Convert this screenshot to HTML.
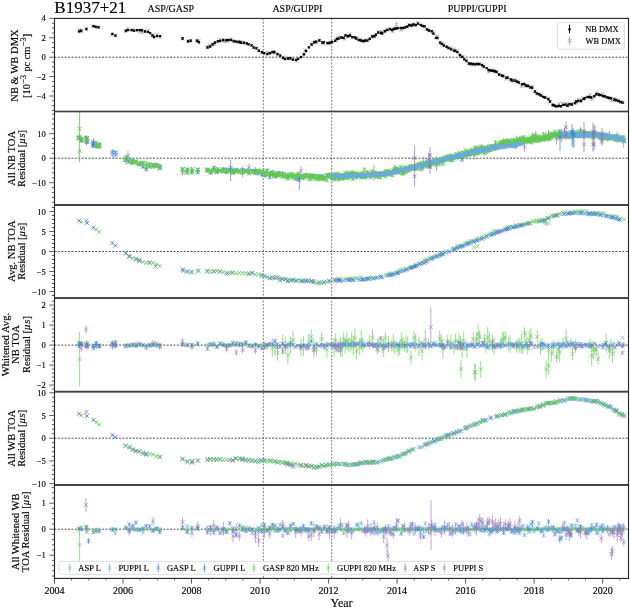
<!DOCTYPE html>
<html><head><meta charset="utf-8"><style>
html,body{margin:0;padding:0;background:#fff;width:630px;height:608px;overflow:hidden}
svg{display:block;font-family:"Liberation Serif",serif;fill:#222;will-change:transform}
text{fill:#000;stroke:#000;stroke-width:0.15px}
</style></head><body>
<svg width="630" height="608" viewBox="0 0 630 608">
<rect width="630" height="608" fill="#fff"/>
<defs>
<clipPath id="c0"><rect x="54.5" y="18.4" width="574" height="93.1"/></clipPath>
<clipPath id="c1"><rect x="54.5" y="111.5" width="574" height="93.5"/></clipPath>
<clipPath id="c2"><rect x="54.5" y="205" width="574" height="93.2"/></clipPath>
<clipPath id="c3"><rect x="54.5" y="298.2" width="574" height="93.4"/></clipPath>
<clipPath id="c4"><rect x="54.5" y="391.6" width="574" height="93.3"/></clipPath>
<clipPath id="c5"><rect x="54.5" y="484.9" width="574" height="93.5"/></clipPath>
</defs>
<line x1="54.5" y1="57.2" x2="628.5" y2="57.2" stroke="#333" stroke-width="0.9" stroke-dasharray="1.9 1.5"/>
<line x1="54.5" y1="158.2" x2="628.5" y2="158.2" stroke="#333" stroke-width="0.9" stroke-dasharray="1.9 1.5"/>
<line x1="54.5" y1="251.5" x2="628.5" y2="251.5" stroke="#333" stroke-width="0.9" stroke-dasharray="1.9 1.5"/>
<line x1="54.5" y1="345.1" x2="628.5" y2="345.1" stroke="#333" stroke-width="0.9" stroke-dasharray="1.9 1.5"/>
<line x1="54.5" y1="438.2" x2="628.5" y2="438.2" stroke="#333" stroke-width="0.9" stroke-dasharray="1.9 1.5"/>
<line x1="54.5" y1="529.2" x2="628.5" y2="529.2" stroke="#333" stroke-width="0.9" stroke-dasharray="1.9 1.5"/>
<line x1="263.3" y1="18.4" x2="263.3" y2="578.4" stroke="#555" stroke-width="0.8" stroke-dasharray="1.9 1.5"/>
<line x1="331.7" y1="18.4" x2="331.7" y2="578.4" stroke="#555" stroke-width="0.8" stroke-dasharray="1.9 1.5"/>
<g clip-path="url(#c0)">
<path d="M79.2 28.3v3.2M81.7 29.9v3.2M86.1 27.2v3.2M93 24.7v3.2M97.9 25.8v3.2M112.2 33.2v3.2M115.2 33.7v3.2M125.7 29.8v3.2M127.8 26.9v3.2M132.1 28.2v3.2M136.1 28.9v3.2M139.5 29.7v3.2M141.9 31v3.2M144.3 29.9v3.2M148.4 29.2v3.2M152.2 33.8v3.2M153.5 34.5v3.2M157.1 33.1v3.2M159.8 35.3v3.2M182.5 37.1v3.2M188.3 39.5v3.2M190.7 39v3.2M196.3 39.1v3.2M198.8 39.1v3.2M207.1 44.9v3.2M209.8 44.1v3.2M212.1 43.1v3.2M214.8 42.7v3.2M217.8 39.9v3.2M219.6 37.9v3.2M222.6 39.1v3.2M224.8 39.9v3.2M227.6 39.4v3.2M231.4 37.5v3.2M232.7 38.9v3.2M236.2 39.9v3.2M239.4 40.3v3.2M240.9 40.3v3.2M243.4 41.1v3.2M246.7 42v3.2M251.5 43.9v3.2M253.3 44.8v3.2M256.5 46.7v3.2M258.4 48.8v3.2M261.4 50.8v3.2M264.2 52v3.2M267.6 50.9v3.2M269.6 51.9v3.2M272.5 50.8v3.2M274.7 51.4v3.2M277.4 53.3v3.2M283.6 55.7v3.2M287.8 56.8v3.2M290.6 57.1v3.2M293 57.4v3.2M296.5 59.2v3.2M303.2 52.9v3.2M305 48.5v3.2M311.9 42.8v3.2M314.5 41.1v3.2M316.4 40.4v3.2M319.8 38.8v3.2M322.5 40.9v3.2M323.5 42.1v3.2M327.9 42.2v3.2M329.4 41.4v3.2M332.3 40.9v3.2M335.7 38.9v3.2M336.6 37.5v3.2M338.5 36.1v3.2M341.6 36v3.2M344.6 37.3v3.2M346.2 34v3.2M348.2 34.8v3.2M350.2 32.6v3.2M352.6 35.7v3.2M356.8 36v3.2M358.7 38.2v3.2M360.5 37.9v3.2M363.5 39.4v3.2M365.5 38.7v3.2M368.3 38.6v3.2M372.5 34.2v3.2M374.3 35.3v3.2M378.1 30.4v3.2M381.5 31.4v3.2M381.8 30.1v3.2M383.9 29.8v3.2M387.2 28.5v3.2M389.6 27.1v3.2M392.9 30v3.2M394.5 26.8v3.2M396 26.6v3.2M401 28.3v3.2M402 27.1v3.2M404.9 26.1v3.2M407 25.2v3.2M409 23.1v3.2M413.2 23.6v3.2M414.9 22.7v3.2M418.1 21.5v3.2M422.3 23.8v3.2M426.1 27.7v3.2M429 29.2v3.2M431.9 30.6v3.2M433.4 30.7v3.2M436.7 35v3.2M437.3 35v3.2M439.9 41.2v3.2M442.2 42.2v3.2M443.4 43.5v3.2M448.1 45.7v3.2M451 46.4v3.2M453.9 47.7v3.2M454.8 49v3.2M457.1 49.5v3.2M459.7 54.5v3.2M463.5 55.1v3.2M466.2 60.1v3.2M469 61.9v3.2M470.5 62.8v3.2M472.9 63.1v3.2M475.2 61.9v3.2M479.4 62.3v3.2M482.4 63.5v3.2M483.3 65.4v3.2M488.5 70.2v3.2M491.5 69v3.2M493.4 69.1v3.2M495.4 69.9v3.2M495.5 69.9v3.2M499.1 73.1v3.2M503.1 74.7v3.2M506.1 77.2v3.2M507 76v3.2M510.6 78.9v3.2M512.6 78.3v3.2M515.2 78.6v3.2M517.7 79.7v3.2M521.5 84.7v3.2M525.1 84.1v3.2M528 84.8v3.2M530.8 85.7v3.2M532.6 85.2v3.2M534.6 90.2v3.2M539.6 92.5v3.2M541 93.9v3.2M545.3 95.8v3.2M548.6 97.1v3.2M549.8 100.2v3.2M554.3 103.5v3.2M556.3 104.8v3.2M559 102.3v3.2M562.4 102v3.2M566.2 102.2v3.2M567.7 102.9v3.2M570.3 103v3.2M572.1 102v3.2M575.7 101.5v3.2M576.1 100.6v3.2M578.4 98.1v3.2M580.6 98.5v3.2M583.2 96.6v3.2M589.9 93.5v3.2M591.9 97.6v3.2M594 95.6v3.2M597 91.2v3.2M600.6 93.6v3.2M603.1 92.6v3.2M604.5 95v3.2M606.9 96v3.2M611.7 98.9v3.2M614.3 97.4v3.2M615.7 98.3v3.2M618.3 98.5v3.2M620.7 100.7v3.2M622.9 100.7v3.2M77.3 28l3.8 3.8m0 -3.8l-3.8 3.8M79.8 29.6l3.8 3.8m0 -3.8l-3.8 3.8M84.2 26.9l3.8 3.8m0 -3.8l-3.8 3.8M91.1 24.4l3.8 3.8m0 -3.8l-3.8 3.8M96 25.5l3.8 3.8m0 -3.8l-3.8 3.8M110.3 32.9l3.8 3.8m0 -3.8l-3.8 3.8M113.3 33.4l3.8 3.8m0 -3.8l-3.8 3.8M123.8 29.5l3.8 3.8m0 -3.8l-3.8 3.8M125.9 26.6l3.8 3.8m0 -3.8l-3.8 3.8M130.2 27.9l3.8 3.8m0 -3.8l-3.8 3.8M134.2 28.6l3.8 3.8m0 -3.8l-3.8 3.8M137.6 29.4l3.8 3.8m0 -3.8l-3.8 3.8M140 30.7l3.8 3.8m0 -3.8l-3.8 3.8M142.4 29.6l3.8 3.8m0 -3.8l-3.8 3.8M146.5 28.9l3.8 3.8m0 -3.8l-3.8 3.8M150.3 33.5l3.8 3.8m0 -3.8l-3.8 3.8M151.6 34.2l3.8 3.8m0 -3.8l-3.8 3.8M155.2 32.8l3.8 3.8m0 -3.8l-3.8 3.8M157.9 35l3.8 3.8m0 -3.8l-3.8 3.8M180.6 36.8l3.8 3.8m0 -3.8l-3.8 3.8M186.4 39.2l3.8 3.8m0 -3.8l-3.8 3.8M188.8 38.7l3.8 3.8m0 -3.8l-3.8 3.8M194.4 38.8l3.8 3.8m0 -3.8l-3.8 3.8M196.9 38.8l3.8 3.8m0 -3.8l-3.8 3.8M205.2 44.6l3.8 3.8m0 -3.8l-3.8 3.8M207.9 43.8l3.8 3.8m0 -3.8l-3.8 3.8M210.2 42.8l3.8 3.8m0 -3.8l-3.8 3.8M212.9 42.4l3.8 3.8m0 -3.8l-3.8 3.8M215.9 39.6l3.8 3.8m0 -3.8l-3.8 3.8M217.7 37.6l3.8 3.8m0 -3.8l-3.8 3.8M220.7 38.8l3.8 3.8m0 -3.8l-3.8 3.8M222.9 39.6l3.8 3.8m0 -3.8l-3.8 3.8M225.7 39.1l3.8 3.8m0 -3.8l-3.8 3.8M229.5 37.2l3.8 3.8m0 -3.8l-3.8 3.8M230.8 38.6l3.8 3.8m0 -3.8l-3.8 3.8M234.3 39.6l3.8 3.8m0 -3.8l-3.8 3.8M237.5 40l3.8 3.8m0 -3.8l-3.8 3.8M239 40l3.8 3.8m0 -3.8l-3.8 3.8M241.5 40.8l3.8 3.8m0 -3.8l-3.8 3.8M244.8 41.7l3.8 3.8m0 -3.8l-3.8 3.8M249.6 43.6l3.8 3.8m0 -3.8l-3.8 3.8M251.4 44.5l3.8 3.8m0 -3.8l-3.8 3.8M254.6 46.4l3.8 3.8m0 -3.8l-3.8 3.8M256.5 48.5l3.8 3.8m0 -3.8l-3.8 3.8M259.5 50.5l3.8 3.8m0 -3.8l-3.8 3.8M262.3 51.7l3.8 3.8m0 -3.8l-3.8 3.8M265.7 50.6l3.8 3.8m0 -3.8l-3.8 3.8M267.7 51.6l3.8 3.8m0 -3.8l-3.8 3.8M270.6 50.5l3.8 3.8m0 -3.8l-3.8 3.8M272.8 51.1l3.8 3.8m0 -3.8l-3.8 3.8M275.5 53l3.8 3.8m0 -3.8l-3.8 3.8M281.7 55.4l3.8 3.8m0 -3.8l-3.8 3.8M285.9 56.5l3.8 3.8m0 -3.8l-3.8 3.8M288.7 56.8l3.8 3.8m0 -3.8l-3.8 3.8M291.1 57.1l3.8 3.8m0 -3.8l-3.8 3.8M294.6 58.9l3.8 3.8m0 -3.8l-3.8 3.8M301.3 52.6l3.8 3.8m0 -3.8l-3.8 3.8M303.1 48.2l3.8 3.8m0 -3.8l-3.8 3.8M310 42.5l3.8 3.8m0 -3.8l-3.8 3.8M312.6 40.8l3.8 3.8m0 -3.8l-3.8 3.8M314.5 40.1l3.8 3.8m0 -3.8l-3.8 3.8M317.9 38.5l3.8 3.8m0 -3.8l-3.8 3.8M320.6 40.6l3.8 3.8m0 -3.8l-3.8 3.8M321.6 41.8l3.8 3.8m0 -3.8l-3.8 3.8M326 41.9l3.8 3.8m0 -3.8l-3.8 3.8M327.5 41.1l3.8 3.8m0 -3.8l-3.8 3.8M330.4 40.6l3.8 3.8m0 -3.8l-3.8 3.8M333.8 38.6l3.8 3.8m0 -3.8l-3.8 3.8M334.7 37.2l3.8 3.8m0 -3.8l-3.8 3.8M336.6 35.8l3.8 3.8m0 -3.8l-3.8 3.8M339.7 35.7l3.8 3.8m0 -3.8l-3.8 3.8M342.7 37l3.8 3.8m0 -3.8l-3.8 3.8M344.3 33.7l3.8 3.8m0 -3.8l-3.8 3.8M346.3 34.5l3.8 3.8m0 -3.8l-3.8 3.8M348.3 32.3l3.8 3.8m0 -3.8l-3.8 3.8M350.7 35.4l3.8 3.8m0 -3.8l-3.8 3.8M354.9 35.7l3.8 3.8m0 -3.8l-3.8 3.8M356.8 37.9l3.8 3.8m0 -3.8l-3.8 3.8M358.6 37.6l3.8 3.8m0 -3.8l-3.8 3.8M361.6 39.1l3.8 3.8m0 -3.8l-3.8 3.8M363.6 38.4l3.8 3.8m0 -3.8l-3.8 3.8M366.4 38.3l3.8 3.8m0 -3.8l-3.8 3.8M370.6 33.9l3.8 3.8m0 -3.8l-3.8 3.8M372.4 35l3.8 3.8m0 -3.8l-3.8 3.8M376.2 30.1l3.8 3.8m0 -3.8l-3.8 3.8M379.6 31.1l3.8 3.8m0 -3.8l-3.8 3.8M379.9 29.8l3.8 3.8m0 -3.8l-3.8 3.8M382 29.5l3.8 3.8m0 -3.8l-3.8 3.8M385.3 28.2l3.8 3.8m0 -3.8l-3.8 3.8M387.7 26.8l3.8 3.8m0 -3.8l-3.8 3.8M391 29.7l3.8 3.8m0 -3.8l-3.8 3.8M392.6 26.5l3.8 3.8m0 -3.8l-3.8 3.8M394.1 26.3l3.8 3.8m0 -3.8l-3.8 3.8M399.1 28l3.8 3.8m0 -3.8l-3.8 3.8M400.1 26.8l3.8 3.8m0 -3.8l-3.8 3.8M403 25.8l3.8 3.8m0 -3.8l-3.8 3.8M405.1 24.9l3.8 3.8m0 -3.8l-3.8 3.8M407.1 22.8l3.8 3.8m0 -3.8l-3.8 3.8M411.3 23.3l3.8 3.8m0 -3.8l-3.8 3.8M413 22.4l3.8 3.8m0 -3.8l-3.8 3.8M416.2 21.2l3.8 3.8m0 -3.8l-3.8 3.8M420.4 23.5l3.8 3.8m0 -3.8l-3.8 3.8M424.2 27.4l3.8 3.8m0 -3.8l-3.8 3.8M427.1 28.9l3.8 3.8m0 -3.8l-3.8 3.8M430 30.3l3.8 3.8m0 -3.8l-3.8 3.8M431.5 30.4l3.8 3.8m0 -3.8l-3.8 3.8M434.8 34.7l3.8 3.8m0 -3.8l-3.8 3.8M435.4 34.7l3.8 3.8m0 -3.8l-3.8 3.8M438 40.9l3.8 3.8m0 -3.8l-3.8 3.8M440.3 41.9l3.8 3.8m0 -3.8l-3.8 3.8M441.5 43.2l3.8 3.8m0 -3.8l-3.8 3.8M446.2 45.4l3.8 3.8m0 -3.8l-3.8 3.8M449.1 46.1l3.8 3.8m0 -3.8l-3.8 3.8M452 47.4l3.8 3.8m0 -3.8l-3.8 3.8M452.9 48.7l3.8 3.8m0 -3.8l-3.8 3.8M455.2 49.2l3.8 3.8m0 -3.8l-3.8 3.8M457.8 54.2l3.8 3.8m0 -3.8l-3.8 3.8M461.6 54.8l3.8 3.8m0 -3.8l-3.8 3.8M464.3 59.8l3.8 3.8m0 -3.8l-3.8 3.8M467.1 61.6l3.8 3.8m0 -3.8l-3.8 3.8M468.6 62.5l3.8 3.8m0 -3.8l-3.8 3.8M471 62.8l3.8 3.8m0 -3.8l-3.8 3.8M473.3 61.6l3.8 3.8m0 -3.8l-3.8 3.8M477.5 62l3.8 3.8m0 -3.8l-3.8 3.8M480.5 63.2l3.8 3.8m0 -3.8l-3.8 3.8M481.4 65.1l3.8 3.8m0 -3.8l-3.8 3.8M486.6 69.9l3.8 3.8m0 -3.8l-3.8 3.8M489.6 68.7l3.8 3.8m0 -3.8l-3.8 3.8M491.5 68.8l3.8 3.8m0 -3.8l-3.8 3.8M493.5 69.6l3.8 3.8m0 -3.8l-3.8 3.8M493.6 69.6l3.8 3.8m0 -3.8l-3.8 3.8M497.2 72.8l3.8 3.8m0 -3.8l-3.8 3.8M501.2 74.4l3.8 3.8m0 -3.8l-3.8 3.8M504.2 76.9l3.8 3.8m0 -3.8l-3.8 3.8M505.1 75.7l3.8 3.8m0 -3.8l-3.8 3.8M508.7 78.6l3.8 3.8m0 -3.8l-3.8 3.8M510.7 78l3.8 3.8m0 -3.8l-3.8 3.8M513.3 78.3l3.8 3.8m0 -3.8l-3.8 3.8M515.8 79.4l3.8 3.8m0 -3.8l-3.8 3.8M519.6 84.4l3.8 3.8m0 -3.8l-3.8 3.8M523.2 83.8l3.8 3.8m0 -3.8l-3.8 3.8M526.1 84.5l3.8 3.8m0 -3.8l-3.8 3.8M528.9 85.4l3.8 3.8m0 -3.8l-3.8 3.8M530.7 84.9l3.8 3.8m0 -3.8l-3.8 3.8M532.7 89.9l3.8 3.8m0 -3.8l-3.8 3.8M537.7 92.2l3.8 3.8m0 -3.8l-3.8 3.8M539.1 93.6l3.8 3.8m0 -3.8l-3.8 3.8M543.4 95.5l3.8 3.8m0 -3.8l-3.8 3.8M546.7 96.8l3.8 3.8m0 -3.8l-3.8 3.8M547.9 99.9l3.8 3.8m0 -3.8l-3.8 3.8M552.4 103.2l3.8 3.8m0 -3.8l-3.8 3.8M554.4 104.5l3.8 3.8m0 -3.8l-3.8 3.8M557.1 102l3.8 3.8m0 -3.8l-3.8 3.8M560.5 101.7l3.8 3.8m0 -3.8l-3.8 3.8M564.3 101.9l3.8 3.8m0 -3.8l-3.8 3.8M565.8 102.6l3.8 3.8m0 -3.8l-3.8 3.8M568.4 102.7l3.8 3.8m0 -3.8l-3.8 3.8M570.2 101.7l3.8 3.8m0 -3.8l-3.8 3.8M573.8 101.2l3.8 3.8m0 -3.8l-3.8 3.8M574.2 100.3l3.8 3.8m0 -3.8l-3.8 3.8M576.5 97.8l3.8 3.8m0 -3.8l-3.8 3.8M578.7 98.2l3.8 3.8m0 -3.8l-3.8 3.8M581.3 96.3l3.8 3.8m0 -3.8l-3.8 3.8M588 93.2l3.8 3.8m0 -3.8l-3.8 3.8M590 97.3l3.8 3.8m0 -3.8l-3.8 3.8M592.1 95.3l3.8 3.8m0 -3.8l-3.8 3.8M595.1 90.9l3.8 3.8m0 -3.8l-3.8 3.8M598.7 93.3l3.8 3.8m0 -3.8l-3.8 3.8M601.2 92.3l3.8 3.8m0 -3.8l-3.8 3.8M602.6 94.7l3.8 3.8m0 -3.8l-3.8 3.8M605 95.7l3.8 3.8m0 -3.8l-3.8 3.8M609.8 98.6l3.8 3.8m0 -3.8l-3.8 3.8M612.4 97.1l3.8 3.8m0 -3.8l-3.8 3.8M613.8 98l3.8 3.8m0 -3.8l-3.8 3.8M616.4 98.2l3.8 3.8m0 -3.8l-3.8 3.8M618.8 100.4l3.8 3.8m0 -3.8l-3.8 3.8M621 100.4l3.8 3.8m0 -3.8l-3.8 3.8M395 23l3 3m0 -3l-3 3M396.5 22v5" stroke="#999" stroke-width="0.6" fill="none"/>
<path d="M79 30.3v2.2M81.3 29.2v3M86.4 28.2v1.9M93.4 25v2.2M95.7 25.5v2.5M98.5 26.3v1.9M112.4 32.6v2.5M115.4 34.5v2.1M125.8 29.4v2.6M128.2 29.1v1.9M131.6 29.1v1.9M134 29.7v1.9M137 28.9v2.4M139.7 28.8v2.6M142 29.3v2M145.1 30v2.8M147.9 30.9v2M150.2 32.1v2M152.5 34.3v2.1M154.1 35.9v2.3M157.1 35.2v1.8M160.1 35v2.2M182.6 37.1v2.7M188 40.1v2.3M190.7 39.8v1.8M197.2 39.5v2.4M198.8 41.2v2.2M207.5 46.2v2.5M210.2 45.2v2.5M212.6 43.2v2.1M215 41.3v2.5M217.7 40.4v1.9M220.2 39.4v2.9M223.1 38.7v2.6M226.2 38.9v2.6M228.1 39v2.1M230.7 39v2M233.7 40.1v2.3M236.2 40.6v2M238.7 40.7v2.5M241 41.1v2.9M243.9 41.7v2.2M246.7 42.3v2.2M248.6 43.2v2.2M251.5 44.4v1.9M253.6 46.3v2.6M256.4 47.3v2M258.9 49.8v1.9M262 51.3v2M264.3 52.2v1.9M267.4 53v2.1M270 52.2v1.9M272.4 51v2M274.2 50.6v2.7M277.5 53.1v1.9M280.3 54v3.3M282.9 56.5v2.7M285 58v2M287.9 57v2.8M290.4 57.1v2.6M293 58.8v1.9M296.3 58.7v2.2M298.2 57.8v2M301.1 55.9v2.4M304 53.1v2.1M306.1 49.9v2M308.9 46.4v2M311.5 43.4v2M314.1 40.5v3.5M316.3 40.3v2.8M319.3 39.3v2.3M322.4 41.1v3M324 41v2.6M327.4 42.2v1.9M329.7 41.4v2.7M332.1 40.7v2.7M335.2 39.7v2.1M337 37.7v2.3M338.5 37.4v2.2M341.1 36.4v2M343.5 36.7v2.2M345.4 33.9v3M347.9 35.3v1.9M349.9 34.3v2.3M352.3 36v2.3M354.8 36.4v2M356.3 37.3v2.3M358.8 39.2v1.8M360.7 39.4v2.2M363.1 39.5v3.3M364.9 39.2v3M367.3 39.6v2.1M369.6 37.4v2.8M372.2 35.3v2.2M374.5 35.3v1.9M375.8 33.3v2.8M378.2 31.4v2.2M380.9 31.2v3.2M382.2 31.8v3M384.9 30v2.5M387.3 28.8v2M389.9 28.2v2M391.9 28.5v2.8M393.8 27.7v2.6M396 27.5v1.8M398.2 27.1v2.1M401 26.6v2.5M402.6 27.1v1.9M404.8 26.5v1.9M407.2 25.3v2.7M409.3 23.9v2.7M411.4 24.5v2.2M413.3 23.2v2.6M415.9 24.1v2.2M417.9 22.7v2M420.7 24.1v2M422.7 25.1v1.9M424.7 25v2.5M427.1 28.3v2.2M429 29.3v2.2M431.7 30v2.2M433.5 32.6v2M435.9 36.9v2M437.4 37.2v1.9M440.2 41.7v1.9M441.7 42.8v2.1M443.8 43.8v3.3M446.6 45.6v2.3M448.6 47.1v2.1M451.2 48.3v2.1M454.1 49.9v1.9M455.2 49.5v2.3M457.5 51.1v2.2M460 53.7v2.7M462.3 55.7v2.4M464.2 58.2v2.3M466.4 59.7v1.9M468.9 62.1v2.8M471.1 62.4v2.6M472.7 62.9v2.3M475.3 63.4v1.9M477.5 63v2.1M479.3 63.2v2.1M482 64.2v1.9M483.8 65.2v2.4M486.6 67.2v1.9M488.6 68.8v2.5M490.7 69.4v2.2M492.7 69.5v2.6M495.1 70.3v1.9M496.6 71v1.8M499.1 73.4v2.3M501.8 74.3v2.4M503.2 74.9v2.2M506.4 76.4v2.5M507.7 76.5v2.5M510.8 78.4v2M512.4 79.5v2M515.2 79.8v1.8M517.1 80.8v1.8M518.8 81.6v1.9M521.9 83v2.5M524.2 82.9v2.3M525.9 84.1v3M528 84.6v2.2M530.2 86.3v2.1M532.2 86.1v3.2M535.1 90.5v1.9M536.7 92.4v2.3M539.1 93.3v1.8M541 94.5v1.9M543.3 95.8v2.1M545.3 96.5v2M548.3 97.9v2.3M550 100.3v2.3M552.6 103.4v3M554.5 104.2v2.9M556.5 105.3v2.1M558.8 104.4v2.9M560.9 105.2v2.2M563.3 103.9v1.9M565.4 103.4v2.4M567.6 104.5v2.4M569.4 103.1v2M571.8 103.6v1.9M574.9 102.1v1.9M576.3 99.9v3M578.3 99.8v2.3M581 99.4v3.3M583.6 97.9v2M584.8 97.1v2.3M587.4 95.9v2M589.5 95.8v2.7M591.3 96.4v2.2M594.4 94.9v2.5M596.3 93.1v2.4M598.5 92.8v3.2M600.4 94v2M603.1 95.2v1.9M604.9 95.3v2.2M607.2 96.2v2.2M609.1 96.4v3M611.3 96.9v2.7M614.4 98.6v1.9M615.9 99.2v2.1M618.4 99.7v2.5M620.5 100.6v2.4M622.5 101.7v1.8" stroke="#222" stroke-width="0.6" fill="none"/>
<path d="M78 30.3l2.1 2.1m0 -2.1l-2.1 2.1M80.2 29.6l2.1 2.1m0 -2.1l-2.1 2.1M85.4 28.1l2.1 2.1m0 -2.1l-2.1 2.1M92.4 25.1l2.1 2.1m0 -2.1l-2.1 2.1M94.7 25.8l2.1 2.1m0 -2.1l-2.1 2.1M97.5 26.2l2.1 2.1m0 -2.1l-2.1 2.1M111.4 32.8l2.1 2.1m0 -2.1l-2.1 2.1M114.4 34.6l2.1 2.1m0 -2.1l-2.1 2.1M124.8 29.6l2.1 2.1m0 -2.1l-2.1 2.1M127.1 29.1l2.1 2.1m0 -2.1l-2.1 2.1M130.5 29.1l2.1 2.1m0 -2.1l-2.1 2.1M132.9 29.6l2.1 2.1m0 -2.1l-2.1 2.1M135.9 29.1l2.1 2.1m0 -2.1l-2.1 2.1M138.6 29.1l2.1 2.1m0 -2.1l-2.1 2.1M140.9 29.2l2.1 2.1m0 -2.1l-2.1 2.1M144 30.3l2.1 2.1m0 -2.1l-2.1 2.1M146.8 30.8l2.1 2.1m0 -2.1l-2.1 2.1M149.1 32.1l2.1 2.1m0 -2.1l-2.1 2.1M151.4 34.4l2.1 2.1m0 -2.1l-2.1 2.1M153 36l2.1 2.1m0 -2.1l-2.1 2.1M156 35.1l2.1 2.1m0 -2.1l-2.1 2.1M159 35.1l2.1 2.1m0 -2.1l-2.1 2.1M181.5 37.4l2.1 2.1m0 -2.1l-2.1 2.1M186.9 40.2l2.1 2.1m0 -2.1l-2.1 2.1M189.6 39.7l2.1 2.1m0 -2.1l-2.1 2.1M196.1 39.7l2.1 2.1m0 -2.1l-2.1 2.1M197.8 41.2l2.1 2.1m0 -2.1l-2.1 2.1M206.5 46.4l2.1 2.1m0 -2.1l-2.1 2.1M209.2 45.4l2.1 2.1m0 -2.1l-2.1 2.1M211.6 43.2l2.1 2.1m0 -2.1l-2.1 2.1M213.9 41.5l2.1 2.1m0 -2.1l-2.1 2.1M216.7 40.3l2.1 2.1m0 -2.1l-2.1 2.1M219.1 39.8l2.1 2.1m0 -2.1l-2.1 2.1M222.1 38.9l2.1 2.1m0 -2.1l-2.1 2.1M225.1 39.2l2.1 2.1m0 -2.1l-2.1 2.1M227.1 39l2.1 2.1m0 -2.1l-2.1 2.1M229.6 38.9l2.1 2.1m0 -2.1l-2.1 2.1M232.6 40.2l2.1 2.1m0 -2.1l-2.1 2.1M235.2 40.6l2.1 2.1m0 -2.1l-2.1 2.1M237.7 40.9l2.1 2.1m0 -2.1l-2.1 2.1M239.9 41.5l2.1 2.1m0 -2.1l-2.1 2.1M242.8 41.7l2.1 2.1m0 -2.1l-2.1 2.1M245.7 42.3l2.1 2.1m0 -2.1l-2.1 2.1M247.6 43.3l2.1 2.1m0 -2.1l-2.1 2.1M250.5 44.3l2.1 2.1m0 -2.1l-2.1 2.1M252.6 46.6l2.1 2.1m0 -2.1l-2.1 2.1M255.4 47.2l2.1 2.1m0 -2.1l-2.1 2.1M257.8 49.7l2.1 2.1m0 -2.1l-2.1 2.1M261 51.2l2.1 2.1m0 -2.1l-2.1 2.1M263.2 52.1l2.1 2.1m0 -2.1l-2.1 2.1M266.3 53l2.1 2.1m0 -2.1l-2.1 2.1M268.9 52.1l2.1 2.1m0 -2.1l-2.1 2.1M271.4 51l2.1 2.1m0 -2.1l-2.1 2.1M273.2 50.9l2.1 2.1m0 -2.1l-2.1 2.1M276.5 53l2.1 2.1m0 -2.1l-2.1 2.1M279.2 54.6l2.1 2.1m0 -2.1l-2.1 2.1M281.9 56.8l2.1 2.1m0 -2.1l-2.1 2.1M283.9 57.9l2.1 2.1m0 -2.1l-2.1 2.1M286.9 57.4l2.1 2.1m0 -2.1l-2.1 2.1M289.3 57.3l2.1 2.1m0 -2.1l-2.1 2.1M292 58.6l2.1 2.1m0 -2.1l-2.1 2.1M295.2 58.8l2.1 2.1m0 -2.1l-2.1 2.1M297.2 57.8l2.1 2.1m0 -2.1l-2.1 2.1M300 56.1l2.1 2.1m0 -2.1l-2.1 2.1M303 53.2l2.1 2.1m0 -2.1l-2.1 2.1M305 49.9l2.1 2.1m0 -2.1l-2.1 2.1M307.8 46.3l2.1 2.1m0 -2.1l-2.1 2.1M310.5 43.4l2.1 2.1m0 -2.1l-2.1 2.1M313.1 41.2l2.1 2.1m0 -2.1l-2.1 2.1M315.2 40.7l2.1 2.1m0 -2.1l-2.1 2.1M318.3 39.4l2.1 2.1m0 -2.1l-2.1 2.1M321.3 41.5l2.1 2.1m0 -2.1l-2.1 2.1M322.9 41.3l2.1 2.1m0 -2.1l-2.1 2.1M326.4 42.1l2.1 2.1m0 -2.1l-2.1 2.1M328.7 41.7l2.1 2.1m0 -2.1l-2.1 2.1M331 41l2.1 2.1m0 -2.1l-2.1 2.1M334.2 39.7l2.1 2.1m0 -2.1l-2.1 2.1M335.9 37.9l2.1 2.1m0 -2.1l-2.1 2.1M337.4 37.5l2.1 2.1m0 -2.1l-2.1 2.1M340.1 36.4l2.1 2.1m0 -2.1l-2.1 2.1M342.5 36.8l2.1 2.1m0 -2.1l-2.1 2.1M344.4 34.3l2.1 2.1m0 -2.1l-2.1 2.1M346.9 35.2l2.1 2.1m0 -2.1l-2.1 2.1M348.8 34.4l2.1 2.1m0 -2.1l-2.1 2.1M351.3 36.1l2.1 2.1m0 -2.1l-2.1 2.1M353.8 36.3l2.1 2.1m0 -2.1l-2.1 2.1M355.2 37.4l2.1 2.1m0 -2.1l-2.1 2.1M357.7 39.1l2.1 2.1m0 -2.1l-2.1 2.1M359.7 39.4l2.1 2.1m0 -2.1l-2.1 2.1M362.1 40.1l2.1 2.1m0 -2.1l-2.1 2.1M363.8 39.6l2.1 2.1m0 -2.1l-2.1 2.1M366.2 39.6l2.1 2.1m0 -2.1l-2.1 2.1M368.6 37.7l2.1 2.1m0 -2.1l-2.1 2.1M371.2 35.4l2.1 2.1m0 -2.1l-2.1 2.1M373.5 35.2l2.1 2.1m0 -2.1l-2.1 2.1M374.8 33.7l2.1 2.1m0 -2.1l-2.1 2.1M377.2 31.5l2.1 2.1m0 -2.1l-2.1 2.1M379.9 31.8l2.1 2.1m0 -2.1l-2.1 2.1M381.2 32.3l2.1 2.1m0 -2.1l-2.1 2.1M383.9 30.2l2.1 2.1m0 -2.1l-2.1 2.1M386.2 28.8l2.1 2.1m0 -2.1l-2.1 2.1M388.9 28.1l2.1 2.1m0 -2.1l-2.1 2.1M390.9 28.9l2.1 2.1m0 -2.1l-2.1 2.1M392.7 27.9l2.1 2.1m0 -2.1l-2.1 2.1M394.9 27.4l2.1 2.1m0 -2.1l-2.1 2.1M397.2 27.1l2.1 2.1m0 -2.1l-2.1 2.1M400 26.8l2.1 2.1m0 -2.1l-2.1 2.1M401.5 27l2.1 2.1m0 -2.1l-2.1 2.1M403.7 26.4l2.1 2.1m0 -2.1l-2.1 2.1M406.2 25.6l2.1 2.1m0 -2.1l-2.1 2.1M408.2 24.2l2.1 2.1m0 -2.1l-2.1 2.1M410.4 24.5l2.1 2.1m0 -2.1l-2.1 2.1M412.3 23.5l2.1 2.1m0 -2.1l-2.1 2.1M414.8 24.1l2.1 2.1m0 -2.1l-2.1 2.1M416.9 22.6l2.1 2.1m0 -2.1l-2.1 2.1M419.7 24l2.1 2.1m0 -2.1l-2.1 2.1M421.7 25.1l2.1 2.1m0 -2.1l-2.1 2.1M423.6 25.3l2.1 2.1m0 -2.1l-2.1 2.1M426.1 28.3l2.1 2.1m0 -2.1l-2.1 2.1M427.9 29.4l2.1 2.1m0 -2.1l-2.1 2.1M430.6 30.1l2.1 2.1m0 -2.1l-2.1 2.1M432.4 32.6l2.1 2.1m0 -2.1l-2.1 2.1M434.9 36.8l2.1 2.1m0 -2.1l-2.1 2.1M436.4 37.1l2.1 2.1m0 -2.1l-2.1 2.1M439.2 41.6l2.1 2.1m0 -2.1l-2.1 2.1M440.7 42.8l2.1 2.1m0 -2.1l-2.1 2.1M442.7 44.4l2.1 2.1m0 -2.1l-2.1 2.1M445.5 45.7l2.1 2.1m0 -2.1l-2.1 2.1M447.5 47.1l2.1 2.1m0 -2.1l-2.1 2.1M450.1 48.3l2.1 2.1m0 -2.1l-2.1 2.1M453 49.8l2.1 2.1m0 -2.1l-2.1 2.1M454.2 49.6l2.1 2.1m0 -2.1l-2.1 2.1M456.4 51.1l2.1 2.1m0 -2.1l-2.1 2.1M458.9 54l2.1 2.1m0 -2.1l-2.1 2.1M461.2 55.8l2.1 2.1m0 -2.1l-2.1 2.1M463.2 58.3l2.1 2.1m0 -2.1l-2.1 2.1M465.4 59.6l2.1 2.1m0 -2.1l-2.1 2.1M467.9 62.5l2.1 2.1m0 -2.1l-2.1 2.1M470 62.6l2.1 2.1m0 -2.1l-2.1 2.1M471.7 63l2.1 2.1m0 -2.1l-2.1 2.1M474.2 63.3l2.1 2.1m0 -2.1l-2.1 2.1M476.5 63l2.1 2.1m0 -2.1l-2.1 2.1M478.3 63.1l2.1 2.1m0 -2.1l-2.1 2.1M480.9 64.1l2.1 2.1m0 -2.1l-2.1 2.1M482.7 65.3l2.1 2.1m0 -2.1l-2.1 2.1M485.6 67.1l2.1 2.1m0 -2.1l-2.1 2.1M487.5 69l2.1 2.1m0 -2.1l-2.1 2.1M489.7 69.4l2.1 2.1m0 -2.1l-2.1 2.1M491.6 69.7l2.1 2.1m0 -2.1l-2.1 2.1M494 70.2l2.1 2.1m0 -2.1l-2.1 2.1M495.6 70.9l2.1 2.1m0 -2.1l-2.1 2.1M498.1 73.5l2.1 2.1m0 -2.1l-2.1 2.1M500.8 74.4l2.1 2.1m0 -2.1l-2.1 2.1M502.1 75l2.1 2.1m0 -2.1l-2.1 2.1M505.3 76.6l2.1 2.1m0 -2.1l-2.1 2.1M506.6 76.6l2.1 2.1m0 -2.1l-2.1 2.1M509.7 78.4l2.1 2.1m0 -2.1l-2.1 2.1M511.4 79.5l2.1 2.1m0 -2.1l-2.1 2.1M514.1 79.6l2.1 2.1m0 -2.1l-2.1 2.1M516.1 80.7l2.1 2.1m0 -2.1l-2.1 2.1M517.7 81.5l2.1 2.1m0 -2.1l-2.1 2.1M520.9 83.2l2.1 2.1m0 -2.1l-2.1 2.1M523.2 83l2.1 2.1m0 -2.1l-2.1 2.1M524.8 84.5l2.1 2.1m0 -2.1l-2.1 2.1M527 84.7l2.1 2.1m0 -2.1l-2.1 2.1M529.2 86.3l2.1 2.1m0 -2.1l-2.1 2.1M531.1 86.7l2.1 2.1m0 -2.1l-2.1 2.1M534 90.5l2.1 2.1m0 -2.1l-2.1 2.1M535.7 92.5l2.1 2.1m0 -2.1l-2.1 2.1M538 93.2l2.1 2.1m0 -2.1l-2.1 2.1M540 94.4l2.1 2.1m0 -2.1l-2.1 2.1M542.2 95.8l2.1 2.1m0 -2.1l-2.1 2.1M544.2 96.5l2.1 2.1m0 -2.1l-2.1 2.1M547.3 98.1l2.1 2.1m0 -2.1l-2.1 2.1M549 100.4l2.1 2.1m0 -2.1l-2.1 2.1M551.6 103.9l2.1 2.1m0 -2.1l-2.1 2.1M553.5 104.6l2.1 2.1m0 -2.1l-2.1 2.1M555.4 105.3l2.1 2.1m0 -2.1l-2.1 2.1M557.7 104.8l2.1 2.1m0 -2.1l-2.1 2.1M559.9 105.2l2.1 2.1m0 -2.1l-2.1 2.1M562.3 103.8l2.1 2.1m0 -2.1l-2.1 2.1M564.3 103.6l2.1 2.1m0 -2.1l-2.1 2.1M566.5 104.7l2.1 2.1m0 -2.1l-2.1 2.1M568.4 103.1l2.1 2.1m0 -2.1l-2.1 2.1M570.8 103.5l2.1 2.1m0 -2.1l-2.1 2.1M573.8 102.1l2.1 2.1m0 -2.1l-2.1 2.1M575.2 100.4l2.1 2.1m0 -2.1l-2.1 2.1M577.3 99.9l2.1 2.1m0 -2.1l-2.1 2.1M580 100l2.1 2.1m0 -2.1l-2.1 2.1M582.5 97.9l2.1 2.1m0 -2.1l-2.1 2.1M583.7 97.2l2.1 2.1m0 -2.1l-2.1 2.1M586.4 95.9l2.1 2.1m0 -2.1l-2.1 2.1M588.4 96.1l2.1 2.1m0 -2.1l-2.1 2.1M590.2 96.4l2.1 2.1m0 -2.1l-2.1 2.1M593.3 95.1l2.1 2.1m0 -2.1l-2.1 2.1M595.2 93.2l2.1 2.1m0 -2.1l-2.1 2.1M597.5 93.4l2.1 2.1m0 -2.1l-2.1 2.1M599.4 94l2.1 2.1m0 -2.1l-2.1 2.1M602 95.1l2.1 2.1m0 -2.1l-2.1 2.1M603.9 95.3l2.1 2.1m0 -2.1l-2.1 2.1M606.2 96.3l2.1 2.1m0 -2.1l-2.1 2.1M608.1 96.9l2.1 2.1m0 -2.1l-2.1 2.1M610.2 97.2l2.1 2.1m0 -2.1l-2.1 2.1M613.3 98.5l2.1 2.1m0 -2.1l-2.1 2.1M614.9 99.2l2.1 2.1m0 -2.1l-2.1 2.1M617.4 99.9l2.1 2.1m0 -2.1l-2.1 2.1M619.4 100.8l2.1 2.1m0 -2.1l-2.1 2.1M621.5 101.6l2.1 2.1m0 -2.1l-2.1 2.1" stroke="#000" stroke-width="1.1" fill="none"/>
</g>
<g clip-path="url(#c1)">
<path d="M86.4 135.6v7.6M84.6 137.4l4 4m0 -4l-4 4M86.5 137.9v7.2M84.3 139.4l4 4m0 -4l-4 4M86.5 135.6v10M85 138.6l4 4m0 -4l-4 4M93.3 139v8.7M91.6 141.3l4 4m0 -4l-4 4M93.5 138.2v6.9M90.9 139.7l4 4m0 -4l-4 4M112.9 150.6v8.3M110.4 152.7l4 4m0 -4l-4 4M128 150.6V163.3M126 154l4 4m0 -4l-4 4M125.8 154.5v10.6M123.8 157.8l4 4m0 -4l-4 4M182.6 168.5v7.9M180.6 170.5l4 4m0 -4l-4 4M226.6 167.4v7.2M224.6 169.1l4 4m0 -4l-4 4M233 167.2v7.1M231 168.8l4 4m0 -4l-4 4M242.6 166.5v10.9M240.6 169.9l4 4m0 -4l-4 4M249 163.5v7.9M247 165.4l4 4m0 -4l-4 4M255.4 167v8.1M253.4 169l4 4m0 -4l-4 4M300.9 166v10.3M298.9 169.1l4 4m0 -4l-4 4M374.1 165v15.5M372.1 170.7l4 4m0 -4l-4 4M423.7 156.3v13.5M421.7 161l4 4m0 -4l-4 4M426.9 158.1v11.1M424.9 161.7l4 4m0 -4l-4 4M428.5 153.7v12.9M426.5 158.1l4 4m0 -4l-4 4M430.1 154.1v13.1M428.1 158.6l4 4m0 -4l-4 4M436.5 156v15M434.5 161.5l4 4m0 -4l-4 4M474.9 145v14.6M472.9 150.3l4 4m0 -4l-4 4M482.9 145v8.8M480.9 147.4l4 4m0 -4l-4 4M516.5 135.6v13.9M514.5 140.5l4 4m0 -4l-4 4M524.5 141.9v9.8M522.5 144.8l4 4m0 -4l-4 4M532.5 132.7v11.9M530.5 136.7l4 4m0 -4l-4 4M535.7 131v11.9M533.7 135l4 4m0 -4l-4 4M545.3 132.8v9M543.3 135.3l4 4m0 -4l-4 4M556.5 133.1v11.3M554.5 136.7l4 4m0 -4l-4 4M561.3 128.5v13.5M559.3 133.3l4 4m0 -4l-4 4M562.9 129.6v10.3M560.9 132.8l4 4m0 -4l-4 4M564.5 127.5v11.7M562.5 131.3l4 4m0 -4l-4 4M594.9 124.7v13.9M592.9 129.7l4 4m0 -4l-4 4M601.3 133.2v10.6M599.3 136.4l4 4m0 -4l-4 4M617.3 131.3v12.1M615.3 135.4l4 4m0 -4l-4 4M623.7 135.3v12.7M621.7 139.6l4 4m0 -4l-4 4" stroke="#9A78B8" stroke-width="0.85" fill="none" opacity="0.8"/>
<path d="M79 135.7v4.4M76.8 135.9l4 4m0 -4l-4 4M79.5 135.4v4.5M77.1 135.6l4 4m0 -4l-4 4M82 138.3v3.9M79.7 138.2l4 4m0 -4l-4 4M81 138.1v4.4M79.3 138.3l4 4m0 -4l-4 4M86.1 136v4.5M84.6 136.3l4 4m0 -4l-4 4M86.6 135.7v5.3M84.7 136.3l4 4m0 -4l-4 4M87.2 139.9v4.1M85.3 139.9l4 4m0 -4l-4 4M93.7 140.7v5.7M91.4 141.5l4 4m0 -4l-4 4M93 143.6v4.5M91.1 143.8l4 4m0 -4l-4 4M93.3 142.8v3.2M91.2 142.4l4 4m0 -4l-4 4M96.6 144.3v4M94.4 144.3l4 4m0 -4l-4 4M99.1 141.9v5.5M96.8 142.7l4 4m0 -4l-4 4M115.1 150.1v4.6M113.5 150.4l4 4m0 -4l-4 4M125.8 157.3v4.4M123.8 157.5l4 4m0 -4l-4 4M129.2 159.4v4.4M127.2 159.6l4 4m0 -4l-4 4M132.6 158.7v4.4M130.6 158.9l4 4m0 -4l-4 4M139.4 162.2v4.4M137.4 162.4l4 4m0 -4l-4 4M142.8 164.5v4.4M140.8 164.7l4 4m0 -4l-4 4M146.2 167v4.4M144.2 167.2l4 4m0 -4l-4 4M149.6 162.9v4.4M147.6 163.1l4 4m0 -4l-4 4M153 162.8v4.4M151 163l4 4m0 -4l-4 4M156.4 162.8v4.4M154.4 163l4 4m0 -4l-4 4M159.8 164v4.4M157.8 164.2l4 4m0 -4l-4 4M187.3 167.3v4.4M185.3 167.5l4 4m0 -4l-4 4M191.9 169.2v4.4M189.9 169.4l4 4m0 -4l-4 4M197.7 170v4.4M195.7 170.2l4 4m0 -4l-4 4M207.4 167.8v4.4M205.4 168l4 4m0 -4l-4 4M210.6 170.5v4.4M208.6 170.7l4 4m0 -4l-4 4M213.8 165.6v4.4M211.8 165.8l4 4m0 -4l-4 4M217 169.8v4.4M215 170l4 4m0 -4l-4 4M223.4 167v4.4M221.4 167.2l4 4m0 -4l-4 4M226.6 167.9v4.4M224.6 168.1l4 4m0 -4l-4 4M233 168.7v4.4M231 168.9l4 4m0 -4l-4 4M236.2 167.7v4.4M234.2 167.9l4 4m0 -4l-4 4M242.6 167.7v4.4M240.6 167.9l4 4m0 -4l-4 4M245.8 168.5v4.4M243.8 168.7l4 4m0 -4l-4 4M249 169.4v4.4M247 169.6l4 4m0 -4l-4 4M252.2 168.8v4.4M250.2 169l4 4m0 -4l-4 4M255.4 169.2v4.4M253.4 169.4l4 4m0 -4l-4 4M258.6 171v4.4M256.6 171.2l4 4m0 -4l-4 4M261.8 172.3v4.4M259.8 172.5l4 4m0 -4l-4 4M264.5 172.1v4.4M262.5 172.3l4 4m0 -4l-4 4M267.1 168.7v4.4M265.1 168.9l4 4m0 -4l-4 4M269.7 174.8v4.4M267.7 175l4 4m0 -4l-4 4M272.3 171v4.4M270.3 171.2l4 4m0 -4l-4 4M274.9 173.7v4.4M272.9 173.9l4 4m0 -4l-4 4M277.5 173v4.4M275.5 173.2l4 4m0 -4l-4 4M282.7 171.5v4.4M280.7 171.7l4 4m0 -4l-4 4M287.9 173.4v4.4M285.9 173.6l4 4m0 -4l-4 4M293.1 174.2v4.4M291.1 174.4l4 4m0 -4l-4 4M295.7 176.4v4.4M293.7 176.6l4 4m0 -4l-4 4M298.3 176.9v4.4M296.3 177.1l4 4m0 -4l-4 4M303.5 173.7v4.4M301.5 173.9l4 4m0 -4l-4 4M306.1 173.7v4.4M304.1 173.9l4 4m0 -4l-4 4M311.3 173.7v4.4M309.3 173.9l4 4m0 -4l-4 4M313.9 174v4.4M311.9 174.2l4 4m0 -4l-4 4M319.1 174.6v4.4M317.1 174.8l4 4m0 -4l-4 4M321.7 173.9v4.4M319.7 174.1l4 4m0 -4l-4 4M324.3 175.3v4.4M322.3 175.5l4 4m0 -4l-4 4M326.9 173.2v4.4M324.9 173.4l4 4m0 -4l-4 4M329.5 172.6v4.4M327.5 172.8l4 4m0 -4l-4 4M394.9 164.8v9.4M392.9 167.5l4 4m0 -4l-4 4M462.1 155.1v7.4M460.1 156.9l4 4m0 -4l-4 4M476.5 146v7.2M474.5 147.6l4 4m0 -4l-4 4M494.1 144.7v6.2M492.1 145.8l4 4m0 -4l-4 4M514.9 141.6v7.3M512.9 143.3l4 4m0 -4l-4 4M548.5 130.2v11.4M546.5 133.9l4 4m0 -4l-4 4M564.5 128.5v9.8M562.5 131.4l4 4m0 -4l-4 4M572.5 130v9.8M570.5 132.9l4 4m0 -4l-4 4M580.5 127.5v7M578.5 129l4 4m0 -4l-4 4M609.3 131.2v9.7M607.3 134l4 4m0 -4l-4 4" stroke="#407BD5" stroke-width="0.85" fill="none" opacity="0.95"/>
<path d="M79.3 133.9v5.7M77.2 134.7l4 4m0 -4l-4 4M81.5 138.7v3.3M79.1 138.4l4 4m0 -4l-4 4M81 136v5.6M79.3 136.8l4 4m0 -4l-4 4M81.6 137.1v5.7M79.2 138l4 4m0 -4l-4 4M85.9 135.7v5.8M84.1 136.6l4 4m0 -4l-4 4M86.4 136.4v3.8M84.4 136.3l4 4m0 -4l-4 4M87.2 138.1v5.9M84.8 139l4 4m0 -4l-4 4M86.4 138.1v3.9M84.6 138.1l4 4m0 -4l-4 4M96.4 142v4.6M94.6 142.3l4 4m0 -4l-4 4M96.3 141.2v3.1M94.1 140.7l4 4m0 -4l-4 4M96.5 143.5v4.2M94.5 143.6l4 4m0 -4l-4 4M99 144.5v4.1M97.1 144.6l4 4m0 -4l-4 4M99.6 143.1v3.4M97.1 142.9l4 4m0 -4l-4 4M99.3 142.6v5.9M97.4 143.5l4 4m0 -4l-4 4M79.6 111.5V162.3M77.6 126.5l4 4m0 -4l-4 4M77.6 149l4 4m0 -4l-4 4M125.8 158.1v3.6M123.9 157.8l4.2 4.2m0 -4.2l-4.2 4.2M126.1 155.9v3.6M123.5 155.6l4.2 4.2m0 -4.2l-4.2 4.2M125.9 157.9v3.6M122.9 157.6l4.2 4.2m0 -4.2l-4.2 4.2M129.6 157.7v3.6M127.6 157.4l4.2 4.2m0 -4.2l-4.2 4.2M129.1 159v3.6M126.6 158.7l4.2 4.2m0 -4.2l-4.2 4.2M130 159.8v3.6M127.3 159.5l4.2 4.2m0 -4.2l-4.2 4.2M132.2 161.4v3.6M130.4 161.1l4.2 4.2m0 -4.2l-4.2 4.2M132.9 160.4v3.6M130.6 160.1l4.2 4.2m0 -4.2l-4.2 4.2M132.4 160.5v3.6M130.1 160.2l4.2 4.2m0 -4.2l-4.2 4.2M135.9 159.9v3.6M133.3 159.6l4.2 4.2m0 -4.2l-4.2 4.2M135.5 159.8v3.6M134 159.5l4.2 4.2m0 -4.2l-4.2 4.2M136.6 161.4v3.6M133.5 161.1l4.2 4.2m0 -4.2l-4.2 4.2M139.3 161.6v3.6M137.8 161.3l4.2 4.2m0 -4.2l-4.2 4.2M139.1 161.5v3.6M136.9 161.2l4.2 4.2m0 -4.2l-4.2 4.2M139.5 162.1v3.6M136.9 161.8l4.2 4.2m0 -4.2l-4.2 4.2M143 161.8v3.6M140.9 161.5l4.2 4.2m0 -4.2l-4.2 4.2M142.7 160.7v3.6M140.8 160.4l4.2 4.2m0 -4.2l-4.2 4.2M142.2 161.8v3.6M140.6 161.5l4.2 4.2m0 -4.2l-4.2 4.2M145.9 165.2v3.6M144.4 164.9l4.2 4.2m0 -4.2l-4.2 4.2M146.5 163.9v3.6M144.1 163.6l4.2 4.2m0 -4.2l-4.2 4.2M146.4 161.8v3.6M143.9 161.5l4.2 4.2m0 -4.2l-4.2 4.2M149.3 164.8v3.6M147.9 164.5l4.2 4.2m0 -4.2l-4.2 4.2M150.1 164.6v3.6M147.5 164.3l4.2 4.2m0 -4.2l-4.2 4.2M149.5 162.1v3.6M146.8 161.8l4.2 4.2m0 -4.2l-4.2 4.2M153 163.5v3.6M151.5 163.2l4.2 4.2m0 -4.2l-4.2 4.2M153 164.8v3.6M151.3 164.5l4.2 4.2m0 -4.2l-4.2 4.2M152.9 162.9v3.6M151.2 162.6l4.2 4.2m0 -4.2l-4.2 4.2M156.9 164.4v3.6M154.1 164.1l4.2 4.2m0 -4.2l-4.2 4.2M156.1 164.5v3.6M154 164.2l4.2 4.2m0 -4.2l-4.2 4.2M156.8 163.2v3.6M155 162.9l4.2 4.2m0 -4.2l-4.2 4.2M160 166.5v3.6M157.6 166.2l4.2 4.2m0 -4.2l-4.2 4.2M159.9 165.8v3.6M157.8 165.5l4.2 4.2m0 -4.2l-4.2 4.2M159.6 165.6v3.6M157.6 165.3l4.2 4.2m0 -4.2l-4.2 4.2M182.3 167.6v3.6M180.5 167.3l4.2 4.2m0 -4.2l-4.2 4.2M182.2 168.1v3.6M180.3 167.8l4.2 4.2m0 -4.2l-4.2 4.2M182.8 166.9v3.6M181 166.6l4.2 4.2m0 -4.2l-4.2 4.2M187.1 170.1v3.6M184.4 169.8l4.2 4.2m0 -4.2l-4.2 4.2M187.8 171.2v3.6M184.9 170.9l4.2 4.2m0 -4.2l-4.2 4.2M187.2 168.9v3.6M185.2 168.6l4.2 4.2m0 -4.2l-4.2 4.2M192.3 169v3.6M189.8 168.7l4.2 4.2m0 -4.2l-4.2 4.2M191.7 170.9v3.6M189.9 170.6l4.2 4.2m0 -4.2l-4.2 4.2M191.5 167v3.6M190.2 166.7l4.2 4.2m0 -4.2l-4.2 4.2M197.6 167.8v3.6M195.4 167.5l4.2 4.2m0 -4.2l-4.2 4.2M197.9 168.3v3.6M195.8 168l4.2 4.2m0 -4.2l-4.2 4.2M197.4 168.3v3.6M195.7 168l4.2 4.2m0 -4.2l-4.2 4.2M207.4 169.2v3.6M205.2 168.9l4.2 4.2m0 -4.2l-4.2 4.2M207.1 167.7v3.6M205 167.4l4.2 4.2m0 -4.2l-4.2 4.2M207.3 168.1v3.6M205.5 167.8l4.2 4.2m0 -4.2l-4.2 4.2M210.8 169.7v3.6M209 169.4l4.2 4.2m0 -4.2l-4.2 4.2M211 168.9v3.6M208.4 168.6l4.2 4.2m0 -4.2l-4.2 4.2M211.4 168.8v3.6M208.1 168.5l4.2 4.2m0 -4.2l-4.2 4.2M214.2 169v3.6M211.5 168.7l4.2 4.2m0 -4.2l-4.2 4.2M213.5 168.7v3.6M211.5 168.4l4.2 4.2m0 -4.2l-4.2 4.2M213.8 167.8v3.6M211.7 167.5l4.2 4.2m0 -4.2l-4.2 4.2M217.2 169.7v3.6M214.8 169.4l4.2 4.2m0 -4.2l-4.2 4.2M217.2 168.5v3.6M215 168.2l4.2 4.2m0 -4.2l-4.2 4.2M217.2 167.1v3.6M215.8 166.8l4.2 4.2m0 -4.2l-4.2 4.2M220.6 168.8v3.6M217.7 168.5l4.2 4.2m0 -4.2l-4.2 4.2M220.7 169.1v3.6M218 168.8l4.2 4.2m0 -4.2l-4.2 4.2M220.2 168.5v3.6M218 168.2l4.2 4.2m0 -4.2l-4.2 4.2M223 169.9v3.6M221.5 169.6l4.2 4.2m0 -4.2l-4.2 4.2M222.6 169v3.6M221.3 168.7l4.2 4.2m0 -4.2l-4.2 4.2M223.3 168.1v3.6M221.8 167.8l4.2 4.2m0 -4.2l-4.2 4.2M227.1 169.4v3.6M224.6 169.1l4.2 4.2m0 -4.2l-4.2 4.2M226.6 168.4v3.6M224.9 168.1l4.2 4.2m0 -4.2l-4.2 4.2M226.6 170.1v3.6M224.5 169.8l4.2 4.2m0 -4.2l-4.2 4.2M230 168.9v3.6M227.9 168.6l4.2 4.2m0 -4.2l-4.2 4.2M229.6 169.2v3.6M227.7 168.9l4.2 4.2m0 -4.2l-4.2 4.2M229.4 167.8v3.6M227.9 167.5l4.2 4.2m0 -4.2l-4.2 4.2M233.2 170.5v3.6M230.9 170.2l4.2 4.2m0 -4.2l-4.2 4.2M233.2 171.3v3.6M230.8 171l4.2 4.2m0 -4.2l-4.2 4.2M233.1 170v3.6M230.6 169.7l4.2 4.2m0 -4.2l-4.2 4.2M235.7 168.9v3.6M234 168.6l4.2 4.2m0 -4.2l-4.2 4.2M236.2 169.2v3.6M233.7 168.9l4.2 4.2m0 -4.2l-4.2 4.2M235.8 169.9v3.6M234 169.6l4.2 4.2m0 -4.2l-4.2 4.2M239.3 170.3v3.6M237.2 170l4.2 4.2m0 -4.2l-4.2 4.2M239.7 169.5v3.6M236.6 169.2l4.2 4.2m0 -4.2l-4.2 4.2M239.1 168.5v3.6M237 168.2l4.2 4.2m0 -4.2l-4.2 4.2M242.3 169.8v3.6M240.5 169.5l4.2 4.2m0 -4.2l-4.2 4.2M242.4 169.9v3.6M240.5 169.6l4.2 4.2m0 -4.2l-4.2 4.2M242.7 171.1v3.6M240.3 170.8l4.2 4.2m0 -4.2l-4.2 4.2M245.7 169v3.6M244 168.7l4.2 4.2m0 -4.2l-4.2 4.2M245.9 169.3v3.6M243.4 169l4.2 4.2m0 -4.2l-4.2 4.2M245.6 169v3.6M244.4 168.7l4.2 4.2m0 -4.2l-4.2 4.2M249.2 169.8v3.6M247 169.5l4.2 4.2m0 -4.2l-4.2 4.2M249.1 171.8v3.6M247.3 171.5l4.2 4.2m0 -4.2l-4.2 4.2M249.2 170.2v3.6M246.5 169.9l4.2 4.2m0 -4.2l-4.2 4.2M252.1 169.8v3.6M250 169.5l4.2 4.2m0 -4.2l-4.2 4.2M252.3 169.9v3.6M249.7 169.6l4.2 4.2m0 -4.2l-4.2 4.2M252.3 169.3v3.6M250.1 169l4.2 4.2m0 -4.2l-4.2 4.2M255.8 170.2v3.6M253 169.9l4.2 4.2m0 -4.2l-4.2 4.2M255.7 171.6v3.6M253.2 171.3l4.2 4.2m0 -4.2l-4.2 4.2M255 171v3.6M252.8 170.7l4.2 4.2m0 -4.2l-4.2 4.2M258.7 168.6v3.6M256.1 168.3l4.2 4.2m0 -4.2l-4.2 4.2M258.5 169.9v3.6M256.2 169.6l4.2 4.2m0 -4.2l-4.2 4.2M258.3 169.3v3.6M256.5 169l4.2 4.2m0 -4.2l-4.2 4.2M261.5 170.3v3.6M259.8 170l4.2 4.2m0 -4.2l-4.2 4.2M262.2 169.2v3.6M259.6 168.9l4.2 4.2m0 -4.2l-4.2 4.2M261.9 170.3v3.6M260 170l4.2 4.2m0 -4.2l-4.2 4.2M264.9 172.5v4.8M262.4 172.8l4.2 4.2m0 -4.2l-4.2 4.2M264.5 172.7v4.8M262.4 173l4.2 4.2m0 -4.2l-4.2 4.2M264.4 169.7v4.8M262.6 170l4.2 4.2m0 -4.2l-4.2 4.2M266.4 171.8v4.8M265 172.1l4.2 4.2m0 -4.2l-4.2 4.2M266.9 172.3v4.8M265 172.6l4.2 4.2m0 -4.2l-4.2 4.2M267.3 168.3v4.8M264.8 168.6l4.2 4.2m0 -4.2l-4.2 4.2M269.9 171.5v4.8M267.3 171.8l4.2 4.2m0 -4.2l-4.2 4.2M270.4 171v4.8M267.4 171.3l4.2 4.2m0 -4.2l-4.2 4.2M269.6 170.9v4.8M267.3 171.2l4.2 4.2m0 -4.2l-4.2 4.2M272.7 169.6v4.8M270.5 169.9l4.2 4.2m0 -4.2l-4.2 4.2M272.6 172.9v4.8M269.9 173.2l4.2 4.2m0 -4.2l-4.2 4.2M271.9 171.6v4.8M269.8 171.9l4.2 4.2m0 -4.2l-4.2 4.2M274.7 171.9v4.8M273 172.2l4.2 4.2m0 -4.2l-4.2 4.2M275 174.2v4.8M272.4 174.5l4.2 4.2m0 -4.2l-4.2 4.2M275.3 172.3v4.8M272.7 172.6l4.2 4.2m0 -4.2l-4.2 4.2M277.4 170.6v4.8M275.2 170.9l4.2 4.2m0 -4.2l-4.2 4.2M277.5 172.4v4.8M275.7 172.7l4.2 4.2m0 -4.2l-4.2 4.2M277 173v4.8M275.5 173.3l4.2 4.2m0 -4.2l-4.2 4.2M279.8 171.6v4.8M278.3 171.9l4.2 4.2m0 -4.2l-4.2 4.2M279.5 171v4.8M278.3 171.3l4.2 4.2m0 -4.2l-4.2 4.2M280 171.4v4.8M277.6 171.7l4.2 4.2m0 -4.2l-4.2 4.2M282.8 172.2v4.8M279.9 172.5l4.2 4.2m0 -4.2l-4.2 4.2M282.3 173.7v4.8M280.3 174l4.2 4.2m0 -4.2l-4.2 4.2M282.7 173.6v4.8M280.1 173.9l4.2 4.2m0 -4.2l-4.2 4.2M285.7 173.3v4.8M283.1 173.6l4.2 4.2m0 -4.2l-4.2 4.2M285.1 174.3v4.8M283.5 174.6l4.2 4.2m0 -4.2l-4.2 4.2M285.2 172v4.8M283.8 172.3l4.2 4.2m0 -4.2l-4.2 4.2M288 176.1v4.8M285.6 176.4l4.2 4.2m0 -4.2l-4.2 4.2M287.5 174.1v4.8M286.1 174.4l4.2 4.2m0 -4.2l-4.2 4.2M287.7 174.7v4.8M285.6 175l4.2 4.2m0 -4.2l-4.2 4.2M289.9 174v4.8M288.3 174.3l4.2 4.2m0 -4.2l-4.2 4.2M290.4 172.8v4.8M288.5 173.1l4.2 4.2m0 -4.2l-4.2 4.2M290.7 171.7v4.8M288.3 172l4.2 4.2m0 -4.2l-4.2 4.2M293.2 171.9v4.8M290.7 172.2l4.2 4.2m0 -4.2l-4.2 4.2M293.4 173.6v4.8M291.3 173.9l4.2 4.2m0 -4.2l-4.2 4.2M293 175.5v4.8M290.7 175.8l4.2 4.2m0 -4.2l-4.2 4.2M296.1 173.5v4.8M293.9 173.8l4.2 4.2m0 -4.2l-4.2 4.2M295.9 174.4v4.8M293.7 174.7l4.2 4.2m0 -4.2l-4.2 4.2M295.8 173.8v4.8M293.9 174.1l4.2 4.2m0 -4.2l-4.2 4.2M298.3 171.3v4.8M296.5 171.6l4.2 4.2m0 -4.2l-4.2 4.2M298.2 173.2v4.8M296.8 173.5l4.2 4.2m0 -4.2l-4.2 4.2M297.9 172.9v4.8M296 173.2l4.2 4.2m0 -4.2l-4.2 4.2M300.6 174.6v4.8M298.9 174.9l4.2 4.2m0 -4.2l-4.2 4.2M301.4 174.3v4.8M298.6 174.6l4.2 4.2m0 -4.2l-4.2 4.2M301 174.2v4.8M298.5 174.5l4.2 4.2m0 -4.2l-4.2 4.2M303.4 174.3v4.8M301 174.6l4.2 4.2m0 -4.2l-4.2 4.2M303.6 175.5v4.8M301.7 175.8l4.2 4.2m0 -4.2l-4.2 4.2M303.3 175.4v4.8M301.6 175.7l4.2 4.2m0 -4.2l-4.2 4.2M306.4 173.7v4.8M304 174l4.2 4.2m0 -4.2l-4.2 4.2M306 173.5v4.8M304.1 173.8l4.2 4.2m0 -4.2l-4.2 4.2M305.9 172.5v4.8M304 172.8l4.2 4.2m0 -4.2l-4.2 4.2M309.1 176.5v4.8M306.7 176.8l4.2 4.2m0 -4.2l-4.2 4.2M309.4 173.8v4.8M306.7 174.1l4.2 4.2m0 -4.2l-4.2 4.2M308.8 173.7v4.8M306.7 174l4.2 4.2m0 -4.2l-4.2 4.2M311 176.8v4.8M309.4 177.1l4.2 4.2m0 -4.2l-4.2 4.2M311.8 172.8v4.8M309.1 173.1l4.2 4.2m0 -4.2l-4.2 4.2M311.6 174v4.8M309.6 174.3l4.2 4.2m0 -4.2l-4.2 4.2M313.9 174.7v4.8M311.7 175l4.2 4.2m0 -4.2l-4.2 4.2M313.8 173.6v4.8M311.6 173.9l4.2 4.2m0 -4.2l-4.2 4.2M314.4 175.2v4.8M311.2 175.5l4.2 4.2m0 -4.2l-4.2 4.2M316.5 173.8v4.8M314.1 174.1l4.2 4.2m0 -4.2l-4.2 4.2M316.5 176v4.8M314.4 176.3l4.2 4.2m0 -4.2l-4.2 4.2M316.4 175.5v4.8M313.9 175.8l4.2 4.2m0 -4.2l-4.2 4.2M319.4 175v4.8M317.4 175.3l4.2 4.2m0 -4.2l-4.2 4.2M318.9 173.8v4.8M317.5 174.1l4.2 4.2m0 -4.2l-4.2 4.2M318.9 177v4.8M316.6 177.3l4.2 4.2m0 -4.2l-4.2 4.2M321.3 175v4.8M319.2 175.3l4.2 4.2m0 -4.2l-4.2 4.2M321.5 176.2v4.8M319.6 176.5l4.2 4.2m0 -4.2l-4.2 4.2M321.9 175.8v4.8M319.5 176.1l4.2 4.2m0 -4.2l-4.2 4.2M324 175.6v4.8M322.2 175.9l4.2 4.2m0 -4.2l-4.2 4.2M324.4 175.6v4.8M322.7 175.9l4.2 4.2m0 -4.2l-4.2 4.2M324.1 176.5v4.8M322.2 176.8l4.2 4.2m0 -4.2l-4.2 4.2M326.9 177.9v4.8M324.2 178.2l4.2 4.2m0 -4.2l-4.2 4.2M326.9 173.5v4.8M324.4 173.8l4.2 4.2m0 -4.2l-4.2 4.2M326.8 173.3v4.8M324.9 173.6l4.2 4.2m0 -4.2l-4.2 4.2M329.4 173.5v4.8M327 173.8l4.2 4.2m0 -4.2l-4.2 4.2M329.7 173.1v4.8M326.9 173.4l4.2 4.2m0 -4.2l-4.2 4.2M329.7 174.1v4.8M327.3 174.4l4.2 4.2m0 -4.2l-4.2 4.2" stroke="#61C853" stroke-width="0.85" fill="none" opacity="1"/>
<path d="M79 136.5v4.3M76.8 136.7l4 4m0 -4l-4 4M95.9 143.6v4.6M94.6 143.9l4 4m0 -4l-4 4M99 144.4v4.1M97.4 144.4l4 4m0 -4l-4 4M332.6 175.6v4.8M329.9 175.9l4.2 4.2m0 -4.2l-4.2 4.2M332.8 172.2v4.8M330.9 172.5l4.2 4.2m0 -4.2l-4.2 4.2M332.9 174.3v4.8M330.2 174.6l4.2 4.2m0 -4.2l-4.2 4.2M333.9 174.2v4.8M331.3 174.5l4.2 4.2m0 -4.2l-4.2 4.2M334.1 174.9v4.8M331.9 175.2l4.2 4.2m0 -4.2l-4.2 4.2M334.1 177v4.8M331.8 177.3l4.2 4.2m0 -4.2l-4.2 4.2M335.9 174.8v4.8M333.7 175.1l4.2 4.2m0 -4.2l-4.2 4.2M335.7 175.9v4.8M334.2 176.2l4.2 4.2m0 -4.2l-4.2 4.2M335.6 172v4.8M333.2 172.3l4.2 4.2m0 -4.2l-4.2 4.2M336.8 173.7v4.8M335.2 174l4.2 4.2m0 -4.2l-4.2 4.2M337.1 173.6v4.8M334.9 173.9l4.2 4.2m0 -4.2l-4.2 4.2M337.9 171.3v4.8M334.8 171.6l4.2 4.2m0 -4.2l-4.2 4.2M339 175.2v4.8M337.4 175.5l4.2 4.2m0 -4.2l-4.2 4.2M339.1 172.7v4.8M336.4 173l4.2 4.2m0 -4.2l-4.2 4.2M338.7 176.9v4.8M336.1 177.2l4.2 4.2m0 -4.2l-4.2 4.2M340.7 175.2v4.8M338.3 175.5l4.2 4.2m0 -4.2l-4.2 4.2M340.5 173.7v4.8M338.1 174l4.2 4.2m0 -4.2l-4.2 4.2M340.1 175.5v4.8M338.8 175.8l4.2 4.2m0 -4.2l-4.2 4.2M342.2 172.7v4.8M339.5 173l4.2 4.2m0 -4.2l-4.2 4.2M342.1 174.8v4.8M339.9 175.1l4.2 4.2m0 -4.2l-4.2 4.2M342.3 175.4v4.8M339.2 175.7l4.2 4.2m0 -4.2l-4.2 4.2M344.1 174.5v4.8M341.3 174.8l4.2 4.2m0 -4.2l-4.2 4.2M343.4 176v4.8M341.7 176.3l4.2 4.2m0 -4.2l-4.2 4.2M343.9 175.4v4.8M341.3 175.7l4.2 4.2m0 -4.2l-4.2 4.2M345.8 174.2v4.8M343.3 174.5l4.2 4.2m0 -4.2l-4.2 4.2M345.5 174.8v4.8M343.7 175.1l4.2 4.2m0 -4.2l-4.2 4.2M345.7 170.4v4.8M343.1 170.7l4.2 4.2m0 -4.2l-4.2 4.2M346.8 173.9v4.8M344.6 174.2l4.2 4.2m0 -4.2l-4.2 4.2M346.6 172.2v4.8M344.6 172.5l4.2 4.2m0 -4.2l-4.2 4.2M346.8 173.4v4.8M344.4 173.7l4.2 4.2m0 -4.2l-4.2 4.2M348.7 170.7v4.8M346.2 171l4.2 4.2m0 -4.2l-4.2 4.2M348.3 173.5v4.8M346.4 173.8l4.2 4.2m0 -4.2l-4.2 4.2M348.3 175.6v4.8M346.3 175.9l4.2 4.2m0 -4.2l-4.2 4.2M350.4 171.7v4.8M348.1 172l4.2 4.2m0 -4.2l-4.2 4.2M350 171.6v4.8M347.9 171.9l4.2 4.2m0 -4.2l-4.2 4.2M350.7 172.2v4.8M347.4 172.5l4.2 4.2m0 -4.2l-4.2 4.2M352.1 170v4.8M350.3 170.3l4.2 4.2m0 -4.2l-4.2 4.2M352 174.9v4.8M349.2 175.2l4.2 4.2m0 -4.2l-4.2 4.2M351.5 173.1v4.8M349.4 173.4l4.2 4.2m0 -4.2l-4.2 4.2M352.9 176.3v4.8M350.9 176.6l4.2 4.2m0 -4.2l-4.2 4.2M353.7 172v4.8M351.8 172.3l4.2 4.2m0 -4.2l-4.2 4.2M353.1 173.8v4.8M351.1 174.1l4.2 4.2m0 -4.2l-4.2 4.2M355.3 171.5v4.8M352.7 171.8l4.2 4.2m0 -4.2l-4.2 4.2M354.9 172v4.8M352.7 172.3l4.2 4.2m0 -4.2l-4.2 4.2M354.4 171.6v4.8M352.5 171.9l4.2 4.2m0 -4.2l-4.2 4.2M356.5 171.6v4.8M354.3 171.9l4.2 4.2m0 -4.2l-4.2 4.2M356.6 171.4v4.8M354.3 171.7l4.2 4.2m0 -4.2l-4.2 4.2M356.5 174.8v4.8M354.3 175.1l4.2 4.2m0 -4.2l-4.2 4.2M358 172.4v4.8M356.1 172.7l4.2 4.2m0 -4.2l-4.2 4.2M357.9 172.4v4.8M356.2 172.7l4.2 4.2m0 -4.2l-4.2 4.2M357.8 173.4v4.8M356.4 173.7l4.2 4.2m0 -4.2l-4.2 4.2M359.8 171.8v4.8M357.7 172.1l4.2 4.2m0 -4.2l-4.2 4.2M359.5 173.1v4.8M356.5 173.4l4.2 4.2m0 -4.2l-4.2 4.2M359.1 173.2v4.8M357.7 173.5l4.2 4.2m0 -4.2l-4.2 4.2M361.3 174.9v4.8M359.5 175.2l4.2 4.2m0 -4.2l-4.2 4.2M361.3 172.6v4.8M359.1 172.9l4.2 4.2m0 -4.2l-4.2 4.2M361.5 173.7v4.8M359.3 174l4.2 4.2m0 -4.2l-4.2 4.2M363.6 172.3v4.8M360.9 172.6l4.2 4.2m0 -4.2l-4.2 4.2M362.8 173.8v4.8M360.4 174.1l4.2 4.2m0 -4.2l-4.2 4.2M363 170.8v4.8M360.9 171.1l4.2 4.2m0 -4.2l-4.2 4.2M364.3 174.2v4.8M362.1 174.5l4.2 4.2m0 -4.2l-4.2 4.2M364.3 167.3v4.8M362.3 167.6l4.2 4.2m0 -4.2l-4.2 4.2M364.7 174.4v4.8M362.6 174.7l4.2 4.2m0 -4.2l-4.2 4.2M366.3 174.8v4.8M363.6 175.1l4.2 4.2m0 -4.2l-4.2 4.2M366 173v4.8M364 173.3l4.2 4.2m0 -4.2l-4.2 4.2M366.3 172.5v4.8M363.9 172.8l4.2 4.2m0 -4.2l-4.2 4.2M367.3 172v4.8M365.9 172.3l4.2 4.2m0 -4.2l-4.2 4.2M367.9 171v4.8M365.7 171.3l4.2 4.2m0 -4.2l-4.2 4.2M367.4 170v4.8M365.4 170.3l4.2 4.2m0 -4.2l-4.2 4.2M369.5 172.5v4.8M367.2 172.8l4.2 4.2m0 -4.2l-4.2 4.2M369 171.8v4.8M367.3 172.1l4.2 4.2m0 -4.2l-4.2 4.2M369.2 173.1v4.8M367 173.4l4.2 4.2m0 -4.2l-4.2 4.2M370.8 174.7v4.8M368.6 175l4.2 4.2m0 -4.2l-4.2 4.2M370.9 172.1v4.8M368.6 172.4l4.2 4.2m0 -4.2l-4.2 4.2M370.5 172.4v4.8M368.7 172.7l4.2 4.2m0 -4.2l-4.2 4.2M372.6 172.2v4.8M370.5 172.5l4.2 4.2m0 -4.2l-4.2 4.2M372.6 172.9v4.8M370.2 173.2l4.2 4.2m0 -4.2l-4.2 4.2M372.3 169v4.8M369.8 169.3l4.2 4.2m0 -4.2l-4.2 4.2M374.4 170.4v4.8M372.1 170.7l4.2 4.2m0 -4.2l-4.2 4.2M374.4 173v4.8M371.8 173.3l4.2 4.2m0 -4.2l-4.2 4.2M373.9 171.3v4.8M371.8 171.6l4.2 4.2m0 -4.2l-4.2 4.2M376 171.3v4.8M373.6 171.6l4.2 4.2m0 -4.2l-4.2 4.2M375.7 172.2v4.8M373.8 172.5l4.2 4.2m0 -4.2l-4.2 4.2M376 171.4v4.8M373.7 171.7l4.2 4.2m0 -4.2l-4.2 4.2M377.3 174v4.8M374.6 174.3l4.2 4.2m0 -4.2l-4.2 4.2M377.3 174.2v4.8M374.8 174.5l4.2 4.2m0 -4.2l-4.2 4.2M377 171.7v4.8M375.8 172l4.2 4.2m0 -4.2l-4.2 4.2M378.8 171.3v4.8M376.2 171.6l4.2 4.2m0 -4.2l-4.2 4.2M379.4 172.5v4.8M376.2 172.8l4.2 4.2m0 -4.2l-4.2 4.2M378.7 173.7v4.8M377.5 174l4.2 4.2m0 -4.2l-4.2 4.2M380.4 174.9v4.8M378.2 175.2l4.2 4.2m0 -4.2l-4.2 4.2M380 172.2v4.8M378 172.5l4.2 4.2m0 -4.2l-4.2 4.2M380.3 170.8v4.8M378.4 171.1l4.2 4.2m0 -4.2l-4.2 4.2M382.1 172.2v4.8M379.6 172.5l4.2 4.2m0 -4.2l-4.2 4.2M381.9 171.6v4.8M380.2 171.9l4.2 4.2m0 -4.2l-4.2 4.2M381.9 171.2v4.8M380.3 171.5l4.2 4.2m0 -4.2l-4.2 4.2M384.2 171v4.8M382 171.3l4.2 4.2m0 -4.2l-4.2 4.2M384.2 170.8v4.8M381.6 171.1l4.2 4.2m0 -4.2l-4.2 4.2M384 171.8v4.8M381.7 172.1l4.2 4.2m0 -4.2l-4.2 4.2M385.5 172.3v4.8M383.5 172.6l4.2 4.2m0 -4.2l-4.2 4.2M385.3 173.7v4.8M383.5 174l4.2 4.2m0 -4.2l-4.2 4.2M385.2 169.8v4.8M383.5 170.1l4.2 4.2m0 -4.2l-4.2 4.2M387.4 169v4.8M384.3 169.3l4.2 4.2m0 -4.2l-4.2 4.2M387.1 171.2v4.8M385 171.5l4.2 4.2m0 -4.2l-4.2 4.2M386.8 168.9v4.8M384.8 169.2l4.2 4.2m0 -4.2l-4.2 4.2M388.8 170.8v4.8M386 171.1l4.2 4.2m0 -4.2l-4.2 4.2M388.5 170.8v4.8M386.1 171.1l4.2 4.2m0 -4.2l-4.2 4.2M388.5 170.9v4.8M386.3 171.2l4.2 4.2m0 -4.2l-4.2 4.2M390.2 170.7v4.8M388.6 171l4.2 4.2m0 -4.2l-4.2 4.2M389.8 171.3v4.8M388.2 171.6l4.2 4.2m0 -4.2l-4.2 4.2M389.7 168.9v4.8M388.8 169.2l4.2 4.2m0 -4.2l-4.2 4.2M392.1 172.3v4.8M389.8 172.6l4.2 4.2m0 -4.2l-4.2 4.2M391.7 170.4v4.8M389.4 170.7l4.2 4.2m0 -4.2l-4.2 4.2M391.9 172.5v4.8M389.8 172.8l4.2 4.2m0 -4.2l-4.2 4.2M393.6 169.5v4.8M391.5 169.8l4.2 4.2m0 -4.2l-4.2 4.2M392.8 170.7v4.8M391.4 171l4.2 4.2m0 -4.2l-4.2 4.2M393.1 167.8v4.8M391.4 168.1l4.2 4.2m0 -4.2l-4.2 4.2M394.6 168.6v4.8M392.6 168.9l4.2 4.2m0 -4.2l-4.2 4.2M394.6 169.1v4.8M392.4 169.4l4.2 4.2m0 -4.2l-4.2 4.2M395 167.2v4.8M392.8 167.5l4.2 4.2m0 -4.2l-4.2 4.2M396.3 166.1v4.8M394.6 166.4l4.2 4.2m0 -4.2l-4.2 4.2M396.4 169.3v4.8M394.7 169.6l4.2 4.2m0 -4.2l-4.2 4.2M396.6 167.5v4.8M394.3 167.8l4.2 4.2m0 -4.2l-4.2 4.2M397.7 166.9v4.8M396 167.2l4.2 4.2m0 -4.2l-4.2 4.2M397.7 169.9v4.8M396.4 170.2l4.2 4.2m0 -4.2l-4.2 4.2M398.1 167.6v4.8M396.1 167.9l4.2 4.2m0 -4.2l-4.2 4.2M399.6 169.4v4.8M397.3 169.7l4.2 4.2m0 -4.2l-4.2 4.2M400.2 167.7v4.8M397.5 168l4.2 4.2m0 -4.2l-4.2 4.2M400.1 167.6v4.8M397.7 167.9l4.2 4.2m0 -4.2l-4.2 4.2M401.4 168.5v4.8M398.9 168.8l4.2 4.2m0 -4.2l-4.2 4.2M401.1 164.7v4.8M398.9 165l4.2 4.2m0 -4.2l-4.2 4.2M401.2 167.1v4.8M398.8 167.4l4.2 4.2m0 -4.2l-4.2 4.2M402.7 170.8v4.8M401.1 171.1l4.2 4.2m0 -4.2l-4.2 4.2M403.3 170v4.8M400.6 170.3l4.2 4.2m0 -4.2l-4.2 4.2M402.9 171v4.8M400.7 171.3l4.2 4.2m0 -4.2l-4.2 4.2M404.8 168.5v4.8M402.1 168.8l4.2 4.2m0 -4.2l-4.2 4.2M404.6 169.1v4.8M402.9 169.4l4.2 4.2m0 -4.2l-4.2 4.2M404.6 165.4v4.8M402.3 165.7l4.2 4.2m0 -4.2l-4.2 4.2M406.1 165.7v4.8M404.3 166l4.2 4.2m0 -4.2l-4.2 4.2M405.9 165.9v4.8M404.2 166.2l4.2 4.2m0 -4.2l-4.2 4.2M405.8 169.5v4.8M403.2 169.8l4.2 4.2m0 -4.2l-4.2 4.2M407.5 166.5v4.8M406.4 166.8l4.2 4.2m0 -4.2l-4.2 4.2M407.4 167.9v4.8M405.3 168.2l4.2 4.2m0 -4.2l-4.2 4.2M407.2 165.9v4.8M405.4 166.2l4.2 4.2m0 -4.2l-4.2 4.2M409.1 168v4.8M407.5 168.3l4.2 4.2m0 -4.2l-4.2 4.2M409.3 166.6v4.8M406.6 166.9l4.2 4.2m0 -4.2l-4.2 4.2M409.5 164.1v4.8M407.6 164.4l4.2 4.2m0 -4.2l-4.2 4.2M411.1 165.2v4.8M408.9 165.5l4.2 4.2m0 -4.2l-4.2 4.2M411.4 164.4v4.8M408.9 164.7l4.2 4.2m0 -4.2l-4.2 4.2M411.3 165.8v4.8M409.1 166.1l4.2 4.2m0 -4.2l-4.2 4.2M412.2 164.1v4.8M410.3 164.4l4.2 4.2m0 -4.2l-4.2 4.2M412.7 165.8v4.8M410.9 166.1l4.2 4.2m0 -4.2l-4.2 4.2M412.8 166v4.8M410.2 166.3l4.2 4.2m0 -4.2l-4.2 4.2M414.3 163.8v4.8M411.5 164.1l4.2 4.2m0 -4.2l-4.2 4.2M414.6 164v4.8M411.2 164.3l4.2 4.2m0 -4.2l-4.2 4.2M414.3 163.9v4.8M411.5 164.2l4.2 4.2m0 -4.2l-4.2 4.2M415.4 165.9v4.8M413.5 166.2l4.2 4.2m0 -4.2l-4.2 4.2M415.4 166.2v4.8M413.5 166.5l4.2 4.2m0 -4.2l-4.2 4.2M415.3 164.9v4.8M413.9 165.2l4.2 4.2m0 -4.2l-4.2 4.2M417.6 163.1v4.8M415.2 163.4l4.2 4.2m0 -4.2l-4.2 4.2M417.1 165.6v4.8M415 165.9l4.2 4.2m0 -4.2l-4.2 4.2M417.5 162.4v4.8M415.5 162.7l4.2 4.2m0 -4.2l-4.2 4.2M418.7 162.5v4.8M417.2 162.8l4.2 4.2m0 -4.2l-4.2 4.2M418.8 164.3v4.8M417.2 164.6l4.2 4.2m0 -4.2l-4.2 4.2M418.8 163.2v4.8M416.7 163.5l4.2 4.2m0 -4.2l-4.2 4.2M420.5 160.8v4.8M418 161.1l4.2 4.2m0 -4.2l-4.2 4.2M420.6 163.9v4.8M418.4 164.2l4.2 4.2m0 -4.2l-4.2 4.2M420.7 166.7v4.8M418.6 167l4.2 4.2m0 -4.2l-4.2 4.2M421.7 163.8v4.8M419.6 164.1l4.2 4.2m0 -4.2l-4.2 4.2M422.2 166v4.8M419.6 166.3l4.2 4.2m0 -4.2l-4.2 4.2M422 163.6v4.8M419.4 163.9l4.2 4.2m0 -4.2l-4.2 4.2M423.5 162.1v4.8M421.2 162.4l4.2 4.2m0 -4.2l-4.2 4.2M423.7 161.7v4.8M421.5 162l4.2 4.2m0 -4.2l-4.2 4.2M423.6 160.3v4.8M422.2 160.6l4.2 4.2m0 -4.2l-4.2 4.2M425.5 161.9v4.8M423.4 162.2l4.2 4.2m0 -4.2l-4.2 4.2M425.6 162.1v4.8M423.2 162.4l4.2 4.2m0 -4.2l-4.2 4.2M424.9 163.5v4.8M422.7 163.8l4.2 4.2m0 -4.2l-4.2 4.2M427.6 163v4.8M424.8 163.3l4.2 4.2m0 -4.2l-4.2 4.2M427.1 161.6v4.8M425.3 161.9l4.2 4.2m0 -4.2l-4.2 4.2M426.9 159.7v4.8M424.7 160l4.2 4.2m0 -4.2l-4.2 4.2M428.5 163.6v4.8M426 163.9l4.2 4.2m0 -4.2l-4.2 4.2M428.3 162.9v4.8M426.6 163.2l4.2 4.2m0 -4.2l-4.2 4.2M428.6 161.1v4.8M426.5 161.4l4.2 4.2m0 -4.2l-4.2 4.2M430.3 164v4.8M428 164.3l4.2 4.2m0 -4.2l-4.2 4.2M430.3 161.4v4.8M428.4 161.7l4.2 4.2m0 -4.2l-4.2 4.2M430.1 161.3v4.8M428.1 161.6l4.2 4.2m0 -4.2l-4.2 4.2M431.7 161.7v4.8M430.2 162l4.2 4.2m0 -4.2l-4.2 4.2M432.7 160v4.8M429.9 160.3l4.2 4.2m0 -4.2l-4.2 4.2M431.6 160.9v4.8M428.8 161.2l4.2 4.2m0 -4.2l-4.2 4.2M433.2 159.9v4.8M431.4 160.2l4.2 4.2m0 -4.2l-4.2 4.2M433 159.8v4.8M431.5 160.1l4.2 4.2m0 -4.2l-4.2 4.2M433.5 160.8v4.8M431.5 161.1l4.2 4.2m0 -4.2l-4.2 4.2M434.9 159.3v4.8M432.7 159.6l4.2 4.2m0 -4.2l-4.2 4.2M435.5 158.1v4.8M432.9 158.4l4.2 4.2m0 -4.2l-4.2 4.2M434.5 158.2v4.8M432.6 158.5l4.2 4.2m0 -4.2l-4.2 4.2M436.3 162.8v4.8M434.4 163.1l4.2 4.2m0 -4.2l-4.2 4.2M436.4 160.2v4.8M434 160.5l4.2 4.2m0 -4.2l-4.2 4.2M436.5 157.3v4.8M434.5 157.6l4.2 4.2m0 -4.2l-4.2 4.2M437.7 157.9v4.8M435.7 158.2l4.2 4.2m0 -4.2l-4.2 4.2M438.2 159.7v4.8M436.5 160l4.2 4.2m0 -4.2l-4.2 4.2M438.4 158.5v4.8M436.4 158.8l4.2 4.2m0 -4.2l-4.2 4.2M439.6 161.2v4.8M437.5 161.5l4.2 4.2m0 -4.2l-4.2 4.2M439.5 157.7v4.8M437.7 158l4.2 4.2m0 -4.2l-4.2 4.2M440.2 158.1v4.8M437.8 158.4l4.2 4.2m0 -4.2l-4.2 4.2M441.6 158.8v4.8M439.3 159.1l4.2 4.2m0 -4.2l-4.2 4.2M441.5 158v4.8M439.5 158.3l4.2 4.2m0 -4.2l-4.2 4.2M441.4 156.5v4.8M440 156.8l4.2 4.2m0 -4.2l-4.2 4.2M442.6 161.3v4.8M441.1 161.6l4.2 4.2m0 -4.2l-4.2 4.2M443 158.3v4.8M440.9 158.6l4.2 4.2m0 -4.2l-4.2 4.2M443.4 157.2v4.8M441 157.5l4.2 4.2m0 -4.2l-4.2 4.2M444.4 155.5v4.8M442.1 155.8l4.2 4.2m0 -4.2l-4.2 4.2M444.6 157.1v4.8M441.8 157.4l4.2 4.2m0 -4.2l-4.2 4.2M444.7 156.9v4.8M442.5 157.2l4.2 4.2m0 -4.2l-4.2 4.2M445.7 156.8v4.8M443.8 157.1l4.2 4.2m0 -4.2l-4.2 4.2M446 155.1v4.8M443.5 155.4l4.2 4.2m0 -4.2l-4.2 4.2M446.3 156.7v4.8M444 157l4.2 4.2m0 -4.2l-4.2 4.2M448.2 155.6v4.8M445.7 155.9l4.2 4.2m0 -4.2l-4.2 4.2M447.9 155.4v4.8M445.4 155.7l4.2 4.2m0 -4.2l-4.2 4.2M447.3 154.6v4.8M445.7 154.9l4.2 4.2m0 -4.2l-4.2 4.2M448.8 156.2v4.8M447 156.5l4.2 4.2m0 -4.2l-4.2 4.2M449.3 156.7v4.8M447.7 157l4.2 4.2m0 -4.2l-4.2 4.2M449.5 153.5v4.8M447 153.8l4.2 4.2m0 -4.2l-4.2 4.2M451.3 157.2v4.8M448.9 157.5l4.2 4.2m0 -4.2l-4.2 4.2M450.9 153.6v4.8M448.6 153.9l4.2 4.2m0 -4.2l-4.2 4.2M451 157.6v4.8M448.9 157.9l4.2 4.2m0 -4.2l-4.2 4.2M452.2 157.4v4.8M450.1 157.7l4.2 4.2m0 -4.2l-4.2 4.2M452.3 154.5v4.8M450.3 154.8l4.2 4.2m0 -4.2l-4.2 4.2M453 155.7v4.8M449.9 156l4.2 4.2m0 -4.2l-4.2 4.2M454.1 154.5v4.8M451.9 154.8l4.2 4.2m0 -4.2l-4.2 4.2M454.1 156.1v4.8M452.1 156.4l4.2 4.2m0 -4.2l-4.2 4.2M453.8 154.4v4.8M451.8 154.7l4.2 4.2m0 -4.2l-4.2 4.2M455.7 154.2v4.8M453.9 154.5l4.2 4.2m0 -4.2l-4.2 4.2M455.5 154.2v4.8M454.3 154.5l4.2 4.2m0 -4.2l-4.2 4.2M455.7 152.4v4.8M453.9 152.7l4.2 4.2m0 -4.2l-4.2 4.2M457.4 151.8v4.8M455.2 152.1l4.2 4.2m0 -4.2l-4.2 4.2M457.6 154.4v4.8M455.5 154.7l4.2 4.2m0 -4.2l-4.2 4.2M457.4 154.4v4.8M454.9 154.7l4.2 4.2m0 -4.2l-4.2 4.2M458.8 154v4.8M457.2 154.3l4.2 4.2m0 -4.2l-4.2 4.2M458.9 154v4.8M456.7 154.3l4.2 4.2m0 -4.2l-4.2 4.2M458.6 153.5v4.8M457 153.8l4.2 4.2m0 -4.2l-4.2 4.2M460.6 152.6v4.8M458.4 152.9l4.2 4.2m0 -4.2l-4.2 4.2M459.9 154.4v4.8M458.5 154.7l4.2 4.2m0 -4.2l-4.2 4.2M460.9 150.5v4.8M457.8 150.8l4.2 4.2m0 -4.2l-4.2 4.2M462 153.6v4.8M460.3 153.9l4.2 4.2m0 -4.2l-4.2 4.2M462.1 152v4.8M459.9 152.3l4.2 4.2m0 -4.2l-4.2 4.2M462.7 153.1v4.8M460.1 153.4l4.2 4.2m0 -4.2l-4.2 4.2M463.9 152.7v4.8M461.3 153l4.2 4.2m0 -4.2l-4.2 4.2M463.8 151.1v4.8M462.1 151.4l4.2 4.2m0 -4.2l-4.2 4.2M463.2 150.7v4.8M461.9 151l4.2 4.2m0 -4.2l-4.2 4.2M465.7 151v4.8M463.6 151.3l4.2 4.2m0 -4.2l-4.2 4.2M465 148.3v4.8M463.7 148.6l4.2 4.2m0 -4.2l-4.2 4.2M464.9 151.2v4.8M463.2 151.5l4.2 4.2m0 -4.2l-4.2 4.2M467.3 151.1v4.8M464.9 151.4l4.2 4.2m0 -4.2l-4.2 4.2M467.1 151.2v4.8M464.9 151.5l4.2 4.2m0 -4.2l-4.2 4.2M467.1 153.1v4.8M465.3 153.4l4.2 4.2m0 -4.2l-4.2 4.2M468.7 151.5v4.8M466.6 151.8l4.2 4.2m0 -4.2l-4.2 4.2M468.8 148.9v4.8M466.2 149.2l4.2 4.2m0 -4.2l-4.2 4.2M468.6 151.6v4.8M466.2 151.9l4.2 4.2m0 -4.2l-4.2 4.2M470.2 149.6v4.8M467.9 149.9l4.2 4.2m0 -4.2l-4.2 4.2M470.2 151.6v4.8M467.7 151.9l4.2 4.2m0 -4.2l-4.2 4.2M470.1 150.6v4.8M467.9 150.9l4.2 4.2m0 -4.2l-4.2 4.2M471.9 150.7v4.8M469.4 151l4.2 4.2m0 -4.2l-4.2 4.2M471.4 149.6v4.8M469.8 149.9l4.2 4.2m0 -4.2l-4.2 4.2M471.6 147.8v4.8M470.2 148.1l4.2 4.2m0 -4.2l-4.2 4.2M473.6 151.8v4.8M470.7 152.1l4.2 4.2m0 -4.2l-4.2 4.2M472.8 148.2v4.8M471.5 148.5l4.2 4.2m0 -4.2l-4.2 4.2M473.5 150.8v4.8M470.9 151.1l4.2 4.2m0 -4.2l-4.2 4.2M474.8 146v4.8M472.8 146.3l4.2 4.2m0 -4.2l-4.2 4.2M474.8 149v4.8M472.6 149.3l4.2 4.2m0 -4.2l-4.2 4.2M474.9 150.6v4.8M472.8 150.9l4.2 4.2m0 -4.2l-4.2 4.2M476.4 150.6v4.8M474 150.9l4.2 4.2m0 -4.2l-4.2 4.2M476.9 148.1v4.8M474.5 148.4l4.2 4.2m0 -4.2l-4.2 4.2M476.7 150.2v4.8M474.4 150.5l4.2 4.2m0 -4.2l-4.2 4.2M478 145.4v4.8M476.7 145.7l4.2 4.2m0 -4.2l-4.2 4.2M477.8 148.2v4.8M476 148.5l4.2 4.2m0 -4.2l-4.2 4.2M478.1 150.8v4.8M476.2 151.1l4.2 4.2m0 -4.2l-4.2 4.2M479.7 149.6v4.8M477.2 149.9l4.2 4.2m0 -4.2l-4.2 4.2M479.6 149.2v4.8M477.5 149.5l4.2 4.2m0 -4.2l-4.2 4.2M479.5 146v4.8M477.4 146.3l4.2 4.2m0 -4.2l-4.2 4.2M481.2 144v4.8M478.7 144.3l4.2 4.2m0 -4.2l-4.2 4.2M481.6 147.3v4.8M479 147.6l4.2 4.2m0 -4.2l-4.2 4.2M481 148.2v4.8M479.8 148.5l4.2 4.2m0 -4.2l-4.2 4.2M483.1 145.7v4.8M480.8 146l4.2 4.2m0 -4.2l-4.2 4.2M482.7 148.4v4.8M481 148.7l4.2 4.2m0 -4.2l-4.2 4.2M483.2 146.5v4.8M481.1 146.8l4.2 4.2m0 -4.2l-4.2 4.2M484.9 148.3v4.8M482.2 148.6l4.2 4.2m0 -4.2l-4.2 4.2M484.9 145.8v4.8M482.1 146.1l4.2 4.2m0 -4.2l-4.2 4.2M484.5 150.6v4.8M482.1 150.9l4.2 4.2m0 -4.2l-4.2 4.2M486.4 147.7v4.8M484.6 148l4.2 4.2m0 -4.2l-4.2 4.2M486.3 149.6v4.8M483.9 149.9l4.2 4.2m0 -4.2l-4.2 4.2M486 146v4.8M483.8 146.3l4.2 4.2m0 -4.2l-4.2 4.2M487.5 144.5v4.8M485 144.8l4.2 4.2m0 -4.2l-4.2 4.2M487.9 148.8v4.8M485.2 149.1l4.2 4.2m0 -4.2l-4.2 4.2M488 146.4v4.8M485.7 146.7l4.2 4.2m0 -4.2l-4.2 4.2M489.6 144.6v4.8M487.3 144.9l4.2 4.2m0 -4.2l-4.2 4.2M489.8 147.5v4.8M487.4 147.8l4.2 4.2m0 -4.2l-4.2 4.2M489 147.3v4.8M487 147.6l4.2 4.2m0 -4.2l-4.2 4.2M490.6 145.6v4.8M489.1 145.9l4.2 4.2m0 -4.2l-4.2 4.2M491.1 144v4.8M488.4 144.3l4.2 4.2m0 -4.2l-4.2 4.2M490.6 147.5v4.8M489.1 147.8l4.2 4.2m0 -4.2l-4.2 4.2M492.2 146v4.8M490.6 146.3l4.2 4.2m0 -4.2l-4.2 4.2M492.2 144v4.8M490.4 144.3l4.2 4.2m0 -4.2l-4.2 4.2M493.2 144.2v4.8M489.9 144.5l4.2 4.2m0 -4.2l-4.2 4.2M493.8 144.3v4.8M491.2 144.6l4.2 4.2m0 -4.2l-4.2 4.2M493.8 145.2v4.8M492.1 145.5l4.2 4.2m0 -4.2l-4.2 4.2M493.7 145.3v4.8M492.5 145.6l4.2 4.2m0 -4.2l-4.2 4.2M496.1 143.7v4.8M493.7 144l4.2 4.2m0 -4.2l-4.2 4.2M495.5 140.1v4.8M493.6 140.4l4.2 4.2m0 -4.2l-4.2 4.2M495.6 146.1v4.8M493.5 146.4l4.2 4.2m0 -4.2l-4.2 4.2M497.1 145.2v4.8M495.3 145.5l4.2 4.2m0 -4.2l-4.2 4.2M497.7 144.8v4.8M495.5 145.1l4.2 4.2m0 -4.2l-4.2 4.2M497.3 143.3v4.8M494.8 143.6l4.2 4.2m0 -4.2l-4.2 4.2M499.1 144v4.8M497 144.3l4.2 4.2m0 -4.2l-4.2 4.2M499.2 141.3v4.8M496.6 141.6l4.2 4.2m0 -4.2l-4.2 4.2M499.4 143.1v4.8M497.1 143.4l4.2 4.2m0 -4.2l-4.2 4.2M500.7 141.9v4.8M498.7 142.2l4.2 4.2m0 -4.2l-4.2 4.2M500.6 140.4v4.8M498.6 140.7l4.2 4.2m0 -4.2l-4.2 4.2M500.5 140.7v4.8M499 141l4.2 4.2m0 -4.2l-4.2 4.2M502.3 143.1v4.8M500 143.4l4.2 4.2m0 -4.2l-4.2 4.2M502.1 140.2v4.8M500.2 140.5l4.2 4.2m0 -4.2l-4.2 4.2M502.4 139.9v4.8M499.7 140.2l4.2 4.2m0 -4.2l-4.2 4.2M503.5 142.9v4.8M502 143.2l4.2 4.2m0 -4.2l-4.2 4.2M503.7 141.5v4.8M501.7 141.8l4.2 4.2m0 -4.2l-4.2 4.2M503.5 138.6v4.8M501.6 138.9l4.2 4.2m0 -4.2l-4.2 4.2M505.4 140v4.8M503.1 140.3l4.2 4.2m0 -4.2l-4.2 4.2M505.8 139.7v4.8M503.1 140l4.2 4.2m0 -4.2l-4.2 4.2M505.4 139v4.8M503.8 139.3l4.2 4.2m0 -4.2l-4.2 4.2M506.6 143.1v4.8M505.3 143.4l4.2 4.2m0 -4.2l-4.2 4.2M506.8 138.6v4.8M505.1 138.9l4.2 4.2m0 -4.2l-4.2 4.2M507 141.2v4.8M504.3 141.5l4.2 4.2m0 -4.2l-4.2 4.2M508.4 141.5v4.8M506.6 141.8l4.2 4.2m0 -4.2l-4.2 4.2M508.3 138.8v4.8M506.8 139.1l4.2 4.2m0 -4.2l-4.2 4.2M508 138.3v4.8M506.5 138.6l4.2 4.2m0 -4.2l-4.2 4.2M510 138.9v4.8M507.8 139.2l4.2 4.2m0 -4.2l-4.2 4.2M510.4 140v4.8M507.6 140.3l4.2 4.2m0 -4.2l-4.2 4.2M509.7 141.1v4.8M507.7 141.4l4.2 4.2m0 -4.2l-4.2 4.2M511.6 142.9v4.8M509.6 143.2l4.2 4.2m0 -4.2l-4.2 4.2M511.5 140.5v4.8M509.6 140.8l4.2 4.2m0 -4.2l-4.2 4.2M511.8 140.9v4.8M509.7 141.2l4.2 4.2m0 -4.2l-4.2 4.2M513 140.3v4.8M510.6 140.6l4.2 4.2m0 -4.2l-4.2 4.2M513.6 137.3v4.8M510.9 137.6l4.2 4.2m0 -4.2l-4.2 4.2M513.4 138.4v4.8M511.6 138.7l4.2 4.2m0 -4.2l-4.2 4.2M514.7 139.8v4.8M513.1 140.1l4.2 4.2m0 -4.2l-4.2 4.2M515 139.5v4.8M513 139.8l4.2 4.2m0 -4.2l-4.2 4.2M514.6 139.7v4.8M512.7 140l4.2 4.2m0 -4.2l-4.2 4.2M516.8 138.7v4.8M514.1 139l4.2 4.2m0 -4.2l-4.2 4.2M516.3 138.9v4.8M514.5 139.2l4.2 4.2m0 -4.2l-4.2 4.2M516.8 139.8v4.8M514.1 140.1l4.2 4.2m0 -4.2l-4.2 4.2M517.7 138.4v4.8M516 138.7l4.2 4.2m0 -4.2l-4.2 4.2M518 137v4.8M516 137.3l4.2 4.2m0 -4.2l-4.2 4.2M517.6 138.7v4.8M515.5 139l4.2 4.2m0 -4.2l-4.2 4.2M519.6 136.6v4.8M517.7 136.9l4.2 4.2m0 -4.2l-4.2 4.2M519.7 138.5v4.8M517.6 138.8l4.2 4.2m0 -4.2l-4.2 4.2M519.8 139.1v4.8M517.7 139.4l4.2 4.2m0 -4.2l-4.2 4.2M521.2 136.6v4.8M519.3 136.9l4.2 4.2m0 -4.2l-4.2 4.2M521.3 136v4.8M519.7 136.3l4.2 4.2m0 -4.2l-4.2 4.2M521.5 139.4v4.8M519.4 139.7l4.2 4.2m0 -4.2l-4.2 4.2M523.3 134.9v4.8M521.5 135.2l4.2 4.2m0 -4.2l-4.2 4.2M522.8 140.2v4.8M520.5 140.5l4.2 4.2m0 -4.2l-4.2 4.2M522.6 138.5v4.8M521 138.8l4.2 4.2m0 -4.2l-4.2 4.2M523.9 140v4.8M522.5 140.3l4.2 4.2m0 -4.2l-4.2 4.2M524.1 136.7v4.8M522.2 137l4.2 4.2m0 -4.2l-4.2 4.2M524.8 137.5v4.8M521.9 137.8l4.2 4.2m0 -4.2l-4.2 4.2M525.7 137.6v4.8M524.2 137.9l4.2 4.2m0 -4.2l-4.2 4.2M526.3 138.2v4.8M524.8 138.5l4.2 4.2m0 -4.2l-4.2 4.2M526.2 138.8v4.8M524.5 139.1l4.2 4.2m0 -4.2l-4.2 4.2M527.5 136.7v4.8M525.8 137l4.2 4.2m0 -4.2l-4.2 4.2M528.2 136.8v4.8M526.1 137.1l4.2 4.2m0 -4.2l-4.2 4.2M527.6 138.6v4.8M525.8 138.9l4.2 4.2m0 -4.2l-4.2 4.2M529.5 137.6v4.8M527.3 137.9l4.2 4.2m0 -4.2l-4.2 4.2M529.7 139.6v4.8M527 139.9l4.2 4.2m0 -4.2l-4.2 4.2M529 137.3v4.8M527.4 137.6l4.2 4.2m0 -4.2l-4.2 4.2M531.2 137.4v4.8M528.8 137.7l4.2 4.2m0 -4.2l-4.2 4.2M531.4 134.5v4.8M528.7 134.8l4.2 4.2m0 -4.2l-4.2 4.2M531 139v4.8M529 139.3l4.2 4.2m0 -4.2l-4.2 4.2M532.1 138.8v4.8M530.7 139.1l4.2 4.2m0 -4.2l-4.2 4.2M532.5 136.2v4.8M530.4 136.5l4.2 4.2m0 -4.2l-4.2 4.2M533 137.1v4.8M529.8 137.4l4.2 4.2m0 -4.2l-4.2 4.2M534 137.1v4.8M532.2 137.4l4.2 4.2m0 -4.2l-4.2 4.2M534 138v4.8M532 138.3l4.2 4.2m0 -4.2l-4.2 4.2M534.2 134.1v4.8M532.3 134.4l4.2 4.2m0 -4.2l-4.2 4.2M535.1 132.9v4.8M533.2 133.2l4.2 4.2m0 -4.2l-4.2 4.2M535.7 135.4v4.8M533.6 135.7l4.2 4.2m0 -4.2l-4.2 4.2M535.9 136.1v4.8M533.5 136.4l4.2 4.2m0 -4.2l-4.2 4.2M537.7 135.7v4.8M535.3 136l4.2 4.2m0 -4.2l-4.2 4.2M537.3 134.7v4.8M535.5 135l4.2 4.2m0 -4.2l-4.2 4.2M537 137.9v4.8M535.4 138.2l4.2 4.2m0 -4.2l-4.2 4.2M538.8 138.1v4.8M536.4 138.4l4.2 4.2m0 -4.2l-4.2 4.2M539.4 136.5v4.8M537 136.8l4.2 4.2m0 -4.2l-4.2 4.2M539.6 136.2v4.8M536.5 136.5l4.2 4.2m0 -4.2l-4.2 4.2M540.5 135.7v4.8M538.9 136l4.2 4.2m0 -4.2l-4.2 4.2M540.3 134.2v4.8M537.9 134.5l4.2 4.2m0 -4.2l-4.2 4.2M540.4 136.4v4.8M538.5 136.7l4.2 4.2m0 -4.2l-4.2 4.2M542 137.1v4.8M540.2 137.4l4.2 4.2m0 -4.2l-4.2 4.2M542 136.3v4.8M539.5 136.6l4.2 4.2m0 -4.2l-4.2 4.2M542.2 137.1v4.8M540.3 137.4l4.2 4.2m0 -4.2l-4.2 4.2M543.4 131.9v4.8M541.9 132.2l4.2 4.2m0 -4.2l-4.2 4.2M543.7 136.2v4.8M541.6 136.5l4.2 4.2m0 -4.2l-4.2 4.2M543.6 136.5v4.8M541.7 136.8l4.2 4.2m0 -4.2l-4.2 4.2M545.7 134.2v4.8M543.1 134.5l4.2 4.2m0 -4.2l-4.2 4.2M545.1 134.6v4.8M543.1 134.9l4.2 4.2m0 -4.2l-4.2 4.2M545.2 136.6v4.8M542.9 136.9l4.2 4.2m0 -4.2l-4.2 4.2M547.1 135.6v4.8M544.2 135.9l4.2 4.2m0 -4.2l-4.2 4.2M547 135.7v4.8M544.6 136l4.2 4.2m0 -4.2l-4.2 4.2M546.4 135.5v4.8M544.4 135.8l4.2 4.2m0 -4.2l-4.2 4.2M548.1 135.2v4.8M546.1 135.5l4.2 4.2m0 -4.2l-4.2 4.2M548.6 132.3v4.8M546.3 132.6l4.2 4.2m0 -4.2l-4.2 4.2M548.3 135.2v4.8M546 135.5l4.2 4.2m0 -4.2l-4.2 4.2M549.9 136.3v4.8M548 136.6l4.2 4.2m0 -4.2l-4.2 4.2M549.9 135.5v4.8M547.7 135.8l4.2 4.2m0 -4.2l-4.2 4.2M550.2 131.6v4.8M548.2 131.9l4.2 4.2m0 -4.2l-4.2 4.2M552 134.9v4.8M549.2 135.2l4.2 4.2m0 -4.2l-4.2 4.2M551.7 132.9v4.8M549.8 133.2l4.2 4.2m0 -4.2l-4.2 4.2M551.5 132.5v4.8M549.5 132.8l4.2 4.2m0 -4.2l-4.2 4.2M553.4 131.7v4.8M550.9 132l4.2 4.2m0 -4.2l-4.2 4.2M553 131.9v4.8M550.9 132.2l4.2 4.2m0 -4.2l-4.2 4.2M553.2 133.7v4.8M551.3 134l4.2 4.2m0 -4.2l-4.2 4.2M554.7 129.7v4.8M552.6 130l4.2 4.2m0 -4.2l-4.2 4.2M554.9 133.3v4.8M552.7 133.6l4.2 4.2m0 -4.2l-4.2 4.2M554.9 133.7v4.8M552.9 134l4.2 4.2m0 -4.2l-4.2 4.2M556.6 131.7v4.8M554.3 132l4.2 4.2m0 -4.2l-4.2 4.2M556.8 132.7v4.8M554.6 133l4.2 4.2m0 -4.2l-4.2 4.2M556.1 131.5v4.8M554.4 131.8l4.2 4.2m0 -4.2l-4.2 4.2M557.9 133.1v4.8M555.9 133.4l4.2 4.2m0 -4.2l-4.2 4.2M558.5 134.6v4.8M556.2 134.9l4.2 4.2m0 -4.2l-4.2 4.2M557.8 132.3v4.8M556.2 132.6l4.2 4.2m0 -4.2l-4.2 4.2M559.7 130.8v4.8M557.5 131.1l4.2 4.2m0 -4.2l-4.2 4.2M560.1 132.1v4.8M557.7 132.4l4.2 4.2m0 -4.2l-4.2 4.2M559.4 129v4.8M557.1 129.3l4.2 4.2m0 -4.2l-4.2 4.2M561.1 133.4v4.8M559.3 133.7l4.2 4.2m0 -4.2l-4.2 4.2M560.9 132.1v4.8M558.8 132.4l4.2 4.2m0 -4.2l-4.2 4.2M561.7 132v4.8M558.8 132.3l4.2 4.2m0 -4.2l-4.2 4.2M563 133.2v4.8M560.8 133.5l4.2 4.2m0 -4.2l-4.2 4.2M562.6 133.2v4.8M560.9 133.5l4.2 4.2m0 -4.2l-4.2 4.2M562.6 133v4.8M561.4 133.3l4.2 4.2m0 -4.2l-4.2 4.2M564.8 133.5v4.8M562.6 133.8l4.2 4.2m0 -4.2l-4.2 4.2M564.8 132.1v4.8M562.2 132.4l4.2 4.2m0 -4.2l-4.2 4.2M564.9 132v4.8M562.6 132.3l4.2 4.2m0 -4.2l-4.2 4.2M566.1 131.2v4.8M564.1 131.5l4.2 4.2m0 -4.2l-4.2 4.2M565.5 132.8v4.8M563.9 133.1l4.2 4.2m0 -4.2l-4.2 4.2M566.2 133.1v4.8M564.3 133.4l4.2 4.2m0 -4.2l-4.2 4.2M567.3 131.1v4.8M565.7 131.4l4.2 4.2m0 -4.2l-4.2 4.2M567.2 132.3v4.8M565.3 132.6l4.2 4.2m0 -4.2l-4.2 4.2M568.1 132.4v4.8M565.9 132.7l4.2 4.2m0 -4.2l-4.2 4.2M569.3 133.9v4.8M566.9 134.2l4.2 4.2m0 -4.2l-4.2 4.2M569.1 134.5v4.8M567.5 134.8l4.2 4.2m0 -4.2l-4.2 4.2M569 134.4v4.8M567.3 134.7l4.2 4.2m0 -4.2l-4.2 4.2M571.6 131.7v4.8M568.5 132l4.2 4.2m0 -4.2l-4.2 4.2M570.9 131.6v4.8M568.5 131.9l4.2 4.2m0 -4.2l-4.2 4.2M571.2 129.8v4.8M568.5 130.1l4.2 4.2m0 -4.2l-4.2 4.2M572.5 130.5v4.8M570 130.8l4.2 4.2m0 -4.2l-4.2 4.2M572.4 133v4.8M570.4 133.3l4.2 4.2m0 -4.2l-4.2 4.2M572.3 132v4.8M569.9 132.3l4.2 4.2m0 -4.2l-4.2 4.2M573.5 133.1v4.8M572.1 133.4l4.2 4.2m0 -4.2l-4.2 4.2M573.7 131.1v4.8M572 131.4l4.2 4.2m0 -4.2l-4.2 4.2M574.3 131.7v4.8M572.3 132l4.2 4.2m0 -4.2l-4.2 4.2M576 133v4.8M573.4 133.3l4.2 4.2m0 -4.2l-4.2 4.2M575.8 131.9v4.8M573.1 132.2l4.2 4.2m0 -4.2l-4.2 4.2M576.2 131.8v4.8M574.2 132.1l4.2 4.2m0 -4.2l-4.2 4.2M577.3 132.6v4.8M574.6 132.9l4.2 4.2m0 -4.2l-4.2 4.2M577.2 133.9v4.8M575.1 134.2l4.2 4.2m0 -4.2l-4.2 4.2M577.6 129.8v4.8M575.5 130.1l4.2 4.2m0 -4.2l-4.2 4.2M578.1 131.8v4.8M576.5 132.1l4.2 4.2m0 -4.2l-4.2 4.2M579 133.4v4.8M576.5 133.7l4.2 4.2m0 -4.2l-4.2 4.2M578.3 132.7v4.8M576.7 133l4.2 4.2m0 -4.2l-4.2 4.2M580.7 130.2v4.8M578.4 130.5l4.2 4.2m0 -4.2l-4.2 4.2M580.3 132.5v4.8M578.3 132.8l4.2 4.2m0 -4.2l-4.2 4.2M581 133.2v4.8M578.3 133.5l4.2 4.2m0 -4.2l-4.2 4.2M582.1 131.6v4.8M580.1 131.9l4.2 4.2m0 -4.2l-4.2 4.2M582.6 131.5v4.8M579.7 131.8l4.2 4.2m0 -4.2l-4.2 4.2M582.2 131.9v4.8M579.6 132.2l4.2 4.2m0 -4.2l-4.2 4.2M583.6 131.7v4.8M581.4 132l4.2 4.2m0 -4.2l-4.2 4.2M583 133.2v4.8M581.2 133.5l4.2 4.2m0 -4.2l-4.2 4.2M584.1 130.4v4.8M581.4 130.7l4.2 4.2m0 -4.2l-4.2 4.2M585.7 133.1v4.8M583.1 133.4l4.2 4.2m0 -4.2l-4.2 4.2M585.5 132.3v4.8M583.3 132.6l4.2 4.2m0 -4.2l-4.2 4.2M585.3 132.2v4.8M583 132.5l4.2 4.2m0 -4.2l-4.2 4.2M587.3 130.7v4.8M584.9 131l4.2 4.2m0 -4.2l-4.2 4.2M587.1 131.2v4.8M584.5 131.5l4.2 4.2m0 -4.2l-4.2 4.2M586.8 131v4.8M584.6 131.3l4.2 4.2m0 -4.2l-4.2 4.2M588.4 131.1v4.8M586.8 131.4l4.2 4.2m0 -4.2l-4.2 4.2M588.3 133.5v4.8M586.7 133.8l4.2 4.2m0 -4.2l-4.2 4.2M588.8 131.3v4.8M586.3 131.6l4.2 4.2m0 -4.2l-4.2 4.2M590.2 132.4v4.8M588.2 132.7l4.2 4.2m0 -4.2l-4.2 4.2M589.8 132.7v4.8M588.3 133l4.2 4.2m0 -4.2l-4.2 4.2M589.8 130.8v4.8M588.1 131.1l4.2 4.2m0 -4.2l-4.2 4.2M591.8 133.4v4.8M589.7 133.7l4.2 4.2m0 -4.2l-4.2 4.2M591.8 132.1v4.8M589.1 132.4l4.2 4.2m0 -4.2l-4.2 4.2M592.1 132.7v4.8M590 133l4.2 4.2m0 -4.2l-4.2 4.2M593.5 131.8v4.8M591.1 132.1l4.2 4.2m0 -4.2l-4.2 4.2M593.4 135.4v4.8M591.1 135.7l4.2 4.2m0 -4.2l-4.2 4.2M593.6 132.4v4.8M591.4 132.7l4.2 4.2m0 -4.2l-4.2 4.2M595.1 133.4v4.8M592.7 133.7l4.2 4.2m0 -4.2l-4.2 4.2M595.1 131.6v4.8M592.2 131.9l4.2 4.2m0 -4.2l-4.2 4.2M595.1 130.7v4.8M593 131l4.2 4.2m0 -4.2l-4.2 4.2M596.1 133.4v4.8M594.1 133.7l4.2 4.2m0 -4.2l-4.2 4.2M596.7 132.3v4.8M594 132.6l4.2 4.2m0 -4.2l-4.2 4.2M595.8 132.7v4.8M594 133l4.2 4.2m0 -4.2l-4.2 4.2M598.4 133.3v4.8M596.2 133.6l4.2 4.2m0 -4.2l-4.2 4.2M598.1 132.4v4.8M596 132.7l4.2 4.2m0 -4.2l-4.2 4.2M597.8 131.5v4.8M596.3 131.8l4.2 4.2m0 -4.2l-4.2 4.2M599.6 133v4.8M598.2 133.3l4.2 4.2m0 -4.2l-4.2 4.2M599.4 134.3v4.8M597.5 134.6l4.2 4.2m0 -4.2l-4.2 4.2M599.7 132.5v4.8M597.7 132.8l4.2 4.2m0 -4.2l-4.2 4.2M600.8 134.5v4.8M599.6 134.8l4.2 4.2m0 -4.2l-4.2 4.2M601.7 133v4.8M599.3 133.3l4.2 4.2m0 -4.2l-4.2 4.2M601.5 134.8v4.8M599.5 135.1l4.2 4.2m0 -4.2l-4.2 4.2M603.3 136v4.8M600.5 136.3l4.2 4.2m0 -4.2l-4.2 4.2M603.2 135.2v4.8M601 135.5l4.2 4.2m0 -4.2l-4.2 4.2M603 134v4.8M600.5 134.3l4.2 4.2m0 -4.2l-4.2 4.2M604.5 134.2v4.8M602.1 134.5l4.2 4.2m0 -4.2l-4.2 4.2M604.3 135.5v4.8M602.6 135.8l4.2 4.2m0 -4.2l-4.2 4.2M604.1 133.5v4.8M602.8 133.8l4.2 4.2m0 -4.2l-4.2 4.2M606 133.8v4.8M603.7 134.1l4.2 4.2m0 -4.2l-4.2 4.2M606.3 133.2v4.8M604.2 133.5l4.2 4.2m0 -4.2l-4.2 4.2M605.9 134v4.8M604.2 134.3l4.2 4.2m0 -4.2l-4.2 4.2M608.1 135v4.8M605.6 135.3l4.2 4.2m0 -4.2l-4.2 4.2M607.9 135.3v4.8M606 135.6l4.2 4.2m0 -4.2l-4.2 4.2M607.6 136.8v4.8M605.7 137.1l4.2 4.2m0 -4.2l-4.2 4.2M609.7 134v4.8M607.7 134.3l4.2 4.2m0 -4.2l-4.2 4.2M609 134.9v4.8M607.6 135.2l4.2 4.2m0 -4.2l-4.2 4.2M609.2 134.3v4.8M607.2 134.6l4.2 4.2m0 -4.2l-4.2 4.2M610.7 134.4v4.8M609.1 134.7l4.2 4.2m0 -4.2l-4.2 4.2M610.9 135.5v4.8M608.7 135.8l4.2 4.2m0 -4.2l-4.2 4.2M611.2 135.2v4.8M609 135.5l4.2 4.2m0 -4.2l-4.2 4.2M612.8 135.2v4.8M610.6 135.5l4.2 4.2m0 -4.2l-4.2 4.2M612.5 134.9v4.8M610.9 135.2l4.2 4.2m0 -4.2l-4.2 4.2M612.6 134.3v4.8M610.9 134.6l4.2 4.2m0 -4.2l-4.2 4.2M614.2 136.3v4.8M612 136.6l4.2 4.2m0 -4.2l-4.2 4.2M614.2 135.6v4.8M611.9 135.9l4.2 4.2m0 -4.2l-4.2 4.2M614.1 134.8v4.8M611.7 135.1l4.2 4.2m0 -4.2l-4.2 4.2M616 134.7v4.8M613.4 135l4.2 4.2m0 -4.2l-4.2 4.2M615.1 136.7v4.8M613.3 137l4.2 4.2m0 -4.2l-4.2 4.2M615.7 136.7v4.8M613.4 137l4.2 4.2m0 -4.2l-4.2 4.2M617.8 134.9v4.8M615 135.2l4.2 4.2m0 -4.2l-4.2 4.2M616.6 133.6v4.8M615.7 133.9l4.2 4.2m0 -4.2l-4.2 4.2M617.1 135.8v4.8M615 136.1l4.2 4.2m0 -4.2l-4.2 4.2M619.2 135.9v4.8M616.8 136.2l4.2 4.2m0 -4.2l-4.2 4.2M619.1 135.3v4.8M616.6 135.6l4.2 4.2m0 -4.2l-4.2 4.2M619.2 137.5v4.8M616.8 137.8l4.2 4.2m0 -4.2l-4.2 4.2M620.3 136.9v4.8M618.3 137.2l4.2 4.2m0 -4.2l-4.2 4.2M620.7 135.9v4.8M618.2 136.2l4.2 4.2m0 -4.2l-4.2 4.2M621 137v4.8M618.5 137.3l4.2 4.2m0 -4.2l-4.2 4.2M622 136.2v4.8M620 136.5l4.2 4.2m0 -4.2l-4.2 4.2M622.2 137.3v4.8M619.9 137.6l4.2 4.2m0 -4.2l-4.2 4.2M622.2 136.8v4.8M619.5 137.1l4.2 4.2m0 -4.2l-4.2 4.2M623.7 135v4.8M621.3 135.3l4.2 4.2m0 -4.2l-4.2 4.2M623.6 138.7v4.8M621.5 139l4.2 4.2m0 -4.2l-4.2 4.2M623.6 136.9v4.8M621.6 137.2l4.2 4.2m0 -4.2l-4.2 4.2" stroke="#61C853" stroke-width="0.85" fill="none" opacity="1"/>
<path d="M112.4 149.4v5.1M110.4 150l4 4m0 -4l-4 4M112.6 149.7v5M110.6 150.2l4 4m0 -4l-4 4M115.6 151.9v3.3M113.9 151.5l4 4m0 -4l-4 4M115.4 152.3v5.1M113.9 152.9l4 4m0 -4l-4 4M332.5 175v2.2M330.6 174.1l4 4m0 -4l-4 4M332.8 174.3v2.2M330.9 173.4l4 4m0 -4l-4 4M333.8 175v2.2M331.9 174.1l4 4m0 -4l-4 4M333.9 175.2v2.2M332 174.3l4 4m0 -4l-4 4M335.9 174.7v2.2M334.1 173.8l4 4m0 -4l-4 4M335.7 174.5v2.2M333.6 173.6l4 4m0 -4l-4 4M337.5 175.7v2.2M335.2 174.8l4 4m0 -4l-4 4M337.6 174.2v2.2M335.8 173.3l4 4m0 -4l-4 4M338.9 174.8v2.2M337.5 173.9l4 4m0 -4l-4 4M338.9 174.7v2.2M337.1 173.8l4 4m0 -4l-4 4M340.5 175.4v2.2M338.3 174.5l4 4m0 -4l-4 4M340.6 174.7v2.2M338.7 173.8l4 4m0 -4l-4 4M341.7 174.9v2.2M340.4 174l4 4m0 -4l-4 4M341.9 176.2v2.2M340.1 175.3l4 4m0 -4l-4 4M343.6 174.4v2.2M341.7 173.5l4 4m0 -4l-4 4M343.3 175.4v2.2M341.8 174.5l4 4m0 -4l-4 4M345 174.6v2.2M342.7 173.7l4 4m0 -4l-4 4M345.1 174.6v2.2M343.4 173.7l4 4m0 -4l-4 4M346.6 174.6v2.2M344.9 173.7l4 4m0 -4l-4 4M347.1 175.7v2.2M344.8 174.8l4 4m0 -4l-4 4M348.8 174.2v2.2M346.2 173.3l4 4m0 -4l-4 4M348.1 174.1v2.2M346.1 173.2l4 4m0 -4l-4 4M350.2 174.8v2.2M347.9 173.9l4 4m0 -4l-4 4M350.4 174.7v2.2M348.1 173.8l4 4m0 -4l-4 4M351.5 175.1v2.2M349.7 174.2l4 4m0 -4l-4 4M351.7 173.5v2.2M349.7 172.6l4 4m0 -4l-4 4M353 175.1v2.2M351.7 174.2l4 4m0 -4l-4 4M353.3 175.3v2.2M351.5 174.4l4 4m0 -4l-4 4M355.5 175.3v2.2M353.1 174.4l4 4m0 -4l-4 4M354.7 175.1v2.2M352.9 174.2l4 4m0 -4l-4 4M356.4 174.5v2.2M354.3 173.6l4 4m0 -4l-4 4M356.7 174.2v2.2M354.7 173.3l4 4m0 -4l-4 4M357.9 174.9v2.2M356.3 174l4 4m0 -4l-4 4M358.4 174v2.2M356 173.1l4 4m0 -4l-4 4M359.8 174.9v2.2M357.6 174l4 4m0 -4l-4 4M359.7 174.2v2.2M357.5 173.3l4 4m0 -4l-4 4M361.1 173.9v2.2M359.8 173l4 4m0 -4l-4 4M361.2 174.1v2.2M359.7 173.2l4 4m0 -4l-4 4M362.5 174.1v2.2M360.5 173.2l4 4m0 -4l-4 4M362.5 174v2.2M361.2 173.1l4 4m0 -4l-4 4M364.7 174.3v2.2M362.9 173.4l4 4m0 -4l-4 4M364.4 173.6v2.2M362.1 172.7l4 4m0 -4l-4 4M366.2 174.5v2.2M364 173.6l4 4m0 -4l-4 4M366 174v2.2M364.3 173.1l4 4m0 -4l-4 4M367.3 173.5v2.2M365.9 172.6l4 4m0 -4l-4 4M367.8 173.8v2.2M365.6 172.9l4 4m0 -4l-4 4M370 174.2v2.2M367.2 173.3l4 4m0 -4l-4 4M369.4 174.1v2.2M366.5 173.2l4 4m0 -4l-4 4M371.5 174.2v2.2M369.1 173.3l4 4m0 -4l-4 4M371.3 173.9v2.2M369.2 173l4 4m0 -4l-4 4M372.5 173.7v2.2M370 172.8l4 4m0 -4l-4 4M372.8 174.1v2.2M370.5 173.2l4 4m0 -4l-4 4M373.7 173.5v2.2M371.8 172.6l4 4m0 -4l-4 4M374.1 173.9v2.2M372.2 173l4 4m0 -4l-4 4M375.7 173.6v2.2M373.9 172.7l4 4m0 -4l-4 4M376 174.1v2.2M373.8 173.2l4 4m0 -4l-4 4M376.8 173.6v2.2M375.5 172.7l4 4m0 -4l-4 4M377.9 173.1v2.2M375 172.2l4 4m0 -4l-4 4M378.8 173.4v2.2M377.2 172.5l4 4m0 -4l-4 4M378.7 173.4v2.2M377.1 172.5l4 4m0 -4l-4 4M380.4 173.5v2.2M378.6 172.6l4 4m0 -4l-4 4M380.2 173.3v2.2M378.6 172.4l4 4m0 -4l-4 4M381.9 173.1v2.2M380.4 172.2l4 4m0 -4l-4 4M382 172.6v2.2M380.1 171.7l4 4m0 -4l-4 4M383.8 173.8v2.2M381.3 172.9l4 4m0 -4l-4 4M383.6 173.2v2.2M381.6 172.3l4 4m0 -4l-4 4M384.9 172.5v2.2M383.4 171.6l4 4m0 -4l-4 4M385.1 172.2v2.2M383.4 171.3l4 4m0 -4l-4 4M386.7 172.6v2.2M384.6 171.7l4 4m0 -4l-4 4M387.2 172.7v2.2M385 171.8l4 4m0 -4l-4 4M388.1 172.1v2.2M386.5 171.2l4 4m0 -4l-4 4M388.6 172.1v2.2M386.8 171.2l4 4m0 -4l-4 4M390.3 171.8v2.2M388.3 170.9l4 4m0 -4l-4 4M390.2 172.6v2.2M388.5 171.7l4 4m0 -4l-4 4M392 171.5v2.2M389.9 170.6l4 4m0 -4l-4 4M391.3 171.7v2.2M389.9 170.8l4 4m0 -4l-4 4M393.5 170.9v2.2M392.2 170l4 4m0 -4l-4 4M393.5 171.4v2.2M391 170.5l4 4m0 -4l-4 4M395.2 171.3v2.2M392.8 170.4l4 4m0 -4l-4 4M394.5 171.1v2.2M393.6 170.2l4 4m0 -4l-4 4M396.6 170v2.2M394.2 169.1l4 4m0 -4l-4 4M396.3 171.5v2.2M395.1 170.6l4 4m0 -4l-4 4M397.6 170.5v2.2M396.6 169.6l4 4m0 -4l-4 4M398 170.5v2.2M395.8 169.6l4 4m0 -4l-4 4M399.5 169.9v2.2M397.2 169l4 4m0 -4l-4 4M399.6 169.2v2.2M397.6 168.3l4 4m0 -4l-4 4M401.3 168.8v2.2M399.3 167.9l4 4m0 -4l-4 4M401.4 169.1v2.2M399.2 168.2l4 4m0 -4l-4 4M403.1 168.9v2.2M400.9 168l4 4m0 -4l-4 4M403.3 169v2.2M400.7 168.1l4 4m0 -4l-4 4M404.3 167.8v2.2M402.8 166.9l4 4m0 -4l-4 4M404.3 168.4v2.2M402.8 167.5l4 4m0 -4l-4 4M405.8 167.5v2.2M404.1 166.6l4 4m0 -4l-4 4M406.1 168.6v2.2M403.9 167.7l4 4m0 -4l-4 4M408 167.5v2.2M405.6 166.6l4 4m0 -4l-4 4M407.3 167.4v2.2M405.3 166.5l4 4m0 -4l-4 4M409.5 167.6v2.2M407.2 166.7l4 4m0 -4l-4 4M409.1 167.3v2.2M407.6 166.4l4 4m0 -4l-4 4M411.1 167v2.2M408.6 166.1l4 4m0 -4l-4 4M410.2 166.7v2.2M409.3 165.8l4 4m0 -4l-4 4M412.5 167.1v2.2M410.4 166.2l4 4m0 -4l-4 4M412.5 166.6v2.2M410.6 165.7l4 4m0 -4l-4 4M413.3 167.7v2.2M412.5 166.8l4 4m0 -4l-4 4M414.4 167.2v2.2M412 166.3l4 4m0 -4l-4 4M415.2 166.1v2.2M413.7 165.2l4 4m0 -4l-4 4M415.5 165.5v2.2M413.7 164.6l4 4m0 -4l-4 4M417.7 166.7v2.2M415.4 165.8l4 4m0 -4l-4 4M417.4 165.4v2.2M415.3 164.5l4 4m0 -4l-4 4M419.2 164v2.2M416.5 163.1l4 4m0 -4l-4 4M418.7 164.8v2.2M417.1 163.9l4 4m0 -4l-4 4M420.4 164.8v2.2M418.8 163.9l4 4m0 -4l-4 4M420.1 165.3v2.2M418.8 164.4l4 4m0 -4l-4 4M421.6 163.1v2.2M420.2 162.2l4 4m0 -4l-4 4M422 164.3v2.2M420.2 163.4l4 4m0 -4l-4 4M423.2 163.3v2.2M421.8 162.4l4 4m0 -4l-4 4M423.8 164.2v2.2M421.4 163.3l4 4m0 -4l-4 4M424.9 163.8v2.2M423.2 162.9l4 4m0 -4l-4 4M425.2 163.4v2.2M423.2 162.5l4 4m0 -4l-4 4M426.9 163.2v2.2M425.1 162.3l4 4m0 -4l-4 4M426.9 162.7v2.2M424.7 161.8l4 4m0 -4l-4 4M428.5 162.1v2.2M427.1 161.2l4 4m0 -4l-4 4M428.5 161.2v2.2M426.6 160.3l4 4m0 -4l-4 4M430.3 162.7v2.2M427.8 161.8l4 4m0 -4l-4 4M430.2 161.6v2.2M427.9 160.7l4 4m0 -4l-4 4M431.8 161.4v2.2M430.3 160.5l4 4m0 -4l-4 4M432.3 160.7v2.2M429.6 159.8l4 4m0 -4l-4 4M433.3 161.6v2.2M430.9 160.7l4 4m0 -4l-4 4M433.7 160.2v2.2M431.5 159.3l4 4m0 -4l-4 4M435.1 160.9v2.2M432.8 160l4 4m0 -4l-4 4M434.8 160.5v2.2M432.6 159.6l4 4m0 -4l-4 4M436.8 160.1v2.2M434.8 159.2l4 4m0 -4l-4 4M436.5 160.3v2.2M434.4 159.4l4 4m0 -4l-4 4M437.9 160.3v2.2M436 159.4l4 4m0 -4l-4 4M437.8 159.8v2.2M436.2 158.9l4 4m0 -4l-4 4M439.6 159.6v2.2M437.3 158.7l4 4m0 -4l-4 4M439.4 159.3v2.2M438 158.4l4 4m0 -4l-4 4M441.2 158.9v2.2M439.1 158l4 4m0 -4l-4 4M441.7 158.2v2.2M439.3 157.3l4 4m0 -4l-4 4M443.3 158.8v2.2M441.2 157.9l4 4m0 -4l-4 4M443 158.8v2.2M441.4 157.9l4 4m0 -4l-4 4M444.9 157.7v2.2M442.3 156.8l4 4m0 -4l-4 4M444.2 157.5v2.2M442.5 156.6l4 4m0 -4l-4 4M445.8 158v2.2M443.7 157.1l4 4m0 -4l-4 4M446.4 157.4v2.2M444.4 156.5l4 4m0 -4l-4 4M447.7 157.4v2.2M445.6 156.5l4 4m0 -4l-4 4M447.6 158.2v2.2M445.5 157.3l4 4m0 -4l-4 4M449.3 157.7v2.2M447.6 156.8l4 4m0 -4l-4 4M448.9 156.6v2.2M447 155.7l4 4m0 -4l-4 4M450.3 156.4v2.2M448.7 155.5l4 4m0 -4l-4 4M451 156v2.2M448.9 155.1l4 4m0 -4l-4 4M452.5 156.2v2.2M450.5 155.3l4 4m0 -4l-4 4M452.4 156.1v2.2M450.8 155.2l4 4m0 -4l-4 4M454.2 155.2v2.2M451.9 154.3l4 4m0 -4l-4 4M454.2 155.2v2.2M452.3 154.3l4 4m0 -4l-4 4M455.7 154.8v2.2M453.8 153.9l4 4m0 -4l-4 4M455.4 156.7v2.2M453.7 155.8l4 4m0 -4l-4 4M457.4 154.9v2.2M455.2 154l4 4m0 -4l-4 4M457.1 155.1v2.2M455.8 154.2l4 4m0 -4l-4 4M459.1 154.2v2.2M456.9 153.3l4 4m0 -4l-4 4M458.9 155.2v2.2M457.2 154.3l4 4m0 -4l-4 4M460 153.7v2.2M459 152.8l4 4m0 -4l-4 4M460.5 153.5v2.2M458.3 152.6l4 4m0 -4l-4 4M461.9 153.9v2.2M459.9 153l4 4m0 -4l-4 4M461.8 154.6v2.2M459.8 153.7l4 4m0 -4l-4 4M463.6 154.3v2.2M461 153.4l4 4m0 -4l-4 4M463.6 154.2v2.2M462 153.3l4 4m0 -4l-4 4M465.3 153v2.2M463.2 152.1l4 4m0 -4l-4 4M465.2 152.9v2.2M463.4 152l4 4m0 -4l-4 4M466.9 153.4v2.2M464.8 152.5l4 4m0 -4l-4 4M467.1 153.2v2.2M464.9 152.3l4 4m0 -4l-4 4M467.9 152v2.2M466.2 151.1l4 4m0 -4l-4 4M468.6 151.3v2.2M466.5 150.4l4 4m0 -4l-4 4M470.6 152.4v2.2M468 151.5l4 4m0 -4l-4 4M469.4 151.7v2.2M468.1 150.8l4 4m0 -4l-4 4M471.8 151.5v2.2M469.7 150.6l4 4m0 -4l-4 4M471.7 150.9v2.2M469.8 150l4 4m0 -4l-4 4M473.3 150.5v2.2M471.3 149.6l4 4m0 -4l-4 4M473.3 150.6v2.2M471.5 149.7l4 4m0 -4l-4 4M474.7 150.2v2.2M472.9 149.3l4 4m0 -4l-4 4M474.5 150.2v2.2M472.8 149.3l4 4m0 -4l-4 4M476.5 150.2v2.2M474.7 149.3l4 4m0 -4l-4 4M476.6 150.6v2.2M474.5 149.7l4 4m0 -4l-4 4M478 150.1v2.2M477 149.2l4 4m0 -4l-4 4M477.9 150.1v2.2M476 149.2l4 4m0 -4l-4 4M479.3 149.6v2.2M477.7 148.7l4 4m0 -4l-4 4M479.4 149.7v2.2M477.5 148.8l4 4m0 -4l-4 4M481.6 149.8v2.2M478.9 148.9l4 4m0 -4l-4 4M481.6 148.7v2.2M479.2 147.8l4 4m0 -4l-4 4M483.1 149.5v2.2M481.1 148.6l4 4m0 -4l-4 4M483.2 147.5v2.2M480.8 146.6l4 4m0 -4l-4 4M485 149.1v2.2M482.1 148.2l4 4m0 -4l-4 4M484.4 149.4v2.2M482.9 148.5l4 4m0 -4l-4 4M485.3 148v2.2M484.2 147.1l4 4m0 -4l-4 4M486.9 148.2v2.2M484.3 147.3l4 4m0 -4l-4 4M487.4 148v2.2M485.5 147.1l4 4m0 -4l-4 4M488 147.8v2.2M485.5 146.9l4 4m0 -4l-4 4M489.8 147.7v2.2M487.7 146.8l4 4m0 -4l-4 4M489.4 148.7v2.2M487.4 147.8l4 4m0 -4l-4 4M490.8 146.1v2.2M489.3 145.2l4 4m0 -4l-4 4M490.9 146.6v2.2M488.8 145.7l4 4m0 -4l-4 4M492.8 147v2.2M489.9 146.1l4 4m0 -4l-4 4M492.7 145.7v2.2M490.4 144.8l4 4m0 -4l-4 4M494.4 146.8v2.2M491.7 145.9l4 4m0 -4l-4 4M493.9 146v2.2M492 145.1l4 4m0 -4l-4 4M495.9 145.5v2.2M493.6 144.6l4 4m0 -4l-4 4M495.5 145.5v2.2M493.9 144.6l4 4m0 -4l-4 4M497.4 146.4v2.2M495.7 145.5l4 4m0 -4l-4 4M496.7 145.3v2.2M495.8 144.4l4 4m0 -4l-4 4M498.3 145v2.2M496.9 144.1l4 4m0 -4l-4 4M498.9 145.5v2.2M496.5 144.6l4 4m0 -4l-4 4M500.8 146.4v2.2M498.4 145.5l4 4m0 -4l-4 4M500 146.4v2.2M498.5 145.5l4 4m0 -4l-4 4M501.8 145v2.2M499.6 144.1l4 4m0 -4l-4 4M502.4 145.2v2.2M500 144.3l4 4m0 -4l-4 4M503.6 146v2.2M501.7 145.1l4 4m0 -4l-4 4M504.1 146.2v2.2M501.9 145.3l4 4m0 -4l-4 4M505.7 145.4v2.2M503.2 144.5l4 4m0 -4l-4 4M505.1 145.1v2.2M503.3 144.2l4 4m0 -4l-4 4M506.6 145.2v2.2M505.7 144.3l4 4m0 -4l-4 4M507 144.9v2.2M504.6 144l4 4m0 -4l-4 4M508.4 144.1v2.2M506.8 143.2l4 4m0 -4l-4 4M508.8 144.2v2.2M506.3 143.3l4 4m0 -4l-4 4M510.7 143.5v2.2M508.1 142.6l4 4m0 -4l-4 4M509.9 144.6v2.2M508.4 143.7l4 4m0 -4l-4 4M511.8 144v2.2M509.7 143.1l4 4m0 -4l-4 4M511.9 145v2.2M509.6 144.1l4 4m0 -4l-4 4M513.3 143.9v2.2M511.1 143l4 4m0 -4l-4 4M513.6 144.8v2.2M511.3 143.9l4 4m0 -4l-4 4M514.5 145v2.2M512.8 144.1l4 4m0 -4l-4 4M514.9 144.3v2.2M512.7 143.4l4 4m0 -4l-4 4M516.4 144.1v2.2M514.2 143.2l4 4m0 -4l-4 4M516.1 143.3v2.2M514.5 142.4l4 4m0 -4l-4 4M518.2 143v2.2M516.2 142.1l4 4m0 -4l-4 4M518.5 143.7v2.2M516.2 142.8l4 4m0 -4l-4 4M519.5 143.1v2.2M517.4 142.2l4 4m0 -4l-4 4M519.8 143.2v2.2M517.6 142.3l4 4m0 -4l-4 4M521.6 142.7v2.2M519.3 141.8l4 4m0 -4l-4 4M521.3 142.4v2.2M519.6 141.5l4 4m0 -4l-4 4M561.7 134.6v3.6M559.2 134.4l4 4m0 -4l-4 4M561.1 133.5v3.6M559.3 133.3l4 4m0 -4l-4 4M562.6 132.5v3.6M561 132.3l4 4m0 -4l-4 4M562.6 131.6v3.6M560.4 131.4l4 4m0 -4l-4 4M564.7 133.5v3.6M562.7 133.3l4 4m0 -4l-4 4M564.5 132v3.6M562.1 131.8l4 4m0 -4l-4 4M566.2 132v3.6M563.9 131.8l4 4m0 -4l-4 4M566.2 133.3v3.6M564.3 133.1l4 4m0 -4l-4 4M567.1 133.7v3.6M565.7 133.5l4 4m0 -4l-4 4M567.8 133.4v3.6M565.8 133.2l4 4m0 -4l-4 4M569.4 132.6v3.6M567.4 132.4l4 4m0 -4l-4 4M569.5 134.6v3.6M567.3 134.4l4 4m0 -4l-4 4M570.8 132.3v3.6M568.6 132.1l4 4m0 -4l-4 4M570.9 131.8v3.6M569.6 131.6l4 4m0 -4l-4 4M572.1 133.2v3.6M570.1 133l4 4m0 -4l-4 4M572.3 132.5v3.6M570.6 132.3l4 4m0 -4l-4 4M574.1 130.7v3.6M572.7 130.5l4 4m0 -4l-4 4M574.5 133.5v3.6M572.1 133.3l4 4m0 -4l-4 4M576.2 132.7v3.6M573.5 132.5l4 4m0 -4l-4 4M575 132.1v3.6M574 131.9l4 4m0 -4l-4 4M577.3 132.3v3.6M575.4 132.1l4 4m0 -4l-4 4M577.3 133.7v3.6M575.8 133.5l4 4m0 -4l-4 4M579.1 133.4v3.6M576.7 133.2l4 4m0 -4l-4 4M579.4 133.7v3.6M576.8 133.5l4 4m0 -4l-4 4M580.9 131.4v3.6M578.7 131.2l4 4m0 -4l-4 4M580.5 133.5v3.6M579.2 133.3l4 4m0 -4l-4 4M582.3 133.5v3.6M580 133.3l4 4m0 -4l-4 4M582.1 134.7v3.6M580.2 134.5l4 4m0 -4l-4 4M583.4 132.5v3.6M582 132.3l4 4m0 -4l-4 4M583.8 132.6v3.6M581.1 132.4l4 4m0 -4l-4 4M585.6 133.7v3.6M583.3 133.5l4 4m0 -4l-4 4M584.8 134.8v3.6M583.2 134.6l4 4m0 -4l-4 4M586.8 132.1v3.6M584.6 131.9l4 4m0 -4l-4 4M586.9 133.2v3.6M585.1 133l4 4m0 -4l-4 4M588.7 133.9v3.6M586.4 133.7l4 4m0 -4l-4 4M588.2 133.5v3.6M586.5 133.3l4 4m0 -4l-4 4M590.5 132.2v3.6M588.4 132l4 4m0 -4l-4 4M589.9 132.7v3.6M587.7 132.5l4 4m0 -4l-4 4M591.6 132.9v3.6M590.1 132.7l4 4m0 -4l-4 4M591.2 134.9v3.6M589.6 134.7l4 4m0 -4l-4 4M593.4 132.4v3.6M590.9 132.2l4 4m0 -4l-4 4M592.9 132.7v3.6M590.9 132.5l4 4m0 -4l-4 4M594.8 134.3v3.6M592.5 134.1l4 4m0 -4l-4 4M595.1 133v3.6M592.7 132.8l4 4m0 -4l-4 4M596.8 133.9v3.6M594.1 133.7l4 4m0 -4l-4 4M596.7 132.8v3.6M594.4 132.6l4 4m0 -4l-4 4M598.4 132.2v3.6M596.2 132l4 4m0 -4l-4 4M598.2 133.5v3.6M596.2 133.3l4 4m0 -4l-4 4M599.1 135.9v3.6M598 135.7l4 4m0 -4l-4 4M599.5 134.2v3.6M597.6 134l4 4m0 -4l-4 4M601 134.1v3.6M599.5 133.9l4 4m0 -4l-4 4M601.9 134.7v3.6M598.7 134.5l4 4m0 -4l-4 4M603.1 133.8v3.6M600.9 133.6l4 4m0 -4l-4 4M602.8 135.9v3.6M600.2 135.7l4 4m0 -4l-4 4M604.2 132.2v3.6M602.6 132l4 4m0 -4l-4 4M604.7 134.1v3.6M602.5 133.9l4 4m0 -4l-4 4M606 133.1v3.6M604 132.9l4 4m0 -4l-4 4M606.1 133.9v3.6M603.9 133.7l4 4m0 -4l-4 4M606.6 134.8v3.6M605.3 134.6l4 4m0 -4l-4 4M607.9 134.9v3.6M605.5 134.7l4 4m0 -4l-4 4M609.6 134.6v3.6M607.5 134.4l4 4m0 -4l-4 4M609.5 136.1v3.6M607.1 135.9l4 4m0 -4l-4 4M611 135v3.6M609.2 134.8l4 4m0 -4l-4 4M610 136v3.6M608.6 135.8l4 4m0 -4l-4 4M611.9 135.9v3.6M610.6 135.7l4 4m0 -4l-4 4M612.5 135.2v3.6M610.8 135l4 4m0 -4l-4 4M614.5 134.8v3.6M612 134.6l4 4m0 -4l-4 4M614.1 135.9v3.6M612.1 135.7l4 4m0 -4l-4 4M615.4 136.5v3.6M613.7 136.3l4 4m0 -4l-4 4M615.6 134.2v3.6M613.5 134l4 4m0 -4l-4 4M617.7 135.5v3.6M615.3 135.3l4 4m0 -4l-4 4M617.2 138.1v3.6M614.6 137.9l4 4m0 -4l-4 4M619.1 137.3v3.6M616.8 137.1l4 4m0 -4l-4 4M618.8 137.6v3.6M617.1 137.4l4 4m0 -4l-4 4M620.5 135.6v3.6M618.8 135.4l4 4m0 -4l-4 4M620.8 136.8v3.6M618.7 136.6l4 4m0 -4l-4 4M621.9 136.7v3.6M620 136.5l4 4m0 -4l-4 4M622 137.1v3.6M619.8 136.9l4 4m0 -4l-4 4M623.8 138.8v3.6M622 138.6l4 4m0 -4l-4 4M623.4 138.4v3.6M622.2 138.2l4 4m0 -4l-4 4" stroke="#6BA9E2" stroke-width="0.85" fill="none" opacity="1"/>
<path d="M572 124V146M570 130l4 4m0 -4l-4 4M573 128V147M571 132.5l4 4m0 -4l-4 4M574 130V148M572 134l4 4m0 -4l-4 4M299.4 176V190M297.4 178l4 4m0 -4l-4 4M230.6 160V181M228.6 165.5l4 4m0 -4l-4 4M560 130V151M558 135.5l4 4m0 -4l-4 4" stroke="#407BD5" stroke-width="0.85" fill="none" opacity="0.8"/>
<path d="M414.6 146V186.5M412.7 156.2l3.8 3.8m0 -3.8l-3.8 3.8M412.7 174.5l3.8 3.8m0 -3.8l-3.8 3.8M430 147V173.7M428.1 153.1l3.8 3.8m0 -3.8l-3.8 3.8M428.1 165.1l3.8 3.8m0 -3.8l-3.8 3.8M566 121.7V140M564.1 125.3l3.8 3.8m0 -3.8l-3.8 3.8M564.1 133.5l3.8 3.8m0 -3.8l-3.8 3.8M593 123V151.7M591.1 129.7l3.8 3.8m0 -3.8l-3.8 3.8M591.1 142.6l3.8 3.8m0 -3.8l-3.8 3.8M594 126V150M592.1 131.3l3.8 3.8m0 -3.8l-3.8 3.8M592.1 142.1l3.8 3.8m0 -3.8l-3.8 3.8M602 128V146M600.1 131.5l3.8 3.8m0 -3.8l-3.8 3.8M600.1 139.6l3.8 3.8m0 -3.8l-3.8 3.8M584 122V152M582.1 129.1l3.8 3.8m0 -3.8l-3.8 3.8M582.1 142.6l3.8 3.8m0 -3.8l-3.8 3.8" stroke="#8a66ad" stroke-width="0.85" fill="none" opacity="0.8"/>
</g>
<g clip-path="url(#c2)">
<path d="M81.3 221.3v1.6M79.2 220l4.2 4.2m0 -4.2l-4.2 4.2M96.2 228.7v1.6M94.1 227.4l4.2 4.2m0 -4.2l-4.2 4.2M99.2 231v1.6M97.1 229.7l4.2 4.2m0 -4.2l-4.2 4.2M125.8 252.7v1.2M123.7 250.7l4.2 4.2m0 -4.2l-4.2 4.2M129.2 255.5v1.2M127.1 254.2l4.2 4.2m0 -4.2l-4.2 4.2M132.6 257.2v1.2M130.5 256.3l4.2 4.2m0 -4.2l-4.2 4.2M136 258.3v1.2M133.9 257.5l4.2 4.2m0 -4.2l-4.2 4.2M139.4 260.1v1.2M137.3 258.4l4.2 4.2m0 -4.2l-4.2 4.2M142.8 260.7v1.2M140.7 260l4.2 4.2m0 -4.2l-4.2 4.2M146.2 261.1v1.2M144.1 260.8l4.2 4.2m0 -4.2l-4.2 4.2M149.6 261.8v1.2M147.5 261.1l4.2 4.2m0 -4.2l-4.2 4.2M153 262.2v1.2M150.9 260.7l4.2 4.2m0 -4.2l-4.2 4.2M156.4 263.6v1.2M154.3 262.3l4.2 4.2m0 -4.2l-4.2 4.2M159.8 264.8v1.2M157.7 263.9l4.2 4.2m0 -4.2l-4.2 4.2M182.6 270v1.2M180.5 267.5l4.2 4.2m0 -4.2l-4.2 4.2M187.3 271.3v1.2M185.2 270.3l4.2 4.2m0 -4.2l-4.2 4.2M191.9 270.4v1.2M189.8 270.3l4.2 4.2m0 -4.2l-4.2 4.2M197.7 271.3v1.2M195.6 269.4l4.2 4.2m0 -4.2l-4.2 4.2M207.4 269.5v1.2M205.3 268.6l4.2 4.2m0 -4.2l-4.2 4.2M210.6 269.7v1.2M208.5 269.8l4.2 4.2m0 -4.2l-4.2 4.2M213.8 269.9v1.2M211.7 269.3l4.2 4.2m0 -4.2l-4.2 4.2M217 270.3v1.2M214.9 268.8l4.2 4.2m0 -4.2l-4.2 4.2M220.2 270.8v1.2M218.1 269.1l4.2 4.2m0 -4.2l-4.2 4.2M223.4 271.7v1.2M221.3 270l4.2 4.2m0 -4.2l-4.2 4.2M226.6 272.3v1.2M224.5 270.7l4.2 4.2m0 -4.2l-4.2 4.2M229.8 271.9v1.2M227.7 271.1l4.2 4.2m0 -4.2l-4.2 4.2M233 272v1.2M230.9 270.2l4.2 4.2m0 -4.2l-4.2 4.2M236.2 273.1v1.2M234.1 271.2l4.2 4.2m0 -4.2l-4.2 4.2M239.4 272.4v1.2M237.3 271l4.2 4.2m0 -4.2l-4.2 4.2M242.6 271.9v1.2M240.5 271.1l4.2 4.2m0 -4.2l-4.2 4.2M245.8 272.1v1.2M243.7 271.4l4.2 4.2m0 -4.2l-4.2 4.2M249 273.9v1.2M246.9 272.3l4.2 4.2m0 -4.2l-4.2 4.2M252.2 273.2v1.2M250.1 271.3l4.2 4.2m0 -4.2l-4.2 4.2M255.4 273.7v1.2M253.3 272.4l4.2 4.2m0 -4.2l-4.2 4.2M258.6 274v1.2M256.5 272.1l4.2 4.2m0 -4.2l-4.2 4.2M261.8 275.4v1.2M259.7 274.1l4.2 4.2m0 -4.2l-4.2 4.2M264.5 276.2v1.2M262.4 274.2l4.2 4.2m0 -4.2l-4.2 4.2M267.1 276.4v1.2M265 275l4.2 4.2m0 -4.2l-4.2 4.2M269.7 277.9v1.2M267.6 276.2l4.2 4.2m0 -4.2l-4.2 4.2M272.3 277v1.2M270.2 275.1l4.2 4.2m0 -4.2l-4.2 4.2M274.9 275.5v1.2M272.8 275.8l4.2 4.2m0 -4.2l-4.2 4.2M277.5 278.1v1.2M275.4 275.1l4.2 4.2m0 -4.2l-4.2 4.2M280.1 278v1.2M278 276.2l4.2 4.2m0 -4.2l-4.2 4.2M282.7 278v1.2M280.6 276.8l4.2 4.2m0 -4.2l-4.2 4.2M285.3 278.8v1.2M283.2 276.8l4.2 4.2m0 -4.2l-4.2 4.2M287.9 279.1v1.2M285.8 277.8l4.2 4.2m0 -4.2l-4.2 4.2M290.5 279.6v1.2M288.4 278.1l4.2 4.2m0 -4.2l-4.2 4.2M293.1 279.7v1.2M291 278.4l4.2 4.2m0 -4.2l-4.2 4.2M295.7 279.8v1.2M293.6 278.6l4.2 4.2m0 -4.2l-4.2 4.2M298.3 279.6v1.2M296.2 277.9l4.2 4.2m0 -4.2l-4.2 4.2M300.9 279v1.2M298.8 278.5l4.2 4.2m0 -4.2l-4.2 4.2M303.5 280.6v1.2M301.4 278l4.2 4.2m0 -4.2l-4.2 4.2M306.1 280.3v1.2M304 278.5l4.2 4.2m0 -4.2l-4.2 4.2M308.7 281v1.2M306.6 278.2l4.2 4.2m0 -4.2l-4.2 4.2M311.3 280.8v1.2M309.2 279.2l4.2 4.2m0 -4.2l-4.2 4.2M313.9 282.1v1.2M311.8 279.1l4.2 4.2m0 -4.2l-4.2 4.2M316.5 282.1v1.2M314.4 281.1l4.2 4.2m0 -4.2l-4.2 4.2M319.1 281.9v1.2M317 281.5l4.2 4.2m0 -4.2l-4.2 4.2M321.7 282.1v1.2M319.6 280.6l4.2 4.2m0 -4.2l-4.2 4.2M324.3 281.8v1.2M322.2 280.5l4.2 4.2m0 -4.2l-4.2 4.2M326.9 281.1v1.2M324.8 279.6l4.2 4.2m0 -4.2l-4.2 4.2M329.5 281.3v1.2M327.4 278.6l4.2 4.2m0 -4.2l-4.2 4.2M332.8 277.1l4 4m0 -4l-4 4M335.9 277.2l4 4m0 -4l-4 4M336.8 277.2l4 4m0 -4l-4 4M338.3 277.3l4 4m0 -4l-4 4M343 277.3l4 4m0 -4l-4 4M345.1 276.9l4 4m0 -4l-4 4M347.9 276.4l4 4m0 -4l-4 4M349.5 276.6l4 4m0 -4l-4 4M351.1 276.7l4 4m0 -4l-4 4M354.3 276l4 4m0 -4l-4 4M355.7 276.4l4 4m0 -4l-4 4M359.1 275.3l4 4m0 -4l-4 4M361.4 277.1l4 4m0 -4l-4 4M362.4 277.6l4 4m0 -4l-4 4M366.5 275.9l4 4m0 -4l-4 4M368.2 275.8l4 4m0 -4l-4 4M370 275.2l4 4m0 -4l-4 4M375.3 275.2l4 4m0 -4l-4 4M378.5 273.9l4 4m0 -4l-4 4M384.1 272.7l4 4m0 -4l-4 4M386.3 272.6l4 4m0 -4l-4 4M387.9 271.6l4 4m0 -4l-4 4M389.8 271.4l4 4m0 -4l-4 4M394.4 270.3l4 4m0 -4l-4 4M396.7 269l4 4m0 -4l-4 4M397.5 269l4 4m0 -4l-4 4M399.3 268.1l4 4m0 -4l-4 4M400.2 266.6l4 4m0 -4l-4 4M404.2 266.7l4 4m0 -4l-4 4M407.4 265.9l4 4m0 -4l-4 4M409.6 264.7l4 4m0 -4l-4 4M413.6 262.7l4 4m0 -4l-4 4M418.7 261.9l4 4m0 -4l-4 4M420.1 259.8l4 4m0 -4l-4 4M422.4 258.5l4 4m0 -4l-4 4M424.7 257.5l4 4m0 -4l-4 4M426.7 257.1l4 4m0 -4l-4 4M427.9 255.9l4 4m0 -4l-4 4M429.9 255.3l4 4m0 -4l-4 4M434.5 253.1l4 4m0 -4l-4 4M437.9 252.6l4 4m0 -4l-4 4M438.6 250.9l4 4m0 -4l-4 4M442.9 250.5l4 4m0 -4l-4 4M444.1 249.6l4 4m0 -4l-4 4M450.6 246.8l4 4m0 -4l-4 4M452.8 246.2l4 4m0 -4l-4 4M455.5 244.3l4 4m0 -4l-4 4M456.7 243.9l4 4m0 -4l-4 4M458.6 243.4l4 4m0 -4l-4 4M462.8 241.5l4 4m0 -4l-4 4M464.8 240.8l4 4m0 -4l-4 4M467 240.6l4 4m0 -4l-4 4M468.3 239.4l4 4m0 -4l-4 4M469.8 239.2l4 4m0 -4l-4 4M471.5 239.1l4 4m0 -4l-4 4M474.4 236.8l4 4m0 -4l-4 4M477.6 236.5l4 4m0 -4l-4 4M480 235.1l4 4m0 -4l-4 4M484.2 234l4 4m0 -4l-4 4M486 232.6l4 4m0 -4l-4 4M488.5 231.7l4 4m0 -4l-4 4M490.6 231l4 4m0 -4l-4 4M491.9 229.2l4 4m0 -4l-4 4M494.8 229.3l4 4m0 -4l-4 4M495.4 229.8l4 4m0 -4l-4 4M503.3 226.7l4 4m0 -4l-4 4M504.8 225.5l4 4m0 -4l-4 4M506.7 225.2l4 4m0 -4l-4 4M508.1 224.8l4 4m0 -4l-4 4M511 224.6l4 4m0 -4l-4 4M513.1 223.9l4 4m0 -4l-4 4M514.4 223.2l4 4m0 -4l-4 4M517.4 222.8l4 4m0 -4l-4 4M519.3 223.2l4 4m0 -4l-4 4M520.5 222.9l4 4m0 -4l-4 4M522.1 222.3l4 4m0 -4l-4 4M524.6 221.1l4 4m0 -4l-4 4M525.8 221.2l4 4m0 -4l-4 4M527.2 221.1l4 4m0 -4l-4 4M528.3 221l4 4m0 -4l-4 4M531.1 219.8l4 4m0 -4l-4 4M531.7 219.3l4 4m0 -4l-4 4M533.4 219.2l4 4m0 -4l-4 4M534.7 219l4 4m0 -4l-4 4M537.2 218.2l4 4m0 -4l-4 4M538.5 218.9l4 4m0 -4l-4 4M539.8 218.6l4 4m0 -4l-4 4M541.6 218.2l4 4m0 -4l-4 4M542.8 218.6l4 4m0 -4l-4 4M545.2 216.1l4 4m0 -4l-4 4M546.7 216l4 4m0 -4l-4 4M548.5 214.9l4 4m0 -4l-4 4M549.5 213.5l4 4m0 -4l-4 4M551.9 213.3l4 4m0 -4l-4 4M553.6 213.5l4 4m0 -4l-4 4M554.5 213.1l4 4m0 -4l-4 4M555.8 213.1l4 4m0 -4l-4 4M557 211.8l4 4m0 -4l-4 4M560.8 210.8l4 4m0 -4l-4 4M562.7 210.2l4 4m0 -4l-4 4M567.4 209.8l4 4m0 -4l-4 4M572.4 209.1l4 4m0 -4l-4 4M573.7 209.8l4 4m0 -4l-4 4M576.1 209.7l4 4m0 -4l-4 4M576.8 210.1l4 4m0 -4l-4 4M578.7 209l4 4m0 -4l-4 4M579.9 209.9l4 4m0 -4l-4 4M581.4 209.3l4 4m0 -4l-4 4M584.8 209.2l4 4m0 -4l-4 4M590.1 211l4 4m0 -4l-4 4M590.8 210.9l4 4m0 -4l-4 4M593 211.1l4 4m0 -4l-4 4M594.1 211.2l4 4m0 -4l-4 4M595.6 211.1l4 4m0 -4l-4 4M598 211.2l4 4m0 -4l-4 4M600.9 211.3l4 4m0 -4l-4 4M602 211.7l4 4m0 -4l-4 4M605.5 213.7l4 4m0 -4l-4 4M609.6 213.9l4 4m0 -4l-4 4M612.2 214.8l4 4m0 -4l-4 4M613.4 215.3l4 4m0 -4l-4 4M615.3 214.6l4 4m0 -4l-4 4M618.5 216.4l4 4m0 -4l-4 4M622.2 217.3l4 4m0 -4l-4 4M544 221.8l4 4m0 -4l-4 4M546.5 221.2l4 4m0 -4l-4 4M542.5 220.4l4 4m0 -4l-4 4M472 245.5l4 4m0 -4l-4 4M475.5 244.2l4 4m0 -4l-4 4" stroke="#61C853" stroke-width="0.85" fill="none" opacity="0.85"/>
<path d="M332.1 278.3l3.7 3.7m0 -3.7l-3.7 3.7M333.9 278.2l3.7 3.7m0 -3.7l-3.7 3.7M335.2 278.4l3.7 3.7m0 -3.7l-3.7 3.7M337.2 278.9l3.7 3.7m0 -3.7l-3.7 3.7M339.3 279.1l3.7 3.7m0 -3.7l-3.7 3.7M345.3 277.9l3.7 3.7m0 -3.7l-3.7 3.7M346.8 278.4l3.7 3.7m0 -3.7l-3.7 3.7M350.1 277.7l3.7 3.7m0 -3.7l-3.7 3.7M352.4 278.2l3.7 3.7m0 -3.7l-3.7 3.7M356.7 278.1l3.7 3.7m0 -3.7l-3.7 3.7M357.9 277.8l3.7 3.7m0 -3.7l-3.7 3.7M360.1 277.8l3.7 3.7m0 -3.7l-3.7 3.7M362.5 277.5l3.7 3.7m0 -3.7l-3.7 3.7M364.2 277l3.7 3.7m0 -3.7l-3.7 3.7M366.2 277.2l3.7 3.7m0 -3.7l-3.7 3.7M367.2 277.1l3.7 3.7m0 -3.7l-3.7 3.7M370.1 276.9l3.7 3.7m0 -3.7l-3.7 3.7M371.7 276.7l3.7 3.7m0 -3.7l-3.7 3.7M375.6 275.9l3.7 3.7m0 -3.7l-3.7 3.7M379.4 275l3.7 3.7m0 -3.7l-3.7 3.7M384.6 274.1l3.7 3.7m0 -3.7l-3.7 3.7M388.6 273.6l3.7 3.7m0 -3.7l-3.7 3.7M389.8 272.8l3.7 3.7m0 -3.7l-3.7 3.7M391.6 272l3.7 3.7m0 -3.7l-3.7 3.7M393.1 271.7l3.7 3.7m0 -3.7l-3.7 3.7M394.5 271.2l3.7 3.7m0 -3.7l-3.7 3.7M396.3 271.2l3.7 3.7m0 -3.7l-3.7 3.7M397.9 270.4l3.7 3.7m0 -3.7l-3.7 3.7M399.5 269.4l3.7 3.7m0 -3.7l-3.7 3.7M401 269.2l3.7 3.7m0 -3.7l-3.7 3.7M404.3 268.1l3.7 3.7m0 -3.7l-3.7 3.7M405.2 267.3l3.7 3.7m0 -3.7l-3.7 3.7M409.5 265.7l3.7 3.7m0 -3.7l-3.7 3.7M410.9 265.4l3.7 3.7m0 -3.7l-3.7 3.7M412.7 265.1l3.7 3.7m0 -3.7l-3.7 3.7M413.7 263.9l3.7 3.7m0 -3.7l-3.7 3.7M417.2 262.3l3.7 3.7m0 -3.7l-3.7 3.7M420.2 261.5l3.7 3.7m0 -3.7l-3.7 3.7M422.7 260.8l3.7 3.7m0 -3.7l-3.7 3.7M424.8 259.6l3.7 3.7m0 -3.7l-3.7 3.7M426 258.3l3.7 3.7m0 -3.7l-3.7 3.7M429 257.1l3.7 3.7m0 -3.7l-3.7 3.7M430.1 257.1l3.7 3.7m0 -3.7l-3.7 3.7M431.3 255.8l3.7 3.7m0 -3.7l-3.7 3.7M432.9 254.8l3.7 3.7m0 -3.7l-3.7 3.7M434.8 255.1l3.7 3.7m0 -3.7l-3.7 3.7M436.3 254.4l3.7 3.7m0 -3.7l-3.7 3.7M438 252.5l3.7 3.7m0 -3.7l-3.7 3.7M439.9 252.9l3.7 3.7m0 -3.7l-3.7 3.7M441.2 252.4l3.7 3.7m0 -3.7l-3.7 3.7M444 250.4l3.7 3.7m0 -3.7l-3.7 3.7M447.7 249.5l3.7 3.7m0 -3.7l-3.7 3.7M451 248.4l3.7 3.7m0 -3.7l-3.7 3.7M452.7 247.5l3.7 3.7m0 -3.7l-3.7 3.7M453.4 246.8l3.7 3.7m0 -3.7l-3.7 3.7M455.3 245.7l3.7 3.7m0 -3.7l-3.7 3.7M457.4 245.8l3.7 3.7m0 -3.7l-3.7 3.7M460.1 244.5l3.7 3.7m0 -3.7l-3.7 3.7M462.9 243.6l3.7 3.7m0 -3.7l-3.7 3.7M464.7 242.6l3.7 3.7m0 -3.7l-3.7 3.7M466.8 242l3.7 3.7m0 -3.7l-3.7 3.7M468.6 240.8l3.7 3.7m0 -3.7l-3.7 3.7M469.7 240.4l3.7 3.7m0 -3.7l-3.7 3.7M471.7 239.5l3.7 3.7m0 -3.7l-3.7 3.7M472.4 239.3l3.7 3.7m0 -3.7l-3.7 3.7M474.7 238.7l3.7 3.7m0 -3.7l-3.7 3.7M475.3 238.5l3.7 3.7m0 -3.7l-3.7 3.7M479.3 236.8l3.7 3.7m0 -3.7l-3.7 3.7M482 236.5l3.7 3.7m0 -3.7l-3.7 3.7M482.3 235.4l3.7 3.7m0 -3.7l-3.7 3.7M484.7 235l3.7 3.7m0 -3.7l-3.7 3.7M489.1 232.9l3.7 3.7m0 -3.7l-3.7 3.7M490.5 232.7l3.7 3.7m0 -3.7l-3.7 3.7M491.8 231.7l3.7 3.7m0 -3.7l-3.7 3.7M493.4 231.2l3.7 3.7m0 -3.7l-3.7 3.7M495.1 231.1l3.7 3.7m0 -3.7l-3.7 3.7M496.8 230l3.7 3.7m0 -3.7l-3.7 3.7M498.7 229.7l3.7 3.7m0 -3.7l-3.7 3.7M499.8 228.9l3.7 3.7m0 -3.7l-3.7 3.7M502 228.7l3.7 3.7m0 -3.7l-3.7 3.7M503.1 227.9l3.7 3.7m0 -3.7l-3.7 3.7M505 227.2l3.7 3.7m0 -3.7l-3.7 3.7M506.3 227l3.7 3.7m0 -3.7l-3.7 3.7M507.9 226l3.7 3.7m0 -3.7l-3.7 3.7M510.9 225.3l3.7 3.7m0 -3.7l-3.7 3.7M513.9 225.4l3.7 3.7m0 -3.7l-3.7 3.7M514.2 224.7l3.7 3.7m0 -3.7l-3.7 3.7M516.1 224.7l3.7 3.7m0 -3.7l-3.7 3.7M517.9 223.8l3.7 3.7m0 -3.7l-3.7 3.7M559.5 212.1l3.7 3.7m0 -3.7l-3.7 3.7M562.3 212.3l3.7 3.7m0 -3.7l-3.7 3.7M566.2 211.8l3.7 3.7m0 -3.7l-3.7 3.7M567.5 211.8l3.7 3.7m0 -3.7l-3.7 3.7M569.2 211.2l3.7 3.7m0 -3.7l-3.7 3.7M570.3 211.5l3.7 3.7m0 -3.7l-3.7 3.7M577.5 211.2l3.7 3.7m0 -3.7l-3.7 3.7M578.5 211.3l3.7 3.7m0 -3.7l-3.7 3.7M580 211.6l3.7 3.7m0 -3.7l-3.7 3.7M581.5 211.5l3.7 3.7m0 -3.7l-3.7 3.7M583.1 211.8l3.7 3.7m0 -3.7l-3.7 3.7M586.9 211.8l3.7 3.7m0 -3.7l-3.7 3.7M587.7 212.6l3.7 3.7m0 -3.7l-3.7 3.7M589.9 212l3.7 3.7m0 -3.7l-3.7 3.7M591.5 212.5l3.7 3.7m0 -3.7l-3.7 3.7M593.1 212.4l3.7 3.7m0 -3.7l-3.7 3.7M593.9 212.4l3.7 3.7m0 -3.7l-3.7 3.7M598.4 213l3.7 3.7m0 -3.7l-3.7 3.7M599.5 213.1l3.7 3.7m0 -3.7l-3.7 3.7M601.2 213.7l3.7 3.7m0 -3.7l-3.7 3.7M604.3 213.8l3.7 3.7m0 -3.7l-3.7 3.7M605.8 214.5l3.7 3.7m0 -3.7l-3.7 3.7M607.4 214.7l3.7 3.7m0 -3.7l-3.7 3.7M610.9 215.8l3.7 3.7m0 -3.7l-3.7 3.7M614.1 216.7l3.7 3.7m0 -3.7l-3.7 3.7M615.3 217.4l3.7 3.7m0 -3.7l-3.7 3.7M616.6 217.3l3.7 3.7m0 -3.7l-3.7 3.7M618.4 218.2l3.7 3.7m0 -3.7l-3.7 3.7" stroke="#6BA9E2" stroke-width="0.85" fill="none" opacity="0.85"/>
<path d="M79 219.9v1.6M76.9 218.6l4.2 4.2m0 -4.2l-4.2 4.2M86.9 222.2v1.6M84.8 220.9l4.2 4.2m0 -4.2l-4.2 4.2M93.4 226.8v1.6M91.3 225.5l4.2 4.2m0 -4.2l-4.2 4.2M112.4 242.1v1.6M110.3 240.8l4.2 4.2m0 -4.2l-4.2 4.2M115.4 244.9v1.6M113.3 243.6l4.2 4.2m0 -4.2l-4.2 4.2M123.7 251.5l4 4m0 -4l-4 4M127.8 254.4l4 4m0 -4l-4 4M134.1 257l4 4m0 -4l-4 4M137.1 257.7l4 4m0 -4l-4 4M147.5 260.2l4 4m0 -4l-4 4M180.8 267.3l4 4m0 -4l-4 4M185.4 269l4 4m0 -4l-4 4M189.5 269.9l4 4m0 -4l-4 4M196.3 268.4l4 4m0 -4l-4 4M205 269.5l4 4m0 -4l-4 4M212.1 269.4l4 4m0 -4l-4 4M225.3 271.7l4 4m0 -4l-4 4M247 271.3l4 4m0 -4l-4 4M250.3 270.7l4 4m0 -4l-4 4M259.5 272.9l4 4m0 -4l-4 4M262.9 273.6l4 4m0 -4l-4 4M267.7 276.2l4 4m0 -4l-4 4M270.5 275.7l4 4m0 -4l-4 4M277.9 278.5l4 4m0 -4l-4 4M280.3 277.1l4 4m0 -4l-4 4M283.6 277.4l4 4m0 -4l-4 4M285.7 279.1l4 4m0 -4l-4 4M288.9 278.4l4 4m0 -4l-4 4M291.2 277.7l4 4m0 -4l-4 4M294.2 278.8l4 4m0 -4l-4 4M299.4 279.2l4 4m0 -4l-4 4M301.1 279.6l4 4m0 -4l-4 4M303.9 279l4 4m0 -4l-4 4M306.2 278.8l4 4m0 -4l-4 4M309.5 279l4 4m0 -4l-4 4M311.4 280.2l4 4m0 -4l-4 4M317.3 280.1l4 4m0 -4l-4 4M321.9 280.1l4 4m0 -4l-4 4M327.2 279.1l4 4m0 -4l-4 4M335.6 278.2l3.7 3.7m0 -3.7l-3.7 3.7M337.3 278.8l3.7 3.7m0 -3.7l-3.7 3.7M338.4 278.4l3.7 3.7m0 -3.7l-3.7 3.7M341.9 278.7l3.7 3.7m0 -3.7l-3.7 3.7M347 278l3.7 3.7m0 -3.7l-3.7 3.7M348.5 278.4l3.7 3.7m0 -3.7l-3.7 3.7M351.3 278.3l3.7 3.7m0 -3.7l-3.7 3.7M359.8 277.7l3.7 3.7m0 -3.7l-3.7 3.7M361.2 277.5l3.7 3.7m0 -3.7l-3.7 3.7M364.7 277.2l3.7 3.7m0 -3.7l-3.7 3.7M366.1 276.8l3.7 3.7m0 -3.7l-3.7 3.7M371.8 276.6l3.7 3.7m0 -3.7l-3.7 3.7M374 276.2l3.7 3.7m0 -3.7l-3.7 3.7M378.5 275.4l3.7 3.7m0 -3.7l-3.7 3.7M380.4 275.4l3.7 3.7m0 -3.7l-3.7 3.7M386.6 273.4l3.7 3.7m0 -3.7l-3.7 3.7M388.6 273.4l3.7 3.7m0 -3.7l-3.7 3.7M389.9 272.8l3.7 3.7m0 -3.7l-3.7 3.7M392.1 272.7l3.7 3.7m0 -3.7l-3.7 3.7M395.3 271.5l3.7 3.7m0 -3.7l-3.7 3.7M396.3 271.2l3.7 3.7m0 -3.7l-3.7 3.7M402.5 268.7l3.7 3.7m0 -3.7l-3.7 3.7M404.6 267.7l3.7 3.7m0 -3.7l-3.7 3.7M408.1 266.5l3.7 3.7m0 -3.7l-3.7 3.7M409.1 266l3.7 3.7m0 -3.7l-3.7 3.7M410.5 265.2l3.7 3.7m0 -3.7l-3.7 3.7M412.8 264.9l3.7 3.7m0 -3.7l-3.7 3.7M413.8 264.2l3.7 3.7m0 -3.7l-3.7 3.7M414.8 263.4l3.7 3.7m0 -3.7l-3.7 3.7M417.7 262.6l3.7 3.7m0 -3.7l-3.7 3.7M422 261.2l3.7 3.7m0 -3.7l-3.7 3.7M423.9 260l3.7 3.7m0 -3.7l-3.7 3.7M430 256.7l3.7 3.7m0 -3.7l-3.7 3.7M431.8 255.5l3.7 3.7m0 -3.7l-3.7 3.7M434.4 254.4l3.7 3.7m0 -3.7l-3.7 3.7M437.9 253.8l3.7 3.7m0 -3.7l-3.7 3.7M440.5 252.4l3.7 3.7m0 -3.7l-3.7 3.7M441 252.1l3.7 3.7m0 -3.7l-3.7 3.7M447 249.8l3.7 3.7m0 -3.7l-3.7 3.7M452.3 247.5l3.7 3.7m0 -3.7l-3.7 3.7M455.3 246.2l3.7 3.7m0 -3.7l-3.7 3.7M458.4 245.1l3.7 3.7m0 -3.7l-3.7 3.7M460.2 244.2l3.7 3.7m0 -3.7l-3.7 3.7M461.5 243.9l3.7 3.7m0 -3.7l-3.7 3.7M465.3 242.1l3.7 3.7m0 -3.7l-3.7 3.7M467.2 241.6l3.7 3.7m0 -3.7l-3.7 3.7M471.8 239.8l3.7 3.7m0 -3.7l-3.7 3.7M474.7 238.9l3.7 3.7m0 -3.7l-3.7 3.7M476.7 238.2l3.7 3.7m0 -3.7l-3.7 3.7M480.1 237.1l3.7 3.7m0 -3.7l-3.7 3.7M485.3 234.5l3.7 3.7m0 -3.7l-3.7 3.7M489.1 233.4l3.7 3.7m0 -3.7l-3.7 3.7M492.2 232.2l3.7 3.7m0 -3.7l-3.7 3.7M495.6 230.6l3.7 3.7m0 -3.7l-3.7 3.7M498.1 229.6l3.7 3.7m0 -3.7l-3.7 3.7M500.4 228.8l3.7 3.7m0 -3.7l-3.7 3.7M503.6 227.5l3.7 3.7m0 -3.7l-3.7 3.7M505.3 227.3l3.7 3.7m0 -3.7l-3.7 3.7M506.7 226.7l3.7 3.7m0 -3.7l-3.7 3.7M510.8 225.7l3.7 3.7m0 -3.7l-3.7 3.7M512 225.5l3.7 3.7m0 -3.7l-3.7 3.7M514.8 224.5l3.7 3.7m0 -3.7l-3.7 3.7M518 223.9l3.7 3.7m0 -3.7l-3.7 3.7M519.6 223.7l3.7 3.7m0 -3.7l-3.7 3.7M521.8 222.9l3.7 3.7m0 -3.7l-3.7 3.7M524.9 222.2l3.7 3.7m0 -3.7l-3.7 3.7M527.7 221.7l3.7 3.7m0 -3.7l-3.7 3.7M537.3 219.9l3.7 3.7m0 -3.7l-3.7 3.7M541 218.5l3.7 3.7m0 -3.7l-3.7 3.7M543.2 218l3.7 3.7m0 -3.7l-3.7 3.7M546.3 216.5l3.7 3.7m0 -3.7l-3.7 3.7M551.5 214.5l3.7 3.7m0 -3.7l-3.7 3.7M555.1 213.7l3.7 3.7m0 -3.7l-3.7 3.7M562.6 212.1l3.7 3.7m0 -3.7l-3.7 3.7M565.9 211.5l3.7 3.7m0 -3.7l-3.7 3.7M567.2 211.8l3.7 3.7m0 -3.7l-3.7 3.7M568.7 211.1l3.7 3.7m0 -3.7l-3.7 3.7M571.4 211.3l3.7 3.7m0 -3.7l-3.7 3.7M573.6 211.3l3.7 3.7m0 -3.7l-3.7 3.7M578.8 211.2l3.7 3.7m0 -3.7l-3.7 3.7M585.7 212.1l3.7 3.7m0 -3.7l-3.7 3.7M586.8 211.7l3.7 3.7m0 -3.7l-3.7 3.7M588.2 211.7l3.7 3.7m0 -3.7l-3.7 3.7M591.3 212.4l3.7 3.7m0 -3.7l-3.7 3.7M594.7 212.3l3.7 3.7m0 -3.7l-3.7 3.7M598 213.1l3.7 3.7m0 -3.7l-3.7 3.7M604.2 214.1l3.7 3.7m0 -3.7l-3.7 3.7M609.7 215.3l3.7 3.7m0 -3.7l-3.7 3.7M610.6 215.6l3.7 3.7m0 -3.7l-3.7 3.7M613.6 216.4l3.7 3.7m0 -3.7l-3.7 3.7M617.4 217.8l3.7 3.7m0 -3.7l-3.7 3.7" stroke="#407BD5" stroke-width="0.85" fill="none" opacity="0.85"/>
<path d="M86.4 219.9v1.6M84.3 218.6l4.2 4.2m0 -4.2l-4.2 4.2M126.8 254.1l4 4m0 -4l-4 4M137.4 259.3l4 4m0 -4l-4 4M153.5 264.5l4 4m0 -4l-4 4M181.2 269l4 4m0 -4l-4 4M218 269.7l4 4m0 -4l-4 4M230.2 271l4 4m0 -4l-4 4M272.9 275.8l4 4m0 -4l-4 4M275.8 275.3l4 4m0 -4l-4 4M285.5 279.2l4 4m0 -4l-4 4M309.9 279.4l4 4m0 -4l-4 4M332.9 279.1l4 4m0 -4l-4 4M418 261.2l4 4m0 -4l-4 4M424.4 258.8l4 4m0 -4l-4 4M496.6 229.3l4 4m0 -4l-4 4M553.2 213.1l4 4m0 -4l-4 4M609.1 215.2l4 4m0 -4l-4 4" stroke="#9A78B8" stroke-width="0.85" fill="none" opacity="0.85"/>
</g>
<g clip-path="url(#c4)">
<path d="M79 412.9v1.6M76.9 411.6l4.2 4.2m0 -4.2l-4.2 4.2M86.9 415.2v1.6M84.8 413.9l4.2 4.2m0 -4.2l-4.2 4.2M93.4 419.2v1.6M91.3 417.9l4.2 4.2m0 -4.2l-4.2 4.2M112.4 434.2v1.6M110.3 432.9l4.2 4.2m0 -4.2l-4.2 4.2M115.4 436.5v1.6M113.3 435.2l4.2 4.2m0 -4.2l-4.2 4.2M123.3 443.8l4 4m0 -4l-4 4M128 445.4l4 4m0 -4l-4 4M130.8 447.9l4 4m0 -4l-4 4M134.1 448.8l4 4m0 -4l-4 4M136.8 449.5l4 4m0 -4l-4 4M141.3 451.9l4 4m0 -4l-4 4M144.2 451.4l4 4m0 -4l-4 4M158 455.2l4 4m0 -4l-4 4M180.6 456.7l4 4m0 -4l-4 4M185.3 459.2l4 4m0 -4l-4 4M190.3 458.9l4 4m0 -4l-4 4M196 458.5l4 4m0 -4l-4 4M205.4 457.6l4 4m0 -4l-4 4M208 456.9l4 4m0 -4l-4 4M211.6 457.6l4 4m0 -4l-4 4M214.6 457.5l4 4m0 -4l-4 4M218.3 457.4l4 4m0 -4l-4 4M230.9 457.9l4 4m0 -4l-4 4M233.7 456.7l4 4m0 -4l-4 4M237.9 456.5l4 4m0 -4l-4 4M240.4 456.6l4 4m0 -4l-4 4M243.6 457.7l4 4m0 -4l-4 4M246.9 457.7l4 4m0 -4l-4 4M250.3 458.7l4 4m0 -4l-4 4M252.8 458.8l4 4m0 -4l-4 4M256.3 460.2l4 4m0 -4l-4 4M259.2 458.2l4 4m0 -4l-4 4M262.2 457.9l4 4m0 -4l-4 4M268.3 458.5l4 4m0 -4l-4 4M273.1 459.3l4 4m0 -4l-4 4M275.5 460.1l4 4m0 -4l-4 4M280.7 460.5l4 4m0 -4l-4 4M283.7 460.8l4 4m0 -4l-4 4M285.2 461.1l4 4m0 -4l-4 4M287.9 461.9l4 4m0 -4l-4 4M290.7 463.4l4 4m0 -4l-4 4M298.9 463l4 4m0 -4l-4 4M304.3 463.2l4 4m0 -4l-4 4M306.9 464.6l4 4m0 -4l-4 4M309.7 464.1l4 4m0 -4l-4 4M312 465.7l4 4m0 -4l-4 4M314.7 465l4 4m0 -4l-4 4M316.6 464.7l4 4m0 -4l-4 4M320 462.8l4 4m0 -4l-4 4M322.4 464.1l4 4m0 -4l-4 4M324.3 462.8l4 4m0 -4l-4 4M327.4 463l4 4m0 -4l-4 4M332.4 461.5l4 4m0 -4l-4 4M343.2 462l4 4m0 -4l-4 4M352.5 461.9l4 4m0 -4l-4 4M354.2 462.2l4 4m0 -4l-4 4M356.1 462.3l4 4m0 -4l-4 4M357.7 461.3l4 4m0 -4l-4 4M358.9 461.3l4 4m0 -4l-4 4M363 459.7l4 4m0 -4l-4 4M370.4 459.6l4 4m0 -4l-4 4M371.7 459.6l4 4m0 -4l-4 4M383.3 457.1l4 4m0 -4l-4 4M388 456.3l4 4m0 -4l-4 4M396.3 454.6l4 4m0 -4l-4 4M402.3 451.7l4 4m0 -4l-4 4M406.2 449.4l4 4m0 -4l-4 4M427.8 440.7l4 4m0 -4l-4 4M432 438.9l4 4m0 -4l-4 4M432.9 439.1l4 4m0 -4l-4 4M438 437l4 4m0 -4l-4 4M444.6 433.5l4 4m0 -4l-4 4M451 431.2l4 4m0 -4l-4 4M452 431.3l4 4m0 -4l-4 4M455.1 430.3l4 4m0 -4l-4 4M458.8 429l4 4m0 -4l-4 4M464.6 425.4l4 4m0 -4l-4 4M468.4 423.7l4 4m0 -4l-4 4M473.1 422.2l4 4m0 -4l-4 4M477.6 419.9l4 4m0 -4l-4 4M480.8 418.4l4 4m0 -4l-4 4M483.9 418l4 4m0 -4l-4 4M503.5 412.6l4 4m0 -4l-4 4M511.3 409.4l4 4m0 -4l-4 4M512.6 409.4l4 4m0 -4l-4 4M514 409.4l4 4m0 -4l-4 4M520 408.4l4 4m0 -4l-4 4M521.1 407.1l4 4m0 -4l-4 4M526.2 407.3l4 4m0 -4l-4 4M527.1 406.9l4 4m0 -4l-4 4M528.9 406.1l4 4m0 -4l-4 4M532.2 406.7l4 4m0 -4l-4 4M538.4 404.7l4 4m0 -4l-4 4M540.5 403.6l4 4m0 -4l-4 4M541.6 402.4l4 4m0 -4l-4 4M545.2 401.5l4 4m0 -4l-4 4M546.2 400.9l4 4m0 -4l-4 4M548.1 400.7l4 4m0 -4l-4 4M551.2 400.8l4 4m0 -4l-4 4M553 400.8l4 4m0 -4l-4 4M554.5 399.5l4 4m0 -4l-4 4M557.9 398.4l4 4m0 -4l-4 4M562.1 398.3l4 4m0 -4l-4 4M567.5 396.5l4 4m0 -4l-4 4M570.9 396.5l4 4m0 -4l-4 4M583.6 397.2l4 4m0 -4l-4 4M599.2 401.1l4 4m0 -4l-4 4M601 402.1l4 4m0 -4l-4 4M607 404.2l4 4m0 -4l-4 4M609.1 405.4l4 4m0 -4l-4 4M613.4 408.5l4 4m0 -4l-4 4M619.7 412.1l4 4m0 -4l-4 4M622.4 414.1l4 4m0 -4l-4 4" stroke="#407BD5" stroke-width="0.9" fill="none" opacity="0.85"/>
<path d="M330.4 461.7l4 4m0 -4l-4 4M334.7 462.3l4 4m0 -4l-4 4M336.8 462l4 4m0 -4l-4 4M338.5 462.4l4 4m0 -4l-4 4M341.4 462.1l4 4m0 -4l-4 4M343.4 461.9l4 4m0 -4l-4 4M345.1 463.3l4 4m0 -4l-4 4M346.3 463.2l4 4m0 -4l-4 4M347.6 462.4l4 4m0 -4l-4 4M349.5 463l4 4m0 -4l-4 4M351 462.9l4 4m0 -4l-4 4M352.5 462.3l4 4m0 -4l-4 4M356 462.1l4 4m0 -4l-4 4M357.9 461l4 4m0 -4l-4 4M359.3 460.8l4 4m0 -4l-4 4M361.5 461.1l4 4m0 -4l-4 4M363.9 460l4 4m0 -4l-4 4M365.4 459.8l4 4m0 -4l-4 4M367.1 460.5l4 4m0 -4l-4 4M367.8 460.5l4 4m0 -4l-4 4M370.5 460.6l4 4m0 -4l-4 4M374.4 460.5l4 4m0 -4l-4 4M374.7 460.1l4 4m0 -4l-4 4M377.1 459.8l4 4m0 -4l-4 4M379.5 459.4l4 4m0 -4l-4 4M380.2 458.9l4 4m0 -4l-4 4M381.9 458.1l4 4m0 -4l-4 4M385.3 457l4 4m0 -4l-4 4M387 457.2l4 4m0 -4l-4 4M388 456.6l4 4m0 -4l-4 4M388.8 456.1l4 4m0 -4l-4 4M391.6 455.2l4 4m0 -4l-4 4M393 455.2l4 4m0 -4l-4 4M394.5 453.8l4 4m0 -4l-4 4M396.1 454.2l4 4m0 -4l-4 4M397.4 453.8l4 4m0 -4l-4 4M399.4 453l4 4m0 -4l-4 4M400.6 452.2l4 4m0 -4l-4 4M404.2 450.5l4 4m0 -4l-4 4M406.8 449.6l4 4m0 -4l-4 4M407.4 448.6l4 4m0 -4l-4 4M409.2 447.8l4 4m0 -4l-4 4M410.7 447.7l4 4m0 -4l-4 4M411.9 446.7l4 4m0 -4l-4 4M416.9 445.6l4 4m0 -4l-4 4M418.3 445.1l4 4m0 -4l-4 4M420.5 445l4 4m0 -4l-4 4M422.9 443.3l4 4m0 -4l-4 4M425 442.4l4 4m0 -4l-4 4M426 441.9l4 4m0 -4l-4 4M428.2 440.6l4 4m0 -4l-4 4M429.8 440.3l4 4m0 -4l-4 4M431 439.7l4 4m0 -4l-4 4M434.5 438.1l4 4m0 -4l-4 4M436.4 437.1l4 4m0 -4l-4 4M437.1 436.8l4 4m0 -4l-4 4M439.1 435.8l4 4m0 -4l-4 4M440.6 435.4l4 4m0 -4l-4 4M442.5 433.9l4 4m0 -4l-4 4M444.1 434.3l4 4m0 -4l-4 4M446.3 432.8l4 4m0 -4l-4 4M446.6 432.9l4 4m0 -4l-4 4M449 432.4l4 4m0 -4l-4 4M450.2 432.4l4 4m0 -4l-4 4M453.8 430.5l4 4m0 -4l-4 4M455.1 429.6l4 4m0 -4l-4 4M456.9 428.9l4 4m0 -4l-4 4M458 428.5l4 4m0 -4l-4 4M463.9 425.8l4 4m0 -4l-4 4M467.9 424.5l4 4m0 -4l-4 4M472 423.4l4 4m0 -4l-4 4M472.3 422.3l4 4m0 -4l-4 4M474.8 421.6l4 4m0 -4l-4 4M476.3 421.4l4 4m0 -4l-4 4M480.7 417.9l4 4m0 -4l-4 4M482.5 418.7l4 4m0 -4l-4 4M484 417.9l4 4m0 -4l-4 4M488.3 416.5l4 4m0 -4l-4 4M489 415.4l4 4m0 -4l-4 4M494.3 414.5l4 4m0 -4l-4 4M495.6 414.5l4 4m0 -4l-4 4M498.4 413.4l4 4m0 -4l-4 4M499.9 412.9l4 4m0 -4l-4 4M502.2 412.8l4 4m0 -4l-4 4M503.1 411.9l4 4m0 -4l-4 4M506.4 410l4 4m0 -4l-4 4M508.1 411.6l4 4m0 -4l-4 4M509.3 410.8l4 4m0 -4l-4 4M511.6 409.7l4 4m0 -4l-4 4M512.8 409.6l4 4m0 -4l-4 4M515 409.3l4 4m0 -4l-4 4M516.4 409l4 4m0 -4l-4 4M518.1 408.4l4 4m0 -4l-4 4M559.1 398.6l4 4m0 -4l-4 4M561.3 398.2l4 4m0 -4l-4 4M562.5 399.1l4 4m0 -4l-4 4M564.2 397.7l4 4m0 -4l-4 4M565.6 396.5l4 4m0 -4l-4 4M567.8 396.5l4 4m0 -4l-4 4M569.7 396.6l4 4m0 -4l-4 4M570.5 396.2l4 4m0 -4l-4 4M572 396.3l4 4m0 -4l-4 4M573.6 396.6l4 4m0 -4l-4 4M576.9 397.5l4 4m0 -4l-4 4M578.7 397.7l4 4m0 -4l-4 4M580 397l4 4m0 -4l-4 4M582 398l4 4m0 -4l-4 4M583.9 398.3l4 4m0 -4l-4 4M585.1 398.6l4 4m0 -4l-4 4M586 398.5l4 4m0 -4l-4 4M588.4 399.2l4 4m0 -4l-4 4M590.6 399.5l4 4m0 -4l-4 4M590.4 398.9l4 4m0 -4l-4 4M592.7 399.3l4 4m0 -4l-4 4M594.8 399l4 4m0 -4l-4 4M595.8 400l4 4m0 -4l-4 4M599.2 401.4l4 4m0 -4l-4 4M600.7 402.1l4 4m0 -4l-4 4M601.9 402.6l4 4m0 -4l-4 4M603.2 403.7l4 4m0 -4l-4 4M605.7 404.3l4 4m0 -4l-4 4M607.4 404.6l4 4m0 -4l-4 4M608.1 405.4l4 4m0 -4l-4 4M610.3 407.3l4 4m0 -4l-4 4M612.1 407.4l4 4m0 -4l-4 4M614.2 408.3l4 4m0 -4l-4 4M615 409.2l4 4m0 -4l-4 4M616.9 410.7l4 4m0 -4l-4 4M617.6 412.4l4 4m0 -4l-4 4M620 413.1l4 4m0 -4l-4 4" stroke="#6BA9E2" stroke-width="0.9" fill="none" opacity="0.85"/>
<path d="M81.3 414.5v1.6M79.2 413.2l4.2 4.2m0 -4.2l-4.2 4.2M96.2 421.5v1.6M94.1 420.2l4.2 4.2m0 -4.2l-4.2 4.2M99.2 423.8v1.6M97.1 422.5l4.2 4.2m0 -4.2l-4.2 4.2M125.8 444.3v1.2M123.7 443.5l4.2 4.2m0 -4.2l-4.2 4.2M129.2 447.7v1.2M127.1 444.8l4.2 4.2m0 -4.2l-4.2 4.2M132.6 449.3v1.2M130.5 446.8l4.2 4.2m0 -4.2l-4.2 4.2M136 450.4v1.2M133.9 448.9l4.2 4.2m0 -4.2l-4.2 4.2M139.4 451.2v1.2M137.3 449.1l4.2 4.2m0 -4.2l-4.2 4.2M142.8 452.1v1.2M140.7 450.2l4.2 4.2m0 -4.2l-4.2 4.2M146.2 453.8v1.2M144.1 451.7l4.2 4.2m0 -4.2l-4.2 4.2M149.6 453.4v1.2M147.5 452l4.2 4.2m0 -4.2l-4.2 4.2M153 453.4v1.2M150.9 452.4l4.2 4.2m0 -4.2l-4.2 4.2M156.4 455.6v1.2M154.3 454.2l4.2 4.2m0 -4.2l-4.2 4.2M159.8 455.7v1.2M157.7 454.4l4.2 4.2m0 -4.2l-4.2 4.2M182.6 458.6v1.2M180.5 457.5l4.2 4.2m0 -4.2l-4.2 4.2M187.3 460.6v1.2M185.2 460.1l4.2 4.2m0 -4.2l-4.2 4.2M191.9 461.4v1.2M189.8 459.9l4.2 4.2m0 -4.2l-4.2 4.2M197.7 461.1v1.2M195.6 458.3l4.2 4.2m0 -4.2l-4.2 4.2M207.4 458.5v1.2M205.3 457.9l4.2 4.2m0 -4.2l-4.2 4.2M210.6 458.2v1.2M208.5 457.5l4.2 4.2m0 -4.2l-4.2 4.2M213.8 458.9v1.2M211.7 457l4.2 4.2m0 -4.2l-4.2 4.2M217 458.2v1.2M214.9 457.9l4.2 4.2m0 -4.2l-4.2 4.2M220.2 458.6v1.2M218.1 457.6l4.2 4.2m0 -4.2l-4.2 4.2M223.4 459.9v1.2M221.3 457.6l4.2 4.2m0 -4.2l-4.2 4.2M226.6 459.6v1.2M224.5 457.7l4.2 4.2m0 -4.2l-4.2 4.2M229.8 459.2v1.2M227.7 457.5l4.2 4.2m0 -4.2l-4.2 4.2M233 459.3v1.2M230.9 457.9l4.2 4.2m0 -4.2l-4.2 4.2M236.2 458.5v1.2M234.1 456.1l4.2 4.2m0 -4.2l-4.2 4.2M239.4 458v1.2M237.3 456.7l4.2 4.2m0 -4.2l-4.2 4.2M242.6 459.2v1.2M240.5 457l4.2 4.2m0 -4.2l-4.2 4.2M245.8 459.3v1.2M243.7 458.5l4.2 4.2m0 -4.2l-4.2 4.2M249 460.3v1.2M246.9 458.3l4.2 4.2m0 -4.2l-4.2 4.2M252.2 459.9v1.2M250.1 457.9l4.2 4.2m0 -4.2l-4.2 4.2M255.4 460.1v1.2M253.3 459.2l4.2 4.2m0 -4.2l-4.2 4.2M258.6 459.7v1.2M256.5 458.1l4.2 4.2m0 -4.2l-4.2 4.2M261.8 460.6v1.2M259.7 459l4.2 4.2m0 -4.2l-4.2 4.2M264.5 460.4v1.2M262.4 458.9l4.2 4.2m0 -4.2l-4.2 4.2M267.1 460.4v1.2M265 458.7l4.2 4.2m0 -4.2l-4.2 4.2M269.7 460.5v1.2M267.6 459l4.2 4.2m0 -4.2l-4.2 4.2M272.3 460.2v1.2M270.2 458.7l4.2 4.2m0 -4.2l-4.2 4.2M274.9 461.5v1.2M272.8 459.2l4.2 4.2m0 -4.2l-4.2 4.2M277.5 461.4v1.2M275.4 460.6l4.2 4.2m0 -4.2l-4.2 4.2M280.1 462.1v1.2M278 459.9l4.2 4.2m0 -4.2l-4.2 4.2M282.7 462.8v1.2M280.6 460.4l4.2 4.2m0 -4.2l-4.2 4.2M285.3 462.5v1.2M283.2 461l4.2 4.2m0 -4.2l-4.2 4.2M287.9 462.4v1.2M285.8 461.7l4.2 4.2m0 -4.2l-4.2 4.2M290.5 463.6v1.2M288.4 461.4l4.2 4.2m0 -4.2l-4.2 4.2M293.1 463.3v1.2M291 462.2l4.2 4.2m0 -4.2l-4.2 4.2M295.7 464.7v1.2M293.6 461.2l4.2 4.2m0 -4.2l-4.2 4.2M298.3 463.4v1.2M296.2 463.2l4.2 4.2m0 -4.2l-4.2 4.2M300.9 465.2v1.2M298.8 463.1l4.2 4.2m0 -4.2l-4.2 4.2M303.5 465.4v1.2M301.4 463.6l4.2 4.2m0 -4.2l-4.2 4.2M306.1 464.7v1.2M304 463.5l4.2 4.2m0 -4.2l-4.2 4.2M308.7 465.9v1.2M306.6 463.8l4.2 4.2m0 -4.2l-4.2 4.2M311.3 466.3v1.2M309.2 463.9l4.2 4.2m0 -4.2l-4.2 4.2M313.9 465.9v1.2M311.8 465.5l4.2 4.2m0 -4.2l-4.2 4.2M316.5 466.3v1.2M314.4 465.2l4.2 4.2m0 -4.2l-4.2 4.2M319.1 466v1.2M317 464.5l4.2 4.2m0 -4.2l-4.2 4.2M321.7 465.6v1.2M319.6 463.3l4.2 4.2m0 -4.2l-4.2 4.2M324.3 465.4v1.2M322.2 463.9l4.2 4.2m0 -4.2l-4.2 4.2M326.9 464.7v1.2M324.8 463.3l4.2 4.2m0 -4.2l-4.2 4.2M329.5 464.2v1.2M327.4 461.9l4.2 4.2m0 -4.2l-4.2 4.2M331 462.7l4 4m0 -4l-4 4M331.7 462.8l4 4m0 -4l-4 4M335.6 461.9l4 4m0 -4l-4 4M337.3 461.9l4 4m0 -4l-4 4M342.2 461.5l4 4m0 -4l-4 4M344.4 463l4 4m0 -4l-4 4M349.5 462.6l4 4m0 -4l-4 4M354.4 462.9l4 4m0 -4l-4 4M358.2 461.8l4 4m0 -4l-4 4M359.2 460.4l4 4m0 -4l-4 4M361 460.9l4 4m0 -4l-4 4M364 460.4l4 4m0 -4l-4 4M367.6 460.6l4 4m0 -4l-4 4M368.7 460.7l4 4m0 -4l-4 4M371 460.5l4 4m0 -4l-4 4M372.1 460.6l4 4m0 -4l-4 4M375.2 460.7l4 4m0 -4l-4 4M381.2 458.1l4 4m0 -4l-4 4M384 458l4 4m0 -4l-4 4M386.5 456.6l4 4m0 -4l-4 4M388 456.9l4 4m0 -4l-4 4M389.8 456.8l4 4m0 -4l-4 4M392.5 455.4l4 4m0 -4l-4 4M394.7 455.6l4 4m0 -4l-4 4M398.3 454.5l4 4m0 -4l-4 4M401.4 452l4 4m0 -4l-4 4M402.7 452l4 4m0 -4l-4 4M403.6 450.8l4 4m0 -4l-4 4M407.2 449.4l4 4m0 -4l-4 4M410.8 447.5l4 4m0 -4l-4 4M422.7 443l4 4m0 -4l-4 4M424.3 442l4 4m0 -4l-4 4M426.4 441.6l4 4m0 -4l-4 4M434.7 437.9l4 4m0 -4l-4 4M435.8 437.1l4 4m0 -4l-4 4M437.6 436.3l4 4m0 -4l-4 4M439.4 436.7l4 4m0 -4l-4 4M442.6 435.6l4 4m0 -4l-4 4M446.3 433l4 4m0 -4l-4 4M446.9 433.2l4 4m0 -4l-4 4M451.6 431.4l4 4m0 -4l-4 4M455.3 430.1l4 4m0 -4l-4 4M463.5 426.2l4 4m0 -4l-4 4M465.4 425l4 4m0 -4l-4 4M465.8 424.9l4 4m0 -4l-4 4M470.8 423.1l4 4m0 -4l-4 4M473.1 422.1l4 4m0 -4l-4 4M474.6 421.5l4 4m0 -4l-4 4M479.5 420.2l4 4m0 -4l-4 4M480.9 419l4 4m0 -4l-4 4M482.1 418.5l4 4m0 -4l-4 4M494.1 414.1l4 4m0 -4l-4 4M495.6 414.3l4 4m0 -4l-4 4M496.2 413.8l4 4m0 -4l-4 4M499.8 413.1l4 4m0 -4l-4 4M502.2 412.8l4 4m0 -4l-4 4M505.3 411.6l4 4m0 -4l-4 4M508.9 410.4l4 4m0 -4l-4 4M509.9 410.7l4 4m0 -4l-4 4M513.3 408.6l4 4m0 -4l-4 4M516.5 408.5l4 4m0 -4l-4 4M518.1 408.8l4 4m0 -4l-4 4M519.6 407.4l4 4m0 -4l-4 4M521.1 408.1l4 4m0 -4l-4 4M522.6 408l4 4m0 -4l-4 4M524.3 407.4l4 4m0 -4l-4 4M525.9 407.4l4 4m0 -4l-4 4M528.1 406.6l4 4m0 -4l-4 4M528.6 406.6l4 4m0 -4l-4 4M531.3 407.1l4 4m0 -4l-4 4M534.3 405.6l4 4m0 -4l-4 4M535.4 404.7l4 4m0 -4l-4 4M536.1 403.6l4 4m0 -4l-4 4M538.5 404.1l4 4m0 -4l-4 4M540.9 403.1l4 4m0 -4l-4 4M541.7 402.6l4 4m0 -4l-4 4M543.3 401.6l4 4m0 -4l-4 4M544.9 401.2l4 4m0 -4l-4 4M546.4 401.3l4 4m0 -4l-4 4M547.8 400.9l4 4m0 -4l-4 4M550.1 401.3l4 4m0 -4l-4 4M552.3 400.4l4 4m0 -4l-4 4M553.4 400.5l4 4m0 -4l-4 4M554.6 399.8l4 4m0 -4l-4 4M556.1 399.6l4 4m0 -4l-4 4M558 399.4l4 4m0 -4l-4 4M565.9 396.9l4 4m0 -4l-4 4M568.3 396.6l4 4m0 -4l-4 4M570.6 396l4 4m0 -4l-4 4M572.4 396.9l4 4m0 -4l-4 4M574.3 396.9l4 4m0 -4l-4 4M576.9 397.6l4 4m0 -4l-4 4M586.2 398.3l4 4m0 -4l-4 4M589.9 398.3l4 4m0 -4l-4 4M593.3 399.2l4 4m0 -4l-4 4M593.9 399.1l4 4m0 -4l-4 4M596.2 399.6l4 4m0 -4l-4 4M597.7 400.4l4 4m0 -4l-4 4M602.4 402.3l4 4m0 -4l-4 4M604.1 403.3l4 4m0 -4l-4 4M606.4 404.3l4 4m0 -4l-4 4M612 408.1l4 4m0 -4l-4 4M614.4 409.8l4 4m0 -4l-4 4M616.6 411.2l4 4m0 -4l-4 4M618.2 412l4 4m0 -4l-4 4M619.7 413.3l4 4m0 -4l-4 4M622 412.6l4 4m0 -4l-4 4" stroke="#61C853" stroke-width="0.9" fill="none" opacity="0.85"/>
<path d="M86.4 411.1v1.6M84.3 409.8l4.2 4.2m0 -4.2l-4.2 4.2M133.7 449l4 4m0 -4l-4 4M144 452.9l4 4m0 -4l-4 4M190 460.8l4 4m0 -4l-4 4M227.7 457.9l4 4m0 -4l-4 4M230.5 459l4 4m0 -4l-4 4M240.4 457.9l4 4m0 -4l-4 4M285.7 462.8l4 4m0 -4l-4 4M288.5 463.2l4 4m0 -4l-4 4M291.1 464.8l4 4m0 -4l-4 4M298.9 463.7l4 4m0 -4l-4 4M304 463.8l4 4m0 -4l-4 4M365.6 461.1l4 4m0 -4l-4 4M423.6 442.2l4 4m0 -4l-4 4M445.6 433.4l4 4m0 -4l-4 4M463.2 427l4 4m0 -4l-4 4M489 415.8l4 4m0 -4l-4 4M536.7 405.1l4 4m0 -4l-4 4M591.7 399.6l4 4m0 -4l-4 4M614 408.7l4 4m0 -4l-4 4" stroke="#9A78B8" stroke-width="0.9" fill="none" opacity="0.85"/>
</g>
<g clip-path="url(#c3)">
<path d="M79 340.3v4.4M77 340.5l4 4m0 -4l-4 4M81.3 340.9v4.4M79.3 341.1l4 4m0 -4l-4 4M86.4 342.4v4.4M84.4 342.6l4 4m0 -4l-4 4M86.9 340.4v4.4M84.9 340.6l4 4m0 -4l-4 4M93.4 343.4v4.4M91.4 343.6l4 4m0 -4l-4 4M96.2 341.4v4.4M94.2 341.6l4 4m0 -4l-4 4M99.2 344.1v4.4M97.2 344.3l4 4m0 -4l-4 4M112.4 340.3v4.4M110.4 340.5l4 4m0 -4l-4 4M115.4 340.1v4.4M113.4 340.3l4 4m0 -4l-4 4M125.8 344v2.4M123.8 343.2l4 4m0 -4l-4 4M129.2 344.6v2.4M127.2 343.8l4 4m0 -4l-4 4M132.6 344v2.4M130.6 343.2l4 4m0 -4l-4 4M136 344.5v2.4M134 343.7l4 4m0 -4l-4 4M139.4 343.6v2.4M137.4 342.8l4 4m0 -4l-4 4M142.8 344v2.4M140.8 343.2l4 4m0 -4l-4 4M146.2 344v2.4M144.2 343.2l4 4m0 -4l-4 4M149.6 343.4v2.4M147.6 342.6l4 4m0 -4l-4 4M153 343.8v2.4M151 343l4 4m0 -4l-4 4M156.4 342v2.4M154.4 341.2l4 4m0 -4l-4 4M159.8 343.2v2.4M157.8 342.4l4 4m0 -4l-4 4M182.6 343.3v2.4M180.6 342.5l4 4m0 -4l-4 4M187.3 344.1v2.4M185.3 343.3l4 4m0 -4l-4 4M191.9 344.4v2.4M189.9 343.6l4 4m0 -4l-4 4M197.7 343.6v2.4M195.7 342.8l4 4m0 -4l-4 4M207.4 343.6v2.4M205.4 342.8l4 4m0 -4l-4 4M210.6 343.5v2.4M208.6 342.7l4 4m0 -4l-4 4M213.8 344.3v2.4M211.8 343.5l4 4m0 -4l-4 4M217 345.4v2.4M215 344.6l4 4m0 -4l-4 4M220.2 342.5v2.4M218.2 341.7l4 4m0 -4l-4 4M223.4 344.3v2.4M221.4 343.5l4 4m0 -4l-4 4M226.6 344v2.4M224.6 343.2l4 4m0 -4l-4 4M229.8 344.3v2.4M227.8 343.5l4 4m0 -4l-4 4M233 344v2.4M231 343.2l4 4m0 -4l-4 4M236.2 344.2v2.4M234.2 343.4l4 4m0 -4l-4 4M239.4 342.2v2.4M237.4 341.4l4 4m0 -4l-4 4M242.6 342.7v2.4M240.6 341.9l4 4m0 -4l-4 4M245.8 342v2.4M243.8 341.2l4 4m0 -4l-4 4M249 344v2.4M247 343.2l4 4m0 -4l-4 4M252.2 344.8v2.4M250.2 344l4 4m0 -4l-4 4M255.4 343.1v2.4M253.4 342.3l4 4m0 -4l-4 4M258.6 344.5v2.4M256.6 343.7l4 4m0 -4l-4 4M261.8 343.6v2.4M259.8 342.8l4 4m0 -4l-4 4M264.5 343.8v2.4M262.5 343l4 4m0 -4l-4 4M267.1 343.4v2.4M265.1 342.6l4 4m0 -4l-4 4M269.7 343.8v2.4M267.7 343l4 4m0 -4l-4 4M272.3 338.6v18.3M270.3 345.7l4 4m0 -4l-4 4M274.9 338.1v17.6M272.9 344.9l4 4m0 -4l-4 4M277.5 345.1v15.7M275.5 350.9l4 4m0 -4l-4 4M282.7 334.3v18.5M280.7 341.5l4 4m0 -4l-4 4M285.3 336.6v17.8M283.3 343.5l4 4m0 -4l-4 4M287.9 346.2v18.3M285.9 353.3l4 4m0 -4l-4 4M290.5 336.4v17.6M288.5 343.3l4 4m0 -4l-4 4M293.1 330.9v18M291.1 337.9l4 4m0 -4l-4 4M300.9 338.9v17.5M298.9 345.7l4 4m0 -4l-4 4M303.5 336.6v19.3M301.5 344.2l4 4m0 -4l-4 4M308.7 334.2v16.8M306.7 340.6l4 4m0 -4l-4 4M311.3 329.6v14.2M309.3 334.7l4 4m0 -4l-4 4M313.9 339.4v18.9M311.9 346.9l4 4m0 -4l-4 4M316.5 341.7v14.2M314.5 346.8l4 4m0 -4l-4 4M321.7 331.4v15.5M319.7 337.1l4 4m0 -4l-4 4M326.9 341v17.1M324.9 347.6l4 4m0 -4l-4 4M334.1 338.1v18.9M332.1 345.5l4 4m0 -4l-4 4M335.7 333.2v14.7M333.7 338.5l4 4m0 -4l-4 4M338.9 340.2v12.5M336.9 344.5l4 4m0 -4l-4 4M340.5 336.8v19.5M338.5 344.5l4 4m0 -4l-4 4M342.1 340.2v16.7M340.1 346.6l4 4m0 -4l-4 4M343.7 332.2v13.4M341.7 336.9l4 4m0 -4l-4 4M345.3 338.8v14.7M343.3 344.2l4 4m0 -4l-4 4M346.9 331.6v18.5M344.9 338.9l4 4m0 -4l-4 4M348.5 338.1v13.4M346.5 342.8l4 4m0 -4l-4 4M350.1 337.4v15.1M348.1 343l4 4m0 -4l-4 4M351.7 332v18.5M349.7 339.3l4 4m0 -4l-4 4M353.3 335.6v19.5M351.3 343.4l4 4m0 -4l-4 4M354.9 328.6v19.2M352.9 336.2l4 4m0 -4l-4 4M356.5 342.7v16.6M354.5 349l4 4m0 -4l-4 4M359.7 338.5v17.1M357.7 345.1l4 4m0 -4l-4 4M361.3 330.1v19.7M359.3 337.9l4 4m0 -4l-4 4M362.9 339.2v13.5M360.9 344l4 4m0 -4l-4 4M369.3 334.7v15.1M367.3 340.2l4 4m0 -4l-4 4M372.5 329v17.3M370.5 335.7l4 4m0 -4l-4 4M377.3 337.8v16.6M375.3 344.1l4 4m0 -4l-4 4M378.9 338.5v14.2M376.9 343.6l4 4m0 -4l-4 4M382.1 336.9v16.1M380.1 342.9l4 4m0 -4l-4 4M383.7 338.5v18.9M381.7 345.9l4 4m0 -4l-4 4M385.3 331.7v12.7M383.3 336l4 4m0 -4l-4 4M388.5 336.2v16.1M386.5 342.3l4 4m0 -4l-4 4M391.7 339.7v11.2M389.7 343.4l4 4m0 -4l-4 4M393.3 334.1v18M391.3 341.1l4 4m0 -4l-4 4M394.9 339.7v14.6M392.9 345l4 4m0 -4l-4 4M398.1 343.5v12.9M396.1 348l4 4m0 -4l-4 4M399.7 341.3v13.7M397.7 346.2l4 4m0 -4l-4 4M401.3 332.6v15.7M399.3 338.4l4 4m0 -4l-4 4M402.9 337v12.4M400.9 341.2l4 4m0 -4l-4 4M404.5 340.2v11M402.5 343.8l4 4m0 -4l-4 4M406.1 335.4v17.2M404.1 341.9l4 4m0 -4l-4 4M407.7 336.9v15.9M405.7 342.9l4 4m0 -4l-4 4M410.9 350.4v14.4M408.9 355.6l4 4m0 -4l-4 4M414.1 330.7v13.8M412.1 335.6l4 4m0 -4l-4 4M415.7 333.9v17.7M413.7 340.7l4 4m0 -4l-4 4M418.9 337v19.1M416.9 344.6l4 4m0 -4l-4 4M422.1 341.4v19.2M420.1 349l4 4m0 -4l-4 4M425.3 330.3v19M423.3 337.8l4 4m0 -4l-4 4M428.5 338.2v11.1M426.5 341.8l4 4m0 -4l-4 4M439.7 330.4v16.5M437.7 336.6l4 4m0 -4l-4 4M441.3 334.1v14.8M439.3 339.5l4 4m0 -4l-4 4M442.9 339.5v19.2M440.9 347.1l4 4m0 -4l-4 4M447.7 334.7v12.8M445.7 339.1l4 4m0 -4l-4 4M450.9 334.8v15.5M448.9 340.5l4 4m0 -4l-4 4M454.1 340.4v13.4M452.1 345.1l4 4m0 -4l-4 4M455.7 333.4v15.2M453.7 339l4 4m0 -4l-4 4M458.9 333v16.4M456.9 339.2l4 4m0 -4l-4 4M460.5 335.9v15.2M458.5 341.5l4 4m0 -4l-4 4M462.1 339v19.3M460.1 346.6l4 4m0 -4l-4 4M463.7 331.3v18.6M461.7 338.6l4 4m0 -4l-4 4M466.9 340.4v17.5M464.9 347.2l4 4m0 -4l-4 4M473.3 332.1v13.7M471.3 337l4 4m0 -4l-4 4M476.5 332.6v13.4M474.5 337.3l4 4m0 -4l-4 4M478.1 324.4v19.2M476.1 332l4 4m0 -4l-4 4M479.7 330.1v13.6M477.7 334.9l4 4m0 -4l-4 4M484.5 333.5v13.1M482.5 338l4 4m0 -4l-4 4M486.1 341.1v12.2M484.1 345.2l4 4m0 -4l-4 4M487.7 327.1v19.8M485.7 335l4 4m0 -4l-4 4M489.3 331.9v18.8M487.3 339.3l4 4m0 -4l-4 4M492.5 334.9v17M490.5 341.4l4 4m0 -4l-4 4M494.1 337.4v17.3M492.1 344l4 4m0 -4l-4 4M500.5 338.4v11.1M498.5 342l4 4m0 -4l-4 4M502.1 332v16.8M500.1 338.4l4 4m0 -4l-4 4M503.7 331.3v15.3M501.7 336.9l4 4m0 -4l-4 4M505.3 331.7v11.3M503.3 335.4l4 4m0 -4l-4 4M508.5 336.8v13.9M506.5 341.7l4 4m0 -4l-4 4M510.1 335.3v17.6M508.1 342.1l4 4m0 -4l-4 4M516.5 340.5v12.3M514.5 344.6l4 4m0 -4l-4 4M518.1 337.5v13M516.1 342l4 4m0 -4l-4 4M519.7 338.4v14.1M517.7 343.4l4 4m0 -4l-4 4M521.3 333.6v19.7M519.3 341.4l4 4m0 -4l-4 4M522.9 341.1v13.2M520.9 345.7l4 4m0 -4l-4 4M524.5 327.3v11.1M522.5 330.9l4 4m0 -4l-4 4M526.1 333.1v15.2M524.1 338.7l4 4m0 -4l-4 4M527.7 342.2v12.3M525.7 346.3l4 4m0 -4l-4 4M529.3 330.6v19.3M527.3 338.3l4 4m0 -4l-4 4M530.9 328.2v15.8M528.9 334l4 4m0 -4l-4 4M537.3 330.2v13.4M535.3 334.9l4 4m0 -4l-4 4M540.5 339.4v15.6M538.5 345.2l4 4m0 -4l-4 4M542.1 337.9v13.2M540.1 342.5l4 4m0 -4l-4 4M548.5 342.8v13.4M546.5 347.6l4 4m0 -4l-4 4M551.7 345.2v16.7M549.7 351.6l4 4m0 -4l-4 4M553.3 340v13.9M551.3 345l4 4m0 -4l-4 4M556.5 351.3v11.2M554.5 354.9l4 4m0 -4l-4 4M558.1 340v19M556.1 347.5l4 4m0 -4l-4 4M559.7 342.1v19.6M557.7 349.9l4 4m0 -4l-4 4M562.9 338v11.4M560.9 341.7l4 4m0 -4l-4 4M566.1 328.9v18.7M564.1 336.3l4 4m0 -4l-4 4M570.9 337.9v11.2M568.9 341.5l4 4m0 -4l-4 4M572.5 347.8v12.1M570.5 351.9l4 4m0 -4l-4 4M575.7 339.5v13.3M573.7 344.1l4 4m0 -4l-4 4M590.1 338.2v11.3M588.1 341.8l4 4m0 -4l-4 4M591.7 345.8v19.9M589.7 353.7l4 4m0 -4l-4 4M593.3 341.2v17.6M591.3 348l4 4m0 -4l-4 4M594.9 341.6v14.5M592.9 346.9l4 4m0 -4l-4 4M596.5 343.3v12.5M594.5 347.6l4 4m0 -4l-4 4M598.1 353.1v11.6M596.1 356.9l4 4m0 -4l-4 4M606.1 333.6v18.4M604.1 340.8l4 4m0 -4l-4 4M609.3 342.8v16M607.3 348.8l4 4m0 -4l-4 4M610.9 338.8v13.6M608.9 343.6l4 4m0 -4l-4 4M612.5 344.7v18.4M610.5 351.9l4 4m0 -4l-4 4M614.1 340.8v12.4M612.1 345.1l4 4m0 -4l-4 4M79.6 331.9v54.4M77.6 357.1l4 4m0 -4l-4 4M461 360.1v17.4M459 366.8l4 4m0 -4l-4 4M474.8 364.3v16M472.8 370.3l4 4m0 -4l-4 4M475.1 363v17.8M473.1 369.9l4 4m0 -4l-4 4M480.7 361.1v16.6M478.7 367.4l4 4m0 -4l-4 4M546.2 360.4v18M544.2 367.4l4 4m0 -4l-4 4M548.7 356.6v18M546.7 363.6l4 4m0 -4l-4 4" stroke="#61C853" stroke-width="0.8" fill="none" opacity="0.8"/>
<path d="M79 343.9v4.4M77 344.1l4 4m0 -4l-4 4M79 341.6v4.4M77 341.8l4 4m0 -4l-4 4M81.3 342.6v4.4M79.3 342.8l4 4m0 -4l-4 4M81.3 341.6v4.4M79.3 341.8l4 4m0 -4l-4 4M86.4 343.5v4.4M84.4 343.7l4 4m0 -4l-4 4M86.4 342.5v4.4M84.4 342.7l4 4m0 -4l-4 4M86.9 342.5v4.4M84.9 342.7l4 4m0 -4l-4 4M86.9 343.9v4.4M84.9 344.1l4 4m0 -4l-4 4M93.4 343.6v4.4M91.4 343.8l4 4m0 -4l-4 4M93.4 345.8v4.4M91.4 346l4 4m0 -4l-4 4M96.2 341v4.4M94.2 341.2l4 4m0 -4l-4 4M96.2 343.9v4.4M94.2 344.1l4 4m0 -4l-4 4M99.2 344v4.4M97.2 344.2l4 4m0 -4l-4 4M99.2 343.2v4.4M97.2 343.4l4 4m0 -4l-4 4M112.4 341.9v4.4M110.4 342.1l4 4m0 -4l-4 4M112.4 342.3v4.4M110.4 342.5l4 4m0 -4l-4 4M115.4 342.7v4.4M113.4 342.9l4 4m0 -4l-4 4M115.4 343.9v4.4M113.4 344.1l4 4m0 -4l-4 4M125.8 343.8v4.8M123.8 344.2l4 4m0 -4l-4 4M129.2 343v4.8M127.2 343.4l4 4m0 -4l-4 4M132.6 342.4v4.8M130.6 342.8l4 4m0 -4l-4 4M136 343.1v4.8M134 343.5l4 4m0 -4l-4 4M139.4 341.8v4.8M137.4 342.2l4 4m0 -4l-4 4M142.8 342.6v4.8M140.8 343l4 4m0 -4l-4 4M146.2 345.1v4.8M144.2 345.5l4 4m0 -4l-4 4M149.6 343.3v4.8M147.6 343.7l4 4m0 -4l-4 4M153 342.3v4.8M151 342.7l4 4m0 -4l-4 4M156.4 343v4.8M154.4 343.4l4 4m0 -4l-4 4M159.8 343.5v4.8M157.8 343.9l4 4m0 -4l-4 4M182.6 342.3v4.8M180.6 342.7l4 4m0 -4l-4 4M187.3 342.5v4.8M185.3 342.9l4 4m0 -4l-4 4M191.9 342.6v4.8M189.9 343l4 4m0 -4l-4 4M197.7 341v4.8M195.7 341.4l4 4m0 -4l-4 4M207.4 346.1v4.8M205.4 346.5l4 4m0 -4l-4 4M210.6 342v4.8M208.6 342.4l4 4m0 -4l-4 4M213.8 341.6v4.8M211.8 342l4 4m0 -4l-4 4M217 344.3v4.8M215 344.7l4 4m0 -4l-4 4M220.2 341.4v4.8M218.2 341.8l4 4m0 -4l-4 4M223.4 342.1v4.8M221.4 342.5l4 4m0 -4l-4 4M226.6 343.6v4.8M224.6 344l4 4m0 -4l-4 4M229.8 342.6v4.8M227.8 343l4 4m0 -4l-4 4M233 340.6v4.8M231 341l4 4m0 -4l-4 4M236.2 341.1v4.8M234.2 341.5l4 4m0 -4l-4 4M239.4 342.4v4.8M237.4 342.8l4 4m0 -4l-4 4M242.6 342.4v4.8M240.6 342.8l4 4m0 -4l-4 4M245.8 340.1v4.8M243.8 340.5l4 4m0 -4l-4 4M249 343.2v4.8M247 343.6l4 4m0 -4l-4 4M252.2 343.7v4.8M250.2 344.1l4 4m0 -4l-4 4M255.4 342.4v4.8M253.4 342.8l4 4m0 -4l-4 4M258.6 343.8v4.8M256.6 344.2l4 4m0 -4l-4 4M261.8 345.7v4.8M259.8 346.1l4 4m0 -4l-4 4M264.5 346.6v2.8M262.5 346l4 4m0 -4l-4 4M267.1 343.5v2.8M265.1 342.9l4 4m0 -4l-4 4M269.7 342v2.8M267.7 341.4l4 4m0 -4l-4 4M272.3 343.1v2.8M270.3 342.5l4 4m0 -4l-4 4M274.9 339.7v2.8M272.9 339.1l4 4m0 -4l-4 4M277.5 343.1v2.8M275.5 342.5l4 4m0 -4l-4 4M280.1 345.5v2.8M278.1 344.9l4 4m0 -4l-4 4M282.7 342.3v2.8M280.7 341.7l4 4m0 -4l-4 4M285.3 344.4v2.8M283.3 343.8l4 4m0 -4l-4 4M287.9 342.8v2.8M285.9 342.2l4 4m0 -4l-4 4M290.5 341.8v2.8M288.5 341.2l4 4m0 -4l-4 4M293.1 343.2v2.8M291.1 342.6l4 4m0 -4l-4 4M295.7 345.5v2.8M293.7 344.9l4 4m0 -4l-4 4M298.3 344.2v2.8M296.3 343.6l4 4m0 -4l-4 4M300.9 344.7v2.8M298.9 344.1l4 4m0 -4l-4 4M303.5 343.7v2.8M301.5 343.1l4 4m0 -4l-4 4M306.1 344.5v2.8M304.1 343.9l4 4m0 -4l-4 4M308.7 345.9v2.8M306.7 345.3l4 4m0 -4l-4 4M311.3 339.7v2.8M309.3 339.1l4 4m0 -4l-4 4M313.9 345v2.8M311.9 344.4l4 4m0 -4l-4 4M316.5 343.3v2.8M314.5 342.7l4 4m0 -4l-4 4M319.1 344.4v2.8M317.1 343.8l4 4m0 -4l-4 4M321.7 343.2v2.8M319.7 342.6l4 4m0 -4l-4 4M324.3 343.8v2.8M322.3 343.2l4 4m0 -4l-4 4M326.9 344.3v2.8M324.9 343.7l4 4m0 -4l-4 4M329.5 343.2v2.8M327.5 342.6l4 4m0 -4l-4 4M332.5 344.7v3M330.5 344.2l4 4m0 -4l-4 4M334.1 343.8v3M332.1 343.3l4 4m0 -4l-4 4M337.3 344.5v3M335.3 344l4 4m0 -4l-4 4M342.1 343.5v3M340.1 343l4 4m0 -4l-4 4M345.3 342.7v3M343.3 342.2l4 4m0 -4l-4 4M350.1 342.8v3M348.1 342.3l4 4m0 -4l-4 4M354.9 342.2v3M352.9 341.7l4 4m0 -4l-4 4M358.1 342v3M356.1 341.5l4 4m0 -4l-4 4M362.9 343.3v3M360.9 342.8l4 4m0 -4l-4 4M364.5 344.1v3M362.5 343.6l4 4m0 -4l-4 4M370.9 342.9v3M368.9 342.4l4 4m0 -4l-4 4M374.1 343.6v3M372.1 343.1l4 4m0 -4l-4 4M375.7 343v3M373.7 342.5l4 4m0 -4l-4 4M378.9 343.3v3M376.9 342.8l4 4m0 -4l-4 4M382.1 344.4v3M380.1 343.9l4 4m0 -4l-4 4M385.3 344.8v3M383.3 344.3l4 4m0 -4l-4 4M386.9 345.1v3M384.9 344.6l4 4m0 -4l-4 4M396.5 342.4v3M394.5 341.9l4 4m0 -4l-4 4M398.1 343.4v3M396.1 342.9l4 4m0 -4l-4 4M399.7 344v3M397.7 343.5l4 4m0 -4l-4 4M404.5 344.3v3M402.5 343.8l4 4m0 -4l-4 4M410.9 344.8v3M408.9 344.3l4 4m0 -4l-4 4M412.5 343v3M410.5 342.5l4 4m0 -4l-4 4M418.9 343.9v3M416.9 343.4l4 4m0 -4l-4 4M423.7 342.8v3M421.7 342.3l4 4m0 -4l-4 4M428.5 342.8v3M426.5 342.3l4 4m0 -4l-4 4M430.1 344.6v3M428.1 344.1l4 4m0 -4l-4 4M433.3 342v3M431.3 341.5l4 4m0 -4l-4 4M434.9 343.8v3M432.9 343.3l4 4m0 -4l-4 4M439.7 343.5v3M437.7 343l4 4m0 -4l-4 4M441.3 344.6v3M439.3 344.1l4 4m0 -4l-4 4M442.9 343.3v3M440.9 342.8l4 4m0 -4l-4 4M444.5 345.8v3M442.5 345.3l4 4m0 -4l-4 4M450.9 345.7v3M448.9 345.2l4 4m0 -4l-4 4M458.9 341.5v3M456.9 341l4 4m0 -4l-4 4M460.5 345.4v3M458.5 344.9l4 4m0 -4l-4 4M462.1 342.9v3M460.1 342.4l4 4m0 -4l-4 4M463.7 342.9v3M461.7 342.4l4 4m0 -4l-4 4M466.9 343.7v3M464.9 343.2l4 4m0 -4l-4 4M468.5 344.5v3M466.5 344l4 4m0 -4l-4 4M471.7 343.2v3M469.7 342.7l4 4m0 -4l-4 4M474.9 345.2v3M472.9 344.7l4 4m0 -4l-4 4M476.5 343.2v3M474.5 342.7l4 4m0 -4l-4 4M478.1 342.7v3M476.1 342.2l4 4m0 -4l-4 4M481.3 343.9v3M479.3 343.4l4 4m0 -4l-4 4M482.9 341.4v3M480.9 340.9l4 4m0 -4l-4 4M484.5 343.5v3M482.5 343l4 4m0 -4l-4 4M487.7 345.7v3M485.7 345.2l4 4m0 -4l-4 4M492.5 345.4v3M490.5 344.9l4 4m0 -4l-4 4M494.1 344.7v3M492.1 344.2l4 4m0 -4l-4 4M497.3 343.7v3M495.3 343.2l4 4m0 -4l-4 4M498.9 344.2v3M496.9 343.7l4 4m0 -4l-4 4M500.5 344v3M498.5 343.5l4 4m0 -4l-4 4M505.3 344.2v3M503.3 343.7l4 4m0 -4l-4 4M511.7 343.3v3M509.7 342.8l4 4m0 -4l-4 4M513.3 343.7v3M511.3 343.2l4 4m0 -4l-4 4M514.9 342.9v3M512.9 342.4l4 4m0 -4l-4 4M518.1 344.6v3M516.1 344.1l4 4m0 -4l-4 4M522.9 344.9v3M520.9 344.4l4 4m0 -4l-4 4M526.1 342.3v3M524.1 341.8l4 4m0 -4l-4 4M527.7 344.2v3M525.7 343.7l4 4m0 -4l-4 4M530.9 342v3M528.9 341.5l4 4m0 -4l-4 4M540.5 343.6v3M538.5 343.1l4 4m0 -4l-4 4M542.1 342.2v3M540.1 341.7l4 4m0 -4l-4 4M543.7 342.6v3M541.7 342.1l4 4m0 -4l-4 4M548.5 344.1v3M546.5 343.6l4 4m0 -4l-4 4M553.3 343.5v3M551.3 343l4 4m0 -4l-4 4M558.1 343v3M556.1 342.5l4 4m0 -4l-4 4M559.7 345.1v3M557.7 344.6l4 4m0 -4l-4 4M561.3 343.4v3M559.3 342.9l4 4m0 -4l-4 4M562.9 343.7v3M560.9 343.2l4 4m0 -4l-4 4M566.1 345.1v3M564.1 344.6l4 4m0 -4l-4 4M569.3 343.1v3M567.3 342.6l4 4m0 -4l-4 4M572.5 342.8v3M570.5 342.3l4 4m0 -4l-4 4M577.3 342.3v3M575.3 341.8l4 4m0 -4l-4 4M578.9 344.6v3M576.9 344.1l4 4m0 -4l-4 4M580.5 342.4v3M578.5 341.9l4 4m0 -4l-4 4M582.1 344.7v3M580.1 344.2l4 4m0 -4l-4 4M585.3 342.9v3M583.3 342.4l4 4m0 -4l-4 4M586.9 343.3v3M584.9 342.8l4 4m0 -4l-4 4M590.1 344.3v3M588.1 343.8l4 4m0 -4l-4 4M591.7 344v3M589.7 343.5l4 4m0 -4l-4 4M602.9 346.1v3M600.9 345.6l4 4m0 -4l-4 4M604.5 343.1v3M602.5 342.6l4 4m0 -4l-4 4M606.1 341.6v3M604.1 341.1l4 4m0 -4l-4 4M607.7 344.9v3M605.7 344.4l4 4m0 -4l-4 4M617.3 343.4v3M615.3 342.9l4 4m0 -4l-4 4M622.1 345v3M620.1 344.5l4 4m0 -4l-4 4" stroke="#407BD5" stroke-width="0.8" fill="none" opacity="0.8"/>
<path d="M274.9 343.4v2.4M272.9 342.6l4 4m0 -4l-4 4M287.9 344.8v2.4M285.9 344l4 4m0 -4l-4 4M293.1 343.4v2.4M291.1 342.6l4 4m0 -4l-4 4M306.1 344.5v2.4M304.1 343.7l4 4m0 -4l-4 4M308.7 343.5v2.4M306.7 342.7l4 4m0 -4l-4 4M321.7 345.2v2.4M319.7 344.4l4 4m0 -4l-4 4M326.9 343v2.4M324.9 342.2l4 4m0 -4l-4 4M332.5 343.6v2.6M330.5 342.9l4 4m0 -4l-4 4M335.7 347.6v2.6M333.7 346.9l4 4m0 -4l-4 4M337.3 345.4v2.6M335.3 344.7l4 4m0 -4l-4 4M338.9 342.5v2.6M336.9 341.8l4 4m0 -4l-4 4M340.5 343.1v2.6M338.5 342.4l4 4m0 -4l-4 4M342.1 345v2.6M340.1 344.3l4 4m0 -4l-4 4M343.7 343.8v2.6M341.7 343.1l4 4m0 -4l-4 4M345.3 340.1v2.6M343.3 339.4l4 4m0 -4l-4 4M348.5 343.7v2.6M346.5 343l4 4m0 -4l-4 4M351.7 344.6v2.6M349.7 343.9l4 4m0 -4l-4 4M353.3 341.5v2.6M351.3 340.8l4 4m0 -4l-4 4M354.9 343.6v2.6M352.9 342.9l4 4m0 -4l-4 4M359.7 341.7v2.6M357.7 341l4 4m0 -4l-4 4M362.9 341.8v2.6M360.9 341.1l4 4m0 -4l-4 4M364.5 343.5v2.6M362.5 342.8l4 4m0 -4l-4 4M367.7 342.6v2.6M365.7 341.9l4 4m0 -4l-4 4M370.9 343.5v2.6M368.9 342.8l4 4m0 -4l-4 4M372.5 343.3v2.6M370.5 342.6l4 4m0 -4l-4 4M374.1 344.6v2.6M372.1 343.9l4 4m0 -4l-4 4M375.7 344v2.6M373.7 343.3l4 4m0 -4l-4 4M377.3 344.1v2.6M375.3 343.4l4 4m0 -4l-4 4M380.5 341.9v2.6M378.5 341.2l4 4m0 -4l-4 4M385.3 343.8v2.6M383.3 343.1l4 4m0 -4l-4 4M386.9 343.2v2.6M384.9 342.5l4 4m0 -4l-4 4M391.7 343v2.6M389.7 342.3l4 4m0 -4l-4 4M394.9 343.6v2.6M392.9 342.9l4 4m0 -4l-4 4M398.1 345v2.6M396.1 344.3l4 4m0 -4l-4 4M401.3 342.9v2.6M399.3 342.2l4 4m0 -4l-4 4M406.1 344.9v2.6M404.1 344.2l4 4m0 -4l-4 4M407.7 343.6v2.6M405.7 342.9l4 4m0 -4l-4 4M409.3 343.1v2.6M407.3 342.4l4 4m0 -4l-4 4M410.9 342.7v2.6M408.9 342l4 4m0 -4l-4 4M412.5 342.4v2.6M410.5 341.7l4 4m0 -4l-4 4M415.7 343.9v2.6M413.7 343.2l4 4m0 -4l-4 4M418.9 344.8v2.6M416.9 344.1l4 4m0 -4l-4 4M420.5 341.6v2.6M418.5 340.9l4 4m0 -4l-4 4M422.1 344.4v2.6M420.1 343.7l4 4m0 -4l-4 4M423.7 345.2v2.6M421.7 344.5l4 4m0 -4l-4 4M428.5 343.7v2.6M426.5 343l4 4m0 -4l-4 4M430.1 344.5v2.6M428.1 343.8l4 4m0 -4l-4 4M431.7 344.9v2.6M429.7 344.2l4 4m0 -4l-4 4M434.9 341.7v2.6M432.9 341l4 4m0 -4l-4 4M438.1 343.8v2.6M436.1 343.1l4 4m0 -4l-4 4M439.7 343.4v2.6M437.7 342.7l4 4m0 -4l-4 4M446.1 344.7v2.6M444.1 344l4 4m0 -4l-4 4M449.3 344.5v2.6M447.3 343.8l4 4m0 -4l-4 4M450.9 342.6v2.6M448.9 341.9l4 4m0 -4l-4 4M452.5 343.2v2.6M450.5 342.5l4 4m0 -4l-4 4M454.1 344.7v2.6M452.1 344l4 4m0 -4l-4 4M455.7 344.3v2.6M453.7 343.6l4 4m0 -4l-4 4M457.3 344.6v2.6M455.3 343.9l4 4m0 -4l-4 4M462.1 343.4v2.6M460.1 342.7l4 4m0 -4l-4 4M465.3 347v2.6M463.3 346.3l4 4m0 -4l-4 4M468.5 343.8v2.6M466.5 343.1l4 4m0 -4l-4 4M470.1 344.1v2.6M468.1 343.4l4 4m0 -4l-4 4M471.7 344.5v2.6M469.7 343.8l4 4m0 -4l-4 4M473.3 344.3v2.6M471.3 343.6l4 4m0 -4l-4 4M474.9 345.2v2.6M472.9 344.5l4 4m0 -4l-4 4M476.5 343v2.6M474.5 342.3l4 4m0 -4l-4 4M479.7 344.9v2.6M477.7 344.2l4 4m0 -4l-4 4M481.3 343.9v2.6M479.3 343.2l4 4m0 -4l-4 4M484.5 344.2v2.6M482.5 343.5l4 4m0 -4l-4 4M486.1 344v2.6M484.1 343.3l4 4m0 -4l-4 4M489.3 344.5v2.6M487.3 343.8l4 4m0 -4l-4 4M498.9 344v2.6M496.9 343.3l4 4m0 -4l-4 4M500.5 345.6v2.6M498.5 344.9l4 4m0 -4l-4 4M502.1 342.6v2.6M500.1 341.9l4 4m0 -4l-4 4M503.7 343.7v2.6M501.7 343l4 4m0 -4l-4 4M505.3 343.8v2.6M503.3 343.1l4 4m0 -4l-4 4M508.5 343v2.6M506.5 342.3l4 4m0 -4l-4 4M510.1 343.4v2.6M508.1 342.7l4 4m0 -4l-4 4M511.7 342.6v2.6M509.7 341.9l4 4m0 -4l-4 4M513.3 345.8v2.6M511.3 345.1l4 4m0 -4l-4 4M516.5 341.5v2.6M514.5 340.8l4 4m0 -4l-4 4M519.7 343v2.6M517.7 342.3l4 4m0 -4l-4 4M522.9 344.4v2.6M520.9 343.7l4 4m0 -4l-4 4M526.1 344.9v2.6M524.1 344.2l4 4m0 -4l-4 4M529.3 344.2v2.6M527.3 343.5l4 4m0 -4l-4 4M530.9 342.7v2.6M528.9 342l4 4m0 -4l-4 4M532.5 343.5v2.6M530.5 342.8l4 4m0 -4l-4 4M534.1 346.2v2.6M532.1 345.5l4 4m0 -4l-4 4M540.5 341.9v2.6M538.5 341.2l4 4m0 -4l-4 4M542.1 344.4v2.6M540.1 343.7l4 4m0 -4l-4 4M543.7 346.5v2.6M541.7 345.8l4 4m0 -4l-4 4M545.3 344v2.6M543.3 343.3l4 4m0 -4l-4 4M546.9 345.1v2.6M544.9 344.4l4 4m0 -4l-4 4M548.5 344.1v2.6M546.5 343.4l4 4m0 -4l-4 4M551.7 345.1v2.6M549.7 344.4l4 4m0 -4l-4 4M553.3 342.5v2.6M551.3 341.8l4 4m0 -4l-4 4M554.9 345.1v2.6M552.9 344.4l4 4m0 -4l-4 4M556.5 342.9v2.6M554.5 342.2l4 4m0 -4l-4 4M558.1 343.1v2.6M556.1 342.4l4 4m0 -4l-4 4M559.7 344.7v2.6M557.7 344l4 4m0 -4l-4 4M561.3 344.5v2.6M559.3 343.8l4 4m0 -4l-4 4M562.9 343.3v2.6M560.9 342.6l4 4m0 -4l-4 4M564.5 341.8v2.6M562.5 341.1l4 4m0 -4l-4 4M567.7 344.5v2.6M565.7 343.8l4 4m0 -4l-4 4M569.3 343v2.6M567.3 342.3l4 4m0 -4l-4 4M570.9 343.9v2.6M568.9 343.2l4 4m0 -4l-4 4M572.5 341.5v2.6M570.5 340.8l4 4m0 -4l-4 4M574.1 342.2v2.6M572.1 341.5l4 4m0 -4l-4 4M575.7 344.7v2.6M573.7 344l4 4m0 -4l-4 4M580.5 344.2v2.6M578.5 343.5l4 4m0 -4l-4 4M583.7 343.8v2.6M581.7 343.1l4 4m0 -4l-4 4M586.9 344.6v2.6M584.9 343.9l4 4m0 -4l-4 4M588.5 345.2v2.6M586.5 344.5l4 4m0 -4l-4 4M590.1 344.9v2.6M588.1 344.2l4 4m0 -4l-4 4M594.9 342.3v2.6M592.9 341.6l4 4m0 -4l-4 4M598.1 344.8v2.6M596.1 344.1l4 4m0 -4l-4 4M601.3 344.4v2.6M599.3 343.7l4 4m0 -4l-4 4M602.9 343.2v2.6M600.9 342.5l4 4m0 -4l-4 4M610.9 344.6v2.6M608.9 343.9l4 4m0 -4l-4 4M612.5 342.9v2.6M610.5 342.2l4 4m0 -4l-4 4M615.7 345.9v2.6M613.7 345.2l4 4m0 -4l-4 4M618.9 341.7v2.6M616.9 341l4 4m0 -4l-4 4M620.5 343.8v2.6M618.5 343.1l4 4m0 -4l-4 4M622.1 342.7v2.6M620.1 342l4 4m0 -4l-4 4M620.4 335.6l4 4m0 -4l-4 4" stroke="#6BA9E2" stroke-width="0.8" fill="none" opacity="0.8"/>
<path d="M81.3 344.6v7M79.3 346.1l4 4m0 -4l-4 4M86.4 341.3v7M84.4 342.8l4 4m0 -4l-4 4M86.9 343.3v7M84.9 344.8l4 4m0 -4l-4 4M112.4 342.8v7M110.4 344.3l4 4m0 -4l-4 4M115.4 339.9v7M113.4 341.4l4 4m0 -4l-4 4M136 341.1v7M134 342.6l4 4m0 -4l-4 4M153 340v7M151 341.5l4 4m0 -4l-4 4M159.8 343.1v7M157.8 344.6l4 4m0 -4l-4 4M182.6 338v7M180.6 339.5l4 4m0 -4l-4 4M191.9 343.3v7M189.9 344.8l4 4m0 -4l-4 4M226.6 345.6v7M224.6 347.1l4 4m0 -4l-4 4M236.2 349v7M234.2 350.5l4 4m0 -4l-4 4M242.6 346.4v7M240.6 347.9l4 4m0 -4l-4 4M255.4 347v7M253.4 348.5l4 4m0 -4l-4 4M264.5 341.7v6M262.5 342.7l4 4m0 -4l-4 4M267.1 343.5v6M265.1 344.5l4 4m0 -4l-4 4M277.5 343.8v6M275.5 344.8l4 4m0 -4l-4 4M282.7 348.6v6M280.7 349.6l4 4m0 -4l-4 4M285.3 344.1v6M283.3 345.1l4 4m0 -4l-4 4M300.9 344.8v6M298.9 345.8l4 4m0 -4l-4 4M306.1 345.2v6M304.1 346.2l4 4m0 -4l-4 4M313.9 347.3v6M311.9 348.3l4 4m0 -4l-4 4M324.3 344.2v6M322.3 345.2l4 4m0 -4l-4 4M332.5 342v5M330.5 342.5l4 4m0 -4l-4 4M335.7 342.4v5M333.7 342.9l4 4m0 -4l-4 4M337.3 347.6v5M335.3 348.1l4 4m0 -4l-4 4M338.9 342.7v5M336.9 343.2l4 4m0 -4l-4 4M340.5 347.5v5M338.5 348l4 4m0 -4l-4 4M342.1 341.8v5M340.1 342.3l4 4m0 -4l-4 4M354.9 342.6v5M352.9 343.1l4 4m0 -4l-4 4M367.7 342v5M365.7 342.5l4 4m0 -4l-4 4M370.9 342.1v5M368.9 342.6l4 4m0 -4l-4 4M374.1 343.9v5M372.1 344.4l4 4m0 -4l-4 4M377.3 346.6v5M375.3 347.1l4 4m0 -4l-4 4M380.5 335.7v5M378.5 336.2l4 4m0 -4l-4 4M383.7 345.3v5M381.7 345.8l4 4m0 -4l-4 4M388.5 341.6v5M386.5 342.1l4 4m0 -4l-4 4M391.7 343.2v5M389.7 343.7l4 4m0 -4l-4 4M414.1 344.2v5M412.1 344.7l4 4m0 -4l-4 4M423.7 342.3v5M421.7 342.8l4 4m0 -4l-4 4M425.3 343.6v5M423.3 344.1l4 4m0 -4l-4 4M441.3 342.8v5M439.3 343.3l4 4m0 -4l-4 4M444.5 344.5v5M442.5 345l4 4m0 -4l-4 4M447.7 340.4v5M445.7 340.9l4 4m0 -4l-4 4M457.3 345.6v5M455.3 346.1l4 4m0 -4l-4 4M460.5 344.2v5M458.5 344.7l4 4m0 -4l-4 4M462.1 345v5M460.1 345.5l4 4m0 -4l-4 4M471.7 341.8v5M469.7 342.3l4 4m0 -4l-4 4M482.9 341.2v5M480.9 341.7l4 4m0 -4l-4 4M492.5 339.2v5M490.5 339.7l4 4m0 -4l-4 4M495.7 344.6v5M493.7 345.1l4 4m0 -4l-4 4M497.3 342.3v5M495.3 342.8l4 4m0 -4l-4 4M513.3 343.2v5M511.3 343.7l4 4m0 -4l-4 4M530.9 341.1v5M528.9 341.6l4 4m0 -4l-4 4M537.3 343.9v5M535.3 344.4l4 4m0 -4l-4 4M567.7 340.3v5M565.7 340.8l4 4m0 -4l-4 4M574.1 344.1v5M572.1 344.6l4 4m0 -4l-4 4M575.7 345.7v5M573.7 346.2l4 4m0 -4l-4 4M582.1 344v5M580.1 344.5l4 4m0 -4l-4 4M591.7 342.6v5M589.7 343.1l4 4m0 -4l-4 4M609.3 345.4v5M607.3 345.9l4 4m0 -4l-4 4M618.9 340.8v5M616.9 341.3l4 4m0 -4l-4 4M623.7 342.5v5M621.7 343l4 4m0 -4l-4 4M86 325.4v8M84 327.4l4 4m0 -4l-4 4M430.8 307.4v39.4M428.8 325.1l4 4m0 -4l-4 4M622.4 350.9v4M620.4 350.9l4 4m0 -4l-4 4" stroke="#9A78B8" stroke-width="0.8" fill="none" opacity="0.8"/>
</g>
<g clip-path="url(#c5)">
<path d="M79 527.9v3M77 527.4l4 4m0 -4l-4 4M81.3 525.7v3M79.3 525.2l4 4m0 -4l-4 4M86.4 526.1v3M84.4 525.6l4 4m0 -4l-4 4M86.9 530.7v3M84.9 530.2l4 4m0 -4l-4 4M93.4 528.5v3M91.4 528l4 4m0 -4l-4 4M96.2 528.1v3M94.2 527.6l4 4m0 -4l-4 4M99.2 528.1v3M97.2 527.6l4 4m0 -4l-4 4M112.4 527.2v3M110.4 526.7l4 4m0 -4l-4 4M115.4 531.7v3M113.4 531.2l4 4m0 -4l-4 4M125.8 528v1.6M124 527l3.6 3.6m0 -3.6l-3.6 3.6M129.2 528.3v1.6M127.4 527.3l3.6 3.6m0 -3.6l-3.6 3.6M132.6 528.7v1.6M130.8 527.7l3.6 3.6m0 -3.6l-3.6 3.6M132.6 528.2v2.4M130.6 527.4l4 4m0 -4l-4 4M136 528.1v1.6M134.2 527.1l3.6 3.6m0 -3.6l-3.6 3.6M136 528.4v2.4M134 527.6l4 4m0 -4l-4 4M139.4 528.5v1.6M137.6 527.5l3.6 3.6m0 -3.6l-3.6 3.6M142.8 528.9v1.6M141 527.9l3.6 3.6m0 -3.6l-3.6 3.6M146.2 528.5v1.6M144.4 527.5l3.6 3.6m0 -3.6l-3.6 3.6M149.6 528.9v1.6M147.8 527.9l3.6 3.6m0 -3.6l-3.6 3.6M153 528.7v1.6M151.2 527.7l3.6 3.6m0 -3.6l-3.6 3.6M156.4 527.6v1.6M154.6 526.6l3.6 3.6m0 -3.6l-3.6 3.6M156.4 527.8v2.4M154.4 527l4 4m0 -4l-4 4M159.8 527.9v1.6M158 526.9l3.6 3.6m0 -3.6l-3.6 3.6M159.8 529v2.4M157.8 528.2l4 4m0 -4l-4 4M182.6 528.6v1.6M180.8 527.6l3.6 3.6m0 -3.6l-3.6 3.6M187.3 528.4v1.6M185.5 527.4l3.6 3.6m0 -3.6l-3.6 3.6M187.3 529.8v2.4M185.3 529l4 4m0 -4l-4 4M191.9 528.6v1.6M190.1 527.6l3.6 3.6m0 -3.6l-3.6 3.6M197.7 528.6v1.6M195.9 527.6l3.6 3.6m0 -3.6l-3.6 3.6M197.7 527.5v2.4M195.7 526.7l4 4m0 -4l-4 4M207.4 528.7v1.6M205.6 527.7l3.6 3.6m0 -3.6l-3.6 3.6M210.6 529v1.6M208.8 528l3.6 3.6m0 -3.6l-3.6 3.6M213.8 528.8v1.6M212 527.8l3.6 3.6m0 -3.6l-3.6 3.6M217 528.4v1.6M215.2 527.4l3.6 3.6m0 -3.6l-3.6 3.6M220.2 528.3v1.6M218.4 527.3l3.6 3.6m0 -3.6l-3.6 3.6M223.4 528.8v1.6M221.6 527.8l3.6 3.6m0 -3.6l-3.6 3.6M226.6 528.2v1.6M224.8 527.2l3.6 3.6m0 -3.6l-3.6 3.6M226.6 529.7v2.4M224.6 528.9l4 4m0 -4l-4 4M229.8 528.3v1.6M228 527.3l3.6 3.6m0 -3.6l-3.6 3.6M233 528.5v1.6M231.2 527.5l3.6 3.6m0 -3.6l-3.6 3.6M233 528.2v2.4M231 527.4l4 4m0 -4l-4 4M236.2 527.9v1.6M234.4 526.9l3.6 3.6m0 -3.6l-3.6 3.6M239.4 528.4v1.6M237.6 527.4l3.6 3.6m0 -3.6l-3.6 3.6M242.6 529v1.6M240.8 528l3.6 3.6m0 -3.6l-3.6 3.6M242.6 527.1v2.4M240.6 526.3l4 4m0 -4l-4 4M245.8 528.4v1.6M244 527.4l3.6 3.6m0 -3.6l-3.6 3.6M245.8 526.6v2.4M243.8 525.8l4 4m0 -4l-4 4M249 528.6v1.6M247.2 527.6l3.6 3.6m0 -3.6l-3.6 3.6M252.2 528.5v1.6M250.4 527.5l3.6 3.6m0 -3.6l-3.6 3.6M252.2 527.7v2.4M250.2 526.9l4 4m0 -4l-4 4M255.4 528.4v1.6M253.6 527.4l3.6 3.6m0 -3.6l-3.6 3.6M258.6 529.1v1.6M256.8 528.1l3.6 3.6m0 -3.6l-3.6 3.6M258.6 526.5v2.4M256.6 525.7l4 4m0 -4l-4 4M261.8 528.2v1.6M260 527.2l3.6 3.6m0 -3.6l-3.6 3.6M261.8 528.5v2.4M259.8 527.7l4 4m0 -4l-4 4M264.5 527.9v1.6M262.7 526.9l3.6 3.6m0 -3.6l-3.6 3.6M267.1 528.4v1.6M265.3 527.4l3.6 3.6m0 -3.6l-3.6 3.6M267.1 528v2.4M265.1 527.2l4 4m0 -4l-4 4M269.7 528.8v1.6M267.9 527.8l3.6 3.6m0 -3.6l-3.6 3.6M269.7 527.7v2.4M267.7 526.9l4 4m0 -4l-4 4M272.3 528.6v1.6M270.5 527.6l3.6 3.6m0 -3.6l-3.6 3.6M272.3 526.9v2.4M270.3 526.1l4 4m0 -4l-4 4M274.9 528.1v1.6M273.1 527.1l3.6 3.6m0 -3.6l-3.6 3.6M277.5 527.9v1.6M275.7 526.9l3.6 3.6m0 -3.6l-3.6 3.6M277.5 527.5v2.4M275.5 526.7l4 4m0 -4l-4 4M280.1 528.3v1.6M278.3 527.3l3.6 3.6m0 -3.6l-3.6 3.6M282.7 528v1.6M280.9 527l3.6 3.6m0 -3.6l-3.6 3.6M285.3 528v1.6M283.5 527l3.6 3.6m0 -3.6l-3.6 3.6M285.3 529v2.4M283.3 528.2l4 4m0 -4l-4 4M287.9 527.7v1.6M286.1 526.7l3.6 3.6m0 -3.6l-3.6 3.6M287.9 528.5v2.4M285.9 527.7l4 4m0 -4l-4 4M290.5 528.5v1.6M288.7 527.5l3.6 3.6m0 -3.6l-3.6 3.6M290.5 527.9v2.4M288.5 527.1l4 4m0 -4l-4 4M293.1 527.9v1.6M291.3 526.9l3.6 3.6m0 -3.6l-3.6 3.6M295.7 528.2v1.6M293.9 527.2l3.6 3.6m0 -3.6l-3.6 3.6M295.7 529.2v2.4M293.7 528.4l4 4m0 -4l-4 4M298.3 528.4v1.6M296.5 527.4l3.6 3.6m0 -3.6l-3.6 3.6M298.3 527.8v2.4M296.3 527l4 4m0 -4l-4 4M300.9 528.1v1.6M299.1 527.1l3.6 3.6m0 -3.6l-3.6 3.6M303.5 528.6v1.6M301.7 527.6l3.6 3.6m0 -3.6l-3.6 3.6M303.5 529.1v2.4M301.5 528.3l4 4m0 -4l-4 4M306.1 528.6v1.6M304.3 527.6l3.6 3.6m0 -3.6l-3.6 3.6M306.1 528.6v2.4M304.1 527.8l4 4m0 -4l-4 4M308.7 529v1.6M306.9 528l3.6 3.6m0 -3.6l-3.6 3.6M308.7 529.1v2.4M306.7 528.3l4 4m0 -4l-4 4M311.3 528.4v1.6M309.5 527.4l3.6 3.6m0 -3.6l-3.6 3.6M313.9 528.4v1.6M312.1 527.4l3.6 3.6m0 -3.6l-3.6 3.6M316.5 528.3v1.6M314.7 527.3l3.6 3.6m0 -3.6l-3.6 3.6M316.5 527.9v2.4M314.5 527.1l4 4m0 -4l-4 4M319.1 528.2v1.6M317.3 527.2l3.6 3.6m0 -3.6l-3.6 3.6M319.1 527v2.4M317.1 526.2l4 4m0 -4l-4 4M321.7 527.9v1.6M319.9 526.9l3.6 3.6m0 -3.6l-3.6 3.6M324.3 528.6v1.6M322.5 527.6l3.6 3.6m0 -3.6l-3.6 3.6M324.3 527.9v2.4M322.3 527.1l4 4m0 -4l-4 4M326.9 529v1.6M325.1 528l3.6 3.6m0 -3.6l-3.6 3.6M326.9 527.8v2.4M324.9 527l4 4m0 -4l-4 4M329.5 528.1v1.6M327.7 527.1l3.6 3.6m0 -3.6l-3.6 3.6M329.5 528.9v2.4M327.5 528.1l4 4m0 -4l-4 4M332.5 528.1v1.6M330.7 527.1l3.6 3.6m0 -3.6l-3.6 3.6M334.1 528.7v1.6M332.3 527.7l3.6 3.6m0 -3.6l-3.6 3.6M335.7 527.9v1.6M333.9 526.9l3.6 3.6m0 -3.6l-3.6 3.6M337.3 527.7v1.6M335.5 526.7l3.6 3.6m0 -3.6l-3.6 3.6M338.9 527.9v1.6M337.1 526.9l3.6 3.6m0 -3.6l-3.6 3.6M340.5 528.1v1.6M338.7 527.1l3.6 3.6m0 -3.6l-3.6 3.6M342.1 528.9v1.6M340.3 527.9l3.6 3.6m0 -3.6l-3.6 3.6M343.7 528.3v1.6M341.9 527.3l3.6 3.6m0 -3.6l-3.6 3.6M345.3 528.8v1.6M343.5 527.8l3.6 3.6m0 -3.6l-3.6 3.6M346.9 528.2v1.6M345.1 527.2l3.6 3.6m0 -3.6l-3.6 3.6M348.5 529.1v1.6M346.7 528.1l3.6 3.6m0 -3.6l-3.6 3.6M350.1 528.3v1.6M348.3 527.3l3.6 3.6m0 -3.6l-3.6 3.6M351.7 528.4v1.6M349.9 527.4l3.6 3.6m0 -3.6l-3.6 3.6M353.3 529.1v1.6M351.5 528.1l3.6 3.6m0 -3.6l-3.6 3.6M354.9 528.5v1.6M353.1 527.5l3.6 3.6m0 -3.6l-3.6 3.6M356.5 528.5v1.6M354.7 527.5l3.6 3.6m0 -3.6l-3.6 3.6M358.1 528.6v1.6M356.3 527.6l3.6 3.6m0 -3.6l-3.6 3.6M359.7 528.2v1.6M357.9 527.2l3.6 3.6m0 -3.6l-3.6 3.6M361.3 528.3v1.6M359.5 527.3l3.6 3.6m0 -3.6l-3.6 3.6M362.9 528.9v1.6M361.1 527.9l3.6 3.6m0 -3.6l-3.6 3.6M364.5 528.6v1.6M362.7 527.6l3.6 3.6m0 -3.6l-3.6 3.6M366.1 528.5v1.6M364.3 527.5l3.6 3.6m0 -3.6l-3.6 3.6M367.7 528.4v1.6M365.9 527.4l3.6 3.6m0 -3.6l-3.6 3.6M369.3 528v1.6M367.5 527l3.6 3.6m0 -3.6l-3.6 3.6M370.9 528.4v1.6M369.1 527.4l3.6 3.6m0 -3.6l-3.6 3.6M372.5 528.3v1.6M370.7 527.3l3.6 3.6m0 -3.6l-3.6 3.6M374.1 528.6v1.6M372.3 527.6l3.6 3.6m0 -3.6l-3.6 3.6M375.7 528.6v1.6M373.9 527.6l3.6 3.6m0 -3.6l-3.6 3.6M377.3 528.6v1.6M375.5 527.6l3.6 3.6m0 -3.6l-3.6 3.6M378.9 528.6v1.6M377.1 527.6l3.6 3.6m0 -3.6l-3.6 3.6M380.5 528.8v1.6M378.7 527.8l3.6 3.6m0 -3.6l-3.6 3.6M382.1 527.9v1.6M380.3 526.9l3.6 3.6m0 -3.6l-3.6 3.6M383.7 528v1.6M381.9 527l3.6 3.6m0 -3.6l-3.6 3.6M385.3 529.1v1.6M383.5 528.1l3.6 3.6m0 -3.6l-3.6 3.6M386.9 528.2v1.6M385.1 527.2l3.6 3.6m0 -3.6l-3.6 3.6M388.5 528.5v1.6M386.7 527.5l3.6 3.6m0 -3.6l-3.6 3.6M390.1 528.3v1.6M388.3 527.3l3.6 3.6m0 -3.6l-3.6 3.6M391.7 528.4v1.6M389.9 527.4l3.6 3.6m0 -3.6l-3.6 3.6M393.3 528.5v1.6M391.5 527.5l3.6 3.6m0 -3.6l-3.6 3.6M394.9 528.2v1.6M393.1 527.2l3.6 3.6m0 -3.6l-3.6 3.6M396.5 528.4v1.6M394.7 527.4l3.6 3.6m0 -3.6l-3.6 3.6M398.1 528.3v1.6M396.3 527.3l3.6 3.6m0 -3.6l-3.6 3.6M399.7 528.9v1.6M397.9 527.9l3.6 3.6m0 -3.6l-3.6 3.6M401.3 528.8v1.6M399.5 527.8l3.6 3.6m0 -3.6l-3.6 3.6M402.9 528.8v1.6M401.1 527.8l3.6 3.6m0 -3.6l-3.6 3.6M404.5 529.1v1.6M402.7 528.1l3.6 3.6m0 -3.6l-3.6 3.6M406.1 528.5v1.6M404.3 527.5l3.6 3.6m0 -3.6l-3.6 3.6M407.7 528.1v1.6M405.9 527.1l3.6 3.6m0 -3.6l-3.6 3.6M409.3 528.2v1.6M407.5 527.2l3.6 3.6m0 -3.6l-3.6 3.6M410.9 528.8v1.6M409.1 527.8l3.6 3.6m0 -3.6l-3.6 3.6M412.5 528.3v1.6M410.7 527.3l3.6 3.6m0 -3.6l-3.6 3.6M414.1 528.6v1.6M412.3 527.6l3.6 3.6m0 -3.6l-3.6 3.6M415.7 528v1.6M413.9 527l3.6 3.6m0 -3.6l-3.6 3.6M417.3 528.3v1.6M415.5 527.3l3.6 3.6m0 -3.6l-3.6 3.6M418.9 528.9v1.6M417.1 527.9l3.6 3.6m0 -3.6l-3.6 3.6M420.5 528.2v1.6M418.7 527.2l3.6 3.6m0 -3.6l-3.6 3.6M422.1 528.5v1.6M420.3 527.5l3.6 3.6m0 -3.6l-3.6 3.6M423.7 528v1.6M421.9 527l3.6 3.6m0 -3.6l-3.6 3.6M425.3 528.1v1.6M423.5 527.1l3.6 3.6m0 -3.6l-3.6 3.6M426.9 528.3v1.6M425.1 527.3l3.6 3.6m0 -3.6l-3.6 3.6M428.5 527.9v1.6M426.7 526.9l3.6 3.6m0 -3.6l-3.6 3.6M430.1 528.3v1.6M428.3 527.3l3.6 3.6m0 -3.6l-3.6 3.6M431.7 528.8v1.6M429.9 527.8l3.6 3.6m0 -3.6l-3.6 3.6M433.3 528.2v1.6M431.5 527.2l3.6 3.6m0 -3.6l-3.6 3.6M434.9 528.6v1.6M433.1 527.6l3.6 3.6m0 -3.6l-3.6 3.6M436.5 528.6v1.6M434.7 527.6l3.6 3.6m0 -3.6l-3.6 3.6M438.1 528.4v1.6M436.3 527.4l3.6 3.6m0 -3.6l-3.6 3.6M439.7 528.3v1.6M437.9 527.3l3.6 3.6m0 -3.6l-3.6 3.6M441.3 528.8v1.6M439.5 527.8l3.6 3.6m0 -3.6l-3.6 3.6M442.9 528.2v1.6M441.1 527.2l3.6 3.6m0 -3.6l-3.6 3.6M444.5 528.5v1.6M442.7 527.5l3.6 3.6m0 -3.6l-3.6 3.6M446.1 528.6v1.6M444.3 527.6l3.6 3.6m0 -3.6l-3.6 3.6M447.7 528.3v1.6M445.9 527.3l3.6 3.6m0 -3.6l-3.6 3.6M449.3 528.7v1.6M447.5 527.7l3.6 3.6m0 -3.6l-3.6 3.6M450.9 528.7v1.6M449.1 527.7l3.6 3.6m0 -3.6l-3.6 3.6M452.5 528.6v1.6M450.7 527.6l3.6 3.6m0 -3.6l-3.6 3.6M454.1 528.9v1.6M452.3 527.9l3.6 3.6m0 -3.6l-3.6 3.6M455.7 528.3v1.6M453.9 527.3l3.6 3.6m0 -3.6l-3.6 3.6M457.3 528.4v1.6M455.5 527.4l3.6 3.6m0 -3.6l-3.6 3.6M458.9 528.5v1.6M457.1 527.5l3.6 3.6m0 -3.6l-3.6 3.6M460.5 528.7v1.6M458.7 527.7l3.6 3.6m0 -3.6l-3.6 3.6M462.1 528.5v1.6M460.3 527.5l3.6 3.6m0 -3.6l-3.6 3.6M463.7 528.1v1.6M461.9 527.1l3.6 3.6m0 -3.6l-3.6 3.6M465.3 528.3v1.6M463.5 527.3l3.6 3.6m0 -3.6l-3.6 3.6M466.9 528.2v1.6M465.1 527.2l3.6 3.6m0 -3.6l-3.6 3.6M468.5 528.2v1.6M466.7 527.2l3.6 3.6m0 -3.6l-3.6 3.6M470.1 528.5v1.6M468.3 527.5l3.6 3.6m0 -3.6l-3.6 3.6M471.7 528.7v1.6M469.9 527.7l3.6 3.6m0 -3.6l-3.6 3.6M473.3 528.6v1.6M471.5 527.6l3.6 3.6m0 -3.6l-3.6 3.6M474.9 528.5v1.6M473.1 527.5l3.6 3.6m0 -3.6l-3.6 3.6M476.5 528v1.6M474.7 527l3.6 3.6m0 -3.6l-3.6 3.6M478.1 528.2v1.6M476.3 527.2l3.6 3.6m0 -3.6l-3.6 3.6M479.7 528.5v1.6M477.9 527.5l3.6 3.6m0 -3.6l-3.6 3.6M481.3 527.8v1.6M479.5 526.8l3.6 3.6m0 -3.6l-3.6 3.6M482.9 528.5v1.6M481.1 527.5l3.6 3.6m0 -3.6l-3.6 3.6M484.5 528.3v1.6M482.7 527.3l3.6 3.6m0 -3.6l-3.6 3.6M486.1 528.6v1.6M484.3 527.6l3.6 3.6m0 -3.6l-3.6 3.6M487.7 528.5v1.6M485.9 527.5l3.6 3.6m0 -3.6l-3.6 3.6M489.3 528.4v1.6M487.5 527.4l3.6 3.6m0 -3.6l-3.6 3.6M490.9 528.5v1.6M489.1 527.5l3.6 3.6m0 -3.6l-3.6 3.6M492.5 528v1.6M490.7 527l3.6 3.6m0 -3.6l-3.6 3.6M494.1 529v1.6M492.3 528l3.6 3.6m0 -3.6l-3.6 3.6M495.7 528.2v1.6M493.9 527.2l3.6 3.6m0 -3.6l-3.6 3.6M497.3 528.7v1.6M495.5 527.7l3.6 3.6m0 -3.6l-3.6 3.6M498.9 528.4v1.6M497.1 527.4l3.6 3.6m0 -3.6l-3.6 3.6M500.5 528.1v1.6M498.7 527.1l3.6 3.6m0 -3.6l-3.6 3.6M502.1 528.2v1.6M500.3 527.2l3.6 3.6m0 -3.6l-3.6 3.6M503.7 528v1.6M501.9 527l3.6 3.6m0 -3.6l-3.6 3.6M505.3 528.2v1.6M503.5 527.2l3.6 3.6m0 -3.6l-3.6 3.6M506.9 528.3v1.6M505.1 527.3l3.6 3.6m0 -3.6l-3.6 3.6M508.5 528.9v1.6M506.7 527.9l3.6 3.6m0 -3.6l-3.6 3.6M510.1 528.5v1.6M508.3 527.5l3.6 3.6m0 -3.6l-3.6 3.6M511.7 528.5v1.6M509.9 527.5l3.6 3.6m0 -3.6l-3.6 3.6M513.3 529.1v1.6M511.5 528.1l3.6 3.6m0 -3.6l-3.6 3.6M514.9 528.3v1.6M513.1 527.3l3.6 3.6m0 -3.6l-3.6 3.6M516.5 529.1v1.6M514.7 528.1l3.6 3.6m0 -3.6l-3.6 3.6M518.1 528.3v1.6M516.3 527.3l3.6 3.6m0 -3.6l-3.6 3.6M519.7 528.2v1.6M517.9 527.2l3.6 3.6m0 -3.6l-3.6 3.6M521.3 528.6v1.6M519.5 527.6l3.6 3.6m0 -3.6l-3.6 3.6M522.9 528.1v1.6M521.1 527.1l3.6 3.6m0 -3.6l-3.6 3.6M524.5 528.8v1.6M522.7 527.8l3.6 3.6m0 -3.6l-3.6 3.6M526.1 528.7v1.6M524.3 527.7l3.6 3.6m0 -3.6l-3.6 3.6M527.7 528.7v1.6M525.9 527.7l3.6 3.6m0 -3.6l-3.6 3.6M529.3 528.7v1.6M527.5 527.7l3.6 3.6m0 -3.6l-3.6 3.6M530.9 528.4v1.6M529.1 527.4l3.6 3.6m0 -3.6l-3.6 3.6M532.5 528.7v1.6M530.7 527.7l3.6 3.6m0 -3.6l-3.6 3.6M534.1 528.9v1.6M532.3 527.9l3.6 3.6m0 -3.6l-3.6 3.6M535.7 528.5v1.6M533.9 527.5l3.6 3.6m0 -3.6l-3.6 3.6M537.3 528.8v1.6M535.5 527.8l3.6 3.6m0 -3.6l-3.6 3.6M538.9 528.2v1.6M537.1 527.2l3.6 3.6m0 -3.6l-3.6 3.6M540.5 528.3v1.6M538.7 527.3l3.6 3.6m0 -3.6l-3.6 3.6M542.1 527.9v1.6M540.3 526.9l3.6 3.6m0 -3.6l-3.6 3.6M543.7 528.2v1.6M541.9 527.2l3.6 3.6m0 -3.6l-3.6 3.6M545.3 528.2v1.6M543.5 527.2l3.6 3.6m0 -3.6l-3.6 3.6M546.9 528.2v1.6M545.1 527.2l3.6 3.6m0 -3.6l-3.6 3.6M548.5 528.1v1.6M546.7 527.1l3.6 3.6m0 -3.6l-3.6 3.6M550.1 527.8v1.6M548.3 526.8l3.6 3.6m0 -3.6l-3.6 3.6M551.7 528.6v1.6M549.9 527.6l3.6 3.6m0 -3.6l-3.6 3.6M553.3 528.3v1.6M551.5 527.3l3.6 3.6m0 -3.6l-3.6 3.6M554.9 527.7v1.6M553.1 526.7l3.6 3.6m0 -3.6l-3.6 3.6M556.5 528.7v1.6M554.7 527.7l3.6 3.6m0 -3.6l-3.6 3.6M558.1 527.5v1.6M556.3 526.5l3.6 3.6m0 -3.6l-3.6 3.6M559.7 527.8v1.6M557.9 526.8l3.6 3.6m0 -3.6l-3.6 3.6M561.3 528.2v1.6M559.5 527.2l3.6 3.6m0 -3.6l-3.6 3.6M562.9 528.5v1.6M561.1 527.5l3.6 3.6m0 -3.6l-3.6 3.6M564.5 528.4v1.6M562.7 527.4l3.6 3.6m0 -3.6l-3.6 3.6M566.1 528v1.6M564.3 527l3.6 3.6m0 -3.6l-3.6 3.6M567.7 528.7v1.6M565.9 527.7l3.6 3.6m0 -3.6l-3.6 3.6M569.3 528.6v1.6M567.5 527.6l3.6 3.6m0 -3.6l-3.6 3.6M570.9 528.7v1.6M569.1 527.7l3.6 3.6m0 -3.6l-3.6 3.6M572.5 528.2v1.6M570.7 527.2l3.6 3.6m0 -3.6l-3.6 3.6M574.1 528v1.6M572.3 527l3.6 3.6m0 -3.6l-3.6 3.6M575.7 528.2v1.6M573.9 527.2l3.6 3.6m0 -3.6l-3.6 3.6M577.3 528.7v1.6M575.5 527.7l3.6 3.6m0 -3.6l-3.6 3.6M578.9 528.8v1.6M577.1 527.8l3.6 3.6m0 -3.6l-3.6 3.6M580.5 528.5v1.6M578.7 527.5l3.6 3.6m0 -3.6l-3.6 3.6M582.1 528.4v1.6M580.3 527.4l3.6 3.6m0 -3.6l-3.6 3.6M583.7 528.2v1.6M581.9 527.2l3.6 3.6m0 -3.6l-3.6 3.6M585.3 528.3v1.6M583.5 527.3l3.6 3.6m0 -3.6l-3.6 3.6M586.9 528.6v1.6M585.1 527.6l3.6 3.6m0 -3.6l-3.6 3.6M588.5 528.7v1.6M586.7 527.7l3.6 3.6m0 -3.6l-3.6 3.6M590.1 527.9v1.6M588.3 526.9l3.6 3.6m0 -3.6l-3.6 3.6M591.7 527.8v1.6M589.9 526.8l3.6 3.6m0 -3.6l-3.6 3.6M593.3 528.4v1.6M591.5 527.4l3.6 3.6m0 -3.6l-3.6 3.6M594.9 528.7v1.6M593.1 527.7l3.6 3.6m0 -3.6l-3.6 3.6M596.5 528.1v1.6M594.7 527.1l3.6 3.6m0 -3.6l-3.6 3.6M598.1 529v1.6M596.3 528l3.6 3.6m0 -3.6l-3.6 3.6M599.7 528.4v1.6M597.9 527.4l3.6 3.6m0 -3.6l-3.6 3.6M601.3 528.6v1.6M599.5 527.6l3.6 3.6m0 -3.6l-3.6 3.6M602.9 528.3v1.6M601.1 527.3l3.6 3.6m0 -3.6l-3.6 3.6M604.5 528.9v1.6M602.7 527.9l3.6 3.6m0 -3.6l-3.6 3.6M606.1 528.4v1.6M604.3 527.4l3.6 3.6m0 -3.6l-3.6 3.6M607.7 528.4v1.6M605.9 527.4l3.6 3.6m0 -3.6l-3.6 3.6M609.3 528.8v1.6M607.5 527.8l3.6 3.6m0 -3.6l-3.6 3.6M610.9 528.4v1.6M609.1 527.4l3.6 3.6m0 -3.6l-3.6 3.6M612.5 528.9v1.6M610.7 527.9l3.6 3.6m0 -3.6l-3.6 3.6M614.1 528v1.6M612.3 527l3.6 3.6m0 -3.6l-3.6 3.6M615.7 528.2v1.6M613.9 527.2l3.6 3.6m0 -3.6l-3.6 3.6M617.3 528.5v1.6M615.5 527.5l3.6 3.6m0 -3.6l-3.6 3.6M618.9 528.5v1.6M617.1 527.5l3.6 3.6m0 -3.6l-3.6 3.6M620.5 528.3v1.6M618.7 527.3l3.6 3.6m0 -3.6l-3.6 3.6M622.1 528.8v1.6M620.3 527.8l3.6 3.6m0 -3.6l-3.6 3.6M623.7 528.5v1.6M621.9 527.5l3.6 3.6m0 -3.6l-3.6 3.6M79.6 529v32M77.6 543l4 4m0 -4l-4 4" stroke="#61C853" stroke-width="0.8" fill="none" opacity="0.8"/>
<path d="M79 526.8v3M77 526.3l4 4m0 -4l-4 4M81.3 527.9v3M79.3 527.4l4 4m0 -4l-4 4M86.4 525.2v3M84.4 524.7l4 4m0 -4l-4 4M86.9 528.1v3M84.9 527.6l4 4m0 -4l-4 4M93.4 530.9v3M91.4 530.4l4 4m0 -4l-4 4M96.2 529.8v3M94.2 529.3l4 4m0 -4l-4 4M99.2 530.1v3M97.2 529.6l4 4m0 -4l-4 4M112.4 528.6v3M110.4 528.1l4 4m0 -4l-4 4M115.4 527.8v3M113.4 527.3l4 4m0 -4l-4 4M125.8 525.3v4.4M123.8 525.5l4 4m0 -4l-4 4M129.2 529.1v4.4M127.2 529.3l4 4m0 -4l-4 4M132.6 523.9v4.4M130.6 524.1l4 4m0 -4l-4 4M136 520.4v4.4M134 520.6l4 4m0 -4l-4 4M139.4 527.7v4.4M137.4 527.9l4 4m0 -4l-4 4M142.8 526.1v4.4M140.8 526.3l4 4m0 -4l-4 4M146.2 523.8v4.4M144.2 524l4 4m0 -4l-4 4M149.6 524.1v4.4M147.6 524.3l4 4m0 -4l-4 4M153 528.3v4.4M151 528.5l4 4m0 -4l-4 4M156.4 526.7v4.4M154.4 526.9l4 4m0 -4l-4 4M159.8 530v4.4M157.8 530.2l4 4m0 -4l-4 4M182.6 525.2v4.4M180.6 525.4l4 4m0 -4l-4 4M187.3 529.8v4.4M185.3 530l4 4m0 -4l-4 4M191.9 525.7v4.4M189.9 525.9l4 4m0 -4l-4 4M197.7 525.6v4.4M195.7 525.8l4 4m0 -4l-4 4M207.4 530.1v4.4M205.4 530.3l4 4m0 -4l-4 4M210.6 525v4.4M208.6 525.2l4 4m0 -4l-4 4M213.8 530.4v4.4M211.8 530.6l4 4m0 -4l-4 4M217 525.2v4.4M215 525.4l4 4m0 -4l-4 4M220.2 530.8v4.4M218.2 531l4 4m0 -4l-4 4M223.4 527.4v4.4M221.4 527.6l4 4m0 -4l-4 4M226.6 529.8v4.4M224.6 530l4 4m0 -4l-4 4M229.8 521.1v4.4M227.8 521.3l4 4m0 -4l-4 4M233 529.1v4.4M231 529.3l4 4m0 -4l-4 4M236.2 532.6v4.4M234.2 532.8l4 4m0 -4l-4 4M239.4 523.4v4.4M237.4 523.6l4 4m0 -4l-4 4M242.6 527.4v4.4M240.6 527.6l4 4m0 -4l-4 4M245.8 528.7v4.4M243.8 528.9l4 4m0 -4l-4 4M249 527.6v4.4M247 527.8l4 4m0 -4l-4 4M252.2 527.7v4.4M250.2 527.9l4 4m0 -4l-4 4M255.4 530.4v4.4M253.4 530.6l4 4m0 -4l-4 4M258.6 529.1v4.4M256.6 529.3l4 4m0 -4l-4 4M261.8 529.2v4.4M259.8 529.4l4 4m0 -4l-4 4M264.5 522.8v4.4M262.5 523l4 4m0 -4l-4 4M267.1 528.8v4.4M265.1 529l4 4m0 -4l-4 4M269.7 525.4v4.4M267.7 525.6l4 4m0 -4l-4 4M272.3 522.8v4.4M270.3 523l4 4m0 -4l-4 4M274.9 523.5v4.4M272.9 523.7l4 4m0 -4l-4 4M277.5 527.9v4.4M275.5 528.1l4 4m0 -4l-4 4M280.1 527.5v4.4M278.1 527.7l4 4m0 -4l-4 4M282.7 524.5v4.4M280.7 524.7l4 4m0 -4l-4 4M285.3 528.8v4.4M283.3 529l4 4m0 -4l-4 4M287.9 530.9v4.4M285.9 531.1l4 4m0 -4l-4 4M290.5 523.6v4.4M288.5 523.8l4 4m0 -4l-4 4M293.1 521.7v4.4M291.1 521.9l4 4m0 -4l-4 4M295.7 526.9v4.4M293.7 527.1l4 4m0 -4l-4 4M298.3 528.8v4.4M296.3 529l4 4m0 -4l-4 4M300.9 528.2v4.4M298.9 528.4l4 4m0 -4l-4 4M303.5 523.9v4.4M301.5 524.1l4 4m0 -4l-4 4M306.1 527v4.4M304.1 527.2l4 4m0 -4l-4 4M308.7 527.2v4.4M306.7 527.4l4 4m0 -4l-4 4M311.3 521.1v4.4M309.3 521.3l4 4m0 -4l-4 4M313.9 528.6v4.4M311.9 528.8l4 4m0 -4l-4 4M316.5 524.2v4.4M314.5 524.4l4 4m0 -4l-4 4M319.1 525.6v4.4M317.1 525.8l4 4m0 -4l-4 4M321.7 529.3v4.4M319.7 529.5l4 4m0 -4l-4 4M324.3 524.4v4.4M322.3 524.6l4 4m0 -4l-4 4M326.9 529.4v4.4M324.9 529.6l4 4m0 -4l-4 4M329.5 525.1v4.4M327.5 525.3l4 4m0 -4l-4 4M332.5 528.5v4.6M330.5 528.8l4 4m0 -4l-4 4M335.7 528.8v4.6M333.7 529.1l4 4m0 -4l-4 4M346.9 522.7v4.6M344.9 523l4 4m0 -4l-4 4M367.7 527.9v4.6M365.7 528.2l4 4m0 -4l-4 4M374.1 526.1v4.6M372.1 526.4l4 4m0 -4l-4 4M383.7 527.9v4.6M381.7 528.2l4 4m0 -4l-4 4M385.3 526.2v4.6M383.3 526.5l4 4m0 -4l-4 4M394.9 526v4.6M392.9 526.3l4 4m0 -4l-4 4M398.1 518.4v4.6M396.1 518.7l4 4m0 -4l-4 4M401.3 531.2v4.6M399.3 531.5l4 4m0 -4l-4 4M402.9 523.8v4.6M400.9 524.1l4 4m0 -4l-4 4M412.5 521.7v4.6M410.5 522l4 4m0 -4l-4 4M417.3 526.4v4.6M415.3 526.7l4 4m0 -4l-4 4M418.9 526.8v4.6M416.9 527.1l4 4m0 -4l-4 4M423.7 534.6v4.6M421.7 534.9l4 4m0 -4l-4 4M434.9 525.7v4.6M432.9 526l4 4m0 -4l-4 4M446.1 525.6v4.6M444.1 525.9l4 4m0 -4l-4 4M450.9 531.2v4.6M448.9 531.5l4 4m0 -4l-4 4M458.9 523.9v4.6M456.9 524.2l4 4m0 -4l-4 4M460.5 528.6v4.6M458.5 528.9l4 4m0 -4l-4 4M481.3 527.8v4.6M479.3 528.1l4 4m0 -4l-4 4M484.5 528.1v4.6M482.5 528.4l4 4m0 -4l-4 4M486.1 525.6v4.6M484.1 525.9l4 4m0 -4l-4 4M489.3 527.7v4.6M487.3 528l4 4m0 -4l-4 4M490.9 529.7v4.6M488.9 530l4 4m0 -4l-4 4M492.5 528.2v4.6M490.5 528.5l4 4m0 -4l-4 4M497.3 529.2v4.6M495.3 529.5l4 4m0 -4l-4 4M503.7 530.4v4.6M501.7 530.7l4 4m0 -4l-4 4M506.9 526.7v4.6M504.9 527l4 4m0 -4l-4 4M508.5 523.5v4.6M506.5 523.8l4 4m0 -4l-4 4M511.7 528.3v4.6M509.7 528.6l4 4m0 -4l-4 4M514.9 526v4.6M512.9 526.3l4 4m0 -4l-4 4M518.1 528.5v4.6M516.1 528.8l4 4m0 -4l-4 4M519.7 527.3v4.6M517.7 527.6l4 4m0 -4l-4 4M527.7 525.9v4.6M525.7 526.2l4 4m0 -4l-4 4M529.3 527.2v4.6M527.3 527.5l4 4m0 -4l-4 4M532.5 519.6v4.6M530.5 519.9l4 4m0 -4l-4 4M537.3 526v4.6M535.3 526.3l4 4m0 -4l-4 4M542.1 528.6v4.6M540.1 528.9l4 4m0 -4l-4 4M548.5 527v4.6M546.5 527.3l4 4m0 -4l-4 4M553.3 524.9v4.6M551.3 525.2l4 4m0 -4l-4 4M554.9 532v4.6M552.9 532.3l4 4m0 -4l-4 4M556.5 528.6v4.6M554.5 528.9l4 4m0 -4l-4 4M561.3 535.5v4.6M559.3 535.8l4 4m0 -4l-4 4M564.5 526.7v4.6M562.5 527l4 4m0 -4l-4 4M569.3 530.1v4.6M567.3 530.4l4 4m0 -4l-4 4M570.9 532.8v4.6M568.9 533.1l4 4m0 -4l-4 4M577.3 528.4v4.6M575.3 528.7l4 4m0 -4l-4 4M578.9 527.9v4.6M576.9 528.2l4 4m0 -4l-4 4M580.5 524.4v4.6M578.5 524.7l4 4m0 -4l-4 4M588.5 530.5v4.6M586.5 530.8l4 4m0 -4l-4 4M590.1 527.6v4.6M588.1 527.9l4 4m0 -4l-4 4M591.7 526.6v4.6M589.7 526.9l4 4m0 -4l-4 4M596.5 522.6v4.6M594.5 522.9l4 4m0 -4l-4 4M601.3 524.4v4.6M599.3 524.7l4 4m0 -4l-4 4M602.9 528.9v4.6M600.9 529.2l4 4m0 -4l-4 4M618.9 523.5v4.6M616.9 523.8l4 4m0 -4l-4 4M548.5 518.7v6M546.5 519.7l4 4m0 -4l-4 4M88.5 538v6M86.5 539l4 4m0 -4l-4 4M559.8 535.2v8M557.8 537.2l4 4m0 -4l-4 4" stroke="#407BD5" stroke-width="0.8" fill="none" opacity="0.8"/>
<path d="M129.2 522v4.4M127.2 522.2l4 4m0 -4l-4 4M132.6 525.2v4.4M130.6 525.4l4 4m0 -4l-4 4M136 527.7v4.4M134 527.9l4 4m0 -4l-4 4M142.8 530.1v4.4M140.8 530.3l4 4m0 -4l-4 4M153 528.6v4.4M151 528.8l4 4m0 -4l-4 4M156.4 526.4v4.4M154.4 526.6l4 4m0 -4l-4 4M187.3 524.1v4.4M185.3 524.3l4 4m0 -4l-4 4M207.4 525.5v4.4M205.4 525.7l4 4m0 -4l-4 4M217 527.3v4.4M215 527.5l4 4m0 -4l-4 4M223.4 529.4v4.4M221.4 529.6l4 4m0 -4l-4 4M233 526v4.4M231 526.2l4 4m0 -4l-4 4M242.6 525.2v4.4M240.6 525.4l4 4m0 -4l-4 4M249 526v4.4M247 526.2l4 4m0 -4l-4 4M252.2 530.9v4.4M250.2 531.1l4 4m0 -4l-4 4M258.6 526.5v4.4M256.6 526.7l4 4m0 -4l-4 4M261.8 523.2v4.4M259.8 523.4l4 4m0 -4l-4 4M274.9 528.3v4.4M272.9 528.5l4 4m0 -4l-4 4M277.5 528.7v4.4M275.5 528.9l4 4m0 -4l-4 4M280.1 522.5v4.4M278.1 522.7l4 4m0 -4l-4 4M282.7 533.6v4.4M280.7 533.8l4 4m0 -4l-4 4M285.3 526.5v4.4M283.3 526.7l4 4m0 -4l-4 4M290.5 528.3v4.4M288.5 528.5l4 4m0 -4l-4 4M300.9 525.9v4.4M298.9 526.1l4 4m0 -4l-4 4M306.1 529.1v4.4M304.1 529.3l4 4m0 -4l-4 4M308.7 528.5v4.4M306.7 528.7l4 4m0 -4l-4 4M319.1 525.5v4.4M317.1 525.7l4 4m0 -4l-4 4M321.7 527.3v4.4M319.7 527.5l4 4m0 -4l-4 4M332.5 527.3v4.6M330.5 527.6l4 4m0 -4l-4 4M337.3 526.5v4.6M335.3 526.8l4 4m0 -4l-4 4M338.9 523.7v4.6M336.9 524l4 4m0 -4l-4 4M342.1 522.9v4.6M340.1 523.2l4 4m0 -4l-4 4M343.7 530.9v4.6M341.7 531.2l4 4m0 -4l-4 4M346.9 526.5v4.6M344.9 526.8l4 4m0 -4l-4 4M348.5 529.1v4.6M346.5 529.4l4 4m0 -4l-4 4M350.1 527.6v4.6M348.1 527.9l4 4m0 -4l-4 4M353.3 528.5v4.6M351.3 528.8l4 4m0 -4l-4 4M356.5 522.4v4.6M354.5 522.7l4 4m0 -4l-4 4M358.1 522.6v4.6M356.1 522.9l4 4m0 -4l-4 4M359.7 527.1v4.6M357.7 527.4l4 4m0 -4l-4 4M361.3 521.2v4.6M359.3 521.5l4 4m0 -4l-4 4M362.9 528.2v4.6M360.9 528.5l4 4m0 -4l-4 4M364.5 528.5v4.6M362.5 528.8l4 4m0 -4l-4 4M366.1 526.3v4.6M364.1 526.6l4 4m0 -4l-4 4M367.7 528.4v4.6M365.7 528.7l4 4m0 -4l-4 4M369.3 527.2v4.6M367.3 527.5l4 4m0 -4l-4 4M370.9 528.8v4.6M368.9 529.1l4 4m0 -4l-4 4M372.5 529.9v4.6M370.5 530.2l4 4m0 -4l-4 4M374.1 520v4.6M372.1 520.3l4 4m0 -4l-4 4M375.7 529.4v4.6M373.7 529.7l4 4m0 -4l-4 4M377.3 531v4.6M375.3 531.3l4 4m0 -4l-4 4M378.9 529.5v4.6M376.9 529.8l4 4m0 -4l-4 4M380.5 529.1v4.6M378.5 529.4l4 4m0 -4l-4 4M382.1 528.6v4.6M380.1 528.9l4 4m0 -4l-4 4M385.3 529.1v4.6M383.3 529.4l4 4m0 -4l-4 4M388.5 523.8v4.6M386.5 524.1l4 4m0 -4l-4 4M390.1 530.4v4.6M388.1 530.7l4 4m0 -4l-4 4M391.7 531.5v4.6M389.7 531.8l4 4m0 -4l-4 4M393.3 525.1v4.6M391.3 525.4l4 4m0 -4l-4 4M394.9 526.5v4.6M392.9 526.8l4 4m0 -4l-4 4M396.5 526.9v4.6M394.5 527.2l4 4m0 -4l-4 4M404.5 527.4v4.6M402.5 527.7l4 4m0 -4l-4 4M407.7 527.7v4.6M405.7 528l4 4m0 -4l-4 4M410.9 522.6v4.6M408.9 522.9l4 4m0 -4l-4 4M412.5 526.5v4.6M410.5 526.8l4 4m0 -4l-4 4M414.1 531.3v4.6M412.1 531.6l4 4m0 -4l-4 4M415.7 527.2v4.6M413.7 527.5l4 4m0 -4l-4 4M418.9 525v4.6M416.9 525.3l4 4m0 -4l-4 4M420.5 529.9v4.6M418.5 530.2l4 4m0 -4l-4 4M422.1 526.1v4.6M420.1 526.4l4 4m0 -4l-4 4M423.7 529.4v4.6M421.7 529.7l4 4m0 -4l-4 4M425.3 521.3v4.6M423.3 521.6l4 4m0 -4l-4 4M426.9 528.7v4.6M424.9 529l4 4m0 -4l-4 4M430.1 530.7v4.6M428.1 531l4 4m0 -4l-4 4M431.7 524.2v4.6M429.7 524.5l4 4m0 -4l-4 4M433.3 525.8v4.6M431.3 526.1l4 4m0 -4l-4 4M434.9 522.4v4.6M432.9 522.7l4 4m0 -4l-4 4M436.5 527.8v4.6M434.5 528.1l4 4m0 -4l-4 4M438.1 528v4.6M436.1 528.3l4 4m0 -4l-4 4M439.7 528.5v4.6M437.7 528.8l4 4m0 -4l-4 4M441.3 526.3v4.6M439.3 526.6l4 4m0 -4l-4 4M442.9 524.6v4.6M440.9 524.9l4 4m0 -4l-4 4M444.5 528.2v4.6M442.5 528.5l4 4m0 -4l-4 4M446.1 525.7v4.6M444.1 526l4 4m0 -4l-4 4M447.7 522.4v4.6M445.7 522.7l4 4m0 -4l-4 4M450.9 525.8v4.6M448.9 526.1l4 4m0 -4l-4 4M454.1 530.1v4.6M452.1 530.4l4 4m0 -4l-4 4M455.7 522v4.6M453.7 522.3l4 4m0 -4l-4 4M457.3 528v4.6M455.3 528.3l4 4m0 -4l-4 4M458.9 527.3v4.6M456.9 527.6l4 4m0 -4l-4 4M460.5 525v4.6M458.5 525.3l4 4m0 -4l-4 4M462.1 529.7v4.6M460.1 530l4 4m0 -4l-4 4M463.7 528.6v4.6M461.7 528.9l4 4m0 -4l-4 4M465.3 528.1v4.6M463.3 528.4l4 4m0 -4l-4 4M466.9 525.7v4.6M464.9 526l4 4m0 -4l-4 4M470.1 532v4.6M468.1 532.3l4 4m0 -4l-4 4M471.7 522.1v4.6M469.7 522.4l4 4m0 -4l-4 4M473.3 524.7v4.6M471.3 525l4 4m0 -4l-4 4M474.9 523.8v4.6M472.9 524.1l4 4m0 -4l-4 4M476.5 523.1v4.6M474.5 523.4l4 4m0 -4l-4 4M478.1 525.8v4.6M476.1 526.1l4 4m0 -4l-4 4M479.7 524.7v4.6M477.7 525l4 4m0 -4l-4 4M481.3 528v4.6M479.3 528.3l4 4m0 -4l-4 4M482.9 525.2v4.6M480.9 525.5l4 4m0 -4l-4 4M486.1 524.4v4.6M484.1 524.7l4 4m0 -4l-4 4M487.7 521.1v4.6M485.7 521.4l4 4m0 -4l-4 4M489.3 532v4.6M487.3 532.3l4 4m0 -4l-4 4M490.9 527.7v4.6M488.9 528l4 4m0 -4l-4 4M494.1 527.1v4.6M492.1 527.4l4 4m0 -4l-4 4M495.7 526.5v4.6M493.7 526.8l4 4m0 -4l-4 4M497.3 525.2v4.6M495.3 525.5l4 4m0 -4l-4 4M498.9 526.6v4.6M496.9 526.9l4 4m0 -4l-4 4M500.5 527.4v4.6M498.5 527.7l4 4m0 -4l-4 4M503.7 526.7v4.6M501.7 527l4 4m0 -4l-4 4M508.5 523.7v4.6M506.5 524l4 4m0 -4l-4 4M510.1 525.3v4.6M508.1 525.6l4 4m0 -4l-4 4M511.7 529.5v4.6M509.7 529.8l4 4m0 -4l-4 4M513.3 529.4v4.6M511.3 529.7l4 4m0 -4l-4 4M514.9 530.5v4.6M512.9 530.8l4 4m0 -4l-4 4M516.5 528.3v4.6M514.5 528.6l4 4m0 -4l-4 4M518.1 527.6v4.6M516.1 527.9l4 4m0 -4l-4 4M519.7 530.6v4.6M517.7 530.9l4 4m0 -4l-4 4M521.3 525v4.6M519.3 525.3l4 4m0 -4l-4 4M522.9 523.7v4.6M520.9 524l4 4m0 -4l-4 4M524.5 532.7v4.6M522.5 533l4 4m0 -4l-4 4M527.7 524.2v4.6M525.7 524.5l4 4m0 -4l-4 4M529.3 529.6v4.6M527.3 529.9l4 4m0 -4l-4 4M530.9 521.8v4.6M528.9 522.1l4 4m0 -4l-4 4M532.5 523.9v4.6M530.5 524.2l4 4m0 -4l-4 4M534.1 529.2v4.6M532.1 529.5l4 4m0 -4l-4 4M538.9 521.2v4.6M536.9 521.5l4 4m0 -4l-4 4M540.5 528.7v4.6M538.5 529l4 4m0 -4l-4 4M542.1 527.7v4.6M540.1 528l4 4m0 -4l-4 4M543.7 533.2v4.6M541.7 533.5l4 4m0 -4l-4 4M545.3 525v4.6M543.3 525.3l4 4m0 -4l-4 4M546.9 527.9v4.6M544.9 528.2l4 4m0 -4l-4 4M548.5 525.2v4.6M546.5 525.5l4 4m0 -4l-4 4M551.7 525.6v4.6M549.7 525.9l4 4m0 -4l-4 4M553.3 528.3v4.6M551.3 528.6l4 4m0 -4l-4 4M558.1 529.3v4.6M556.1 529.6l4 4m0 -4l-4 4M559.7 529.6v4.6M557.7 529.9l4 4m0 -4l-4 4M561.3 529.2v4.6M559.3 529.5l4 4m0 -4l-4 4M562.9 527.1v4.6M560.9 527.4l4 4m0 -4l-4 4M564.5 520.5v4.6M562.5 520.8l4 4m0 -4l-4 4M566.1 526v4.6M564.1 526.3l4 4m0 -4l-4 4M567.7 526v4.6M565.7 526.3l4 4m0 -4l-4 4M569.3 529.2v4.6M567.3 529.5l4 4m0 -4l-4 4M570.9 523.2v4.6M568.9 523.5l4 4m0 -4l-4 4M572.5 523.5v4.6M570.5 523.8l4 4m0 -4l-4 4M575.7 523.4v4.6M573.7 523.7l4 4m0 -4l-4 4M577.3 518v4.6M575.3 518.3l4 4m0 -4l-4 4M578.9 527.2v4.6M576.9 527.5l4 4m0 -4l-4 4M580.5 529v4.6M578.5 529.3l4 4m0 -4l-4 4M582.1 525.4v4.6M580.1 525.7l4 4m0 -4l-4 4M585.3 530.3v4.6M583.3 530.6l4 4m0 -4l-4 4M586.9 530.4v4.6M584.9 530.7l4 4m0 -4l-4 4M588.5 527.6v4.6M586.5 527.9l4 4m0 -4l-4 4M590.1 528.6v4.6M588.1 528.9l4 4m0 -4l-4 4M591.7 522.6v4.6M589.7 522.9l4 4m0 -4l-4 4M593.3 526v4.6M591.3 526.3l4 4m0 -4l-4 4M594.9 525.2v4.6M592.9 525.5l4 4m0 -4l-4 4M596.5 530.5v4.6M594.5 530.8l4 4m0 -4l-4 4M598.1 530.5v4.6M596.1 530.8l4 4m0 -4l-4 4M599.7 525.7v4.6M597.7 526l4 4m0 -4l-4 4M601.3 526.5v4.6M599.3 526.8l4 4m0 -4l-4 4M602.9 523v4.6M600.9 523.3l4 4m0 -4l-4 4M604.5 526v4.6M602.5 526.3l4 4m0 -4l-4 4M607.7 525v4.6M605.7 525.3l4 4m0 -4l-4 4M609.3 532.1v4.6M607.3 532.4l4 4m0 -4l-4 4M612.5 529.3v4.6M610.5 529.6l4 4m0 -4l-4 4M614.1 524.5v4.6M612.1 524.8l4 4m0 -4l-4 4M615.7 525.1v4.6M613.7 525.4l4 4m0 -4l-4 4M617.3 530.1v4.6M615.3 530.4l4 4m0 -4l-4 4M618.9 527.7v4.6M616.9 528l4 4m0 -4l-4 4M620.5 524.3v4.6M618.5 524.6l4 4m0 -4l-4 4M622.1 531.1v4.6M620.1 531.4l4 4m0 -4l-4 4" stroke="#6BA9E2" stroke-width="0.8" fill="none" opacity="0.8"/>
<path d="M129.2 522.6v13M127.2 527.2l4 4m0 -4l-4 4M153 517.1v8.6M151 519.4l4 4m0 -4l-4 4M182.6 516.8v10.7M180.6 520.1l4 4m0 -4l-4 4M191.9 528.8v8.4M189.9 530.9l4 4m0 -4l-4 4M197.7 521.4v9.3M195.7 524l4 4m0 -4l-4 4M210.6 525v10.5M208.6 528.3l4 4m0 -4l-4 4M213.8 519.9v11.9M211.8 523.8l4 4m0 -4l-4 4M223.4 521.8v13.7M221.4 526.7l4 4m0 -4l-4 4M233 529.9v12.6M231 534.2l4 4m0 -4l-4 4M236.2 523.7v13.9M234.2 528.7l4 4m0 -4l-4 4M239.4 531.3v9.5M237.4 534.1l4 4m0 -4l-4 4M255.4 529.7v13.2M253.4 534.3l4 4m0 -4l-4 4M258.6 534.1v13M256.6 538.6l4 4m0 -4l-4 4M264.5 524.6v12.8M262.5 529l4 4m0 -4l-4 4M269.7 528.4v10.2M267.7 531.5l4 4m0 -4l-4 4M282.7 519.9v8.8M280.7 522.3l4 4m0 -4l-4 4M295.7 526.6v11.4M293.7 530.3l4 4m0 -4l-4 4M300.9 526.2v10.6M298.9 529.5l4 4m0 -4l-4 4M308.7 530.9v10.4M306.7 534.1l4 4m0 -4l-4 4M311.3 528.7v12.5M309.3 533l4 4m0 -4l-4 4M313.9 523.1v13.7M311.9 527.9l4 4m0 -4l-4 4M319.1 527.9v12.7M317.1 532.3l4 4m0 -4l-4 4M326.9 524.8v8.4M324.9 527l4 4m0 -4l-4 4M329.5 525.8v12.5M327.5 530.1l4 4m0 -4l-4 4M334.1 525v13.7M332.1 529.8l4 4m0 -4l-4 4M340.5 518.4v12.4M338.5 522.5l4 4m0 -4l-4 4M346.9 524.3v13.2M344.9 528.9l4 4m0 -4l-4 4M348.5 520.9v10.1M346.5 524l4 4m0 -4l-4 4M351.7 527.3v11.8M349.7 531.2l4 4m0 -4l-4 4M364.5 525.9v8.3M362.5 528.1l4 4m0 -4l-4 4M366.1 526.6v10.2M364.1 529.7l4 4m0 -4l-4 4M367.7 519.4v13.5M365.7 524.2l4 4m0 -4l-4 4M370.9 523.1v13.7M368.9 527.9l4 4m0 -4l-4 4M374.1 523.2v12.6M372.1 527.5l4 4m0 -4l-4 4M377.3 522.5v9.5M375.3 525.2l4 4m0 -4l-4 4M383.7 530.8v12.2M381.7 534.9l4 4m0 -4l-4 4M385.3 524.6v10.2M383.3 527.7l4 4m0 -4l-4 4M386.9 527v8.2M384.9 529.1l4 4m0 -4l-4 4M390.1 527.2v8.3M388.1 529.4l4 4m0 -4l-4 4M393.3 529.8v8.6M391.3 532.1l4 4m0 -4l-4 4M396.5 518.1v13.9M394.5 523.1l4 4m0 -4l-4 4M404.5 522.6v10M402.5 525.6l4 4m0 -4l-4 4M409.3 527v8.9M407.3 529.4l4 4m0 -4l-4 4M410.9 522.4v10.8M408.9 525.7l4 4m0 -4l-4 4M415.7 523.4v10M413.7 526.4l4 4m0 -4l-4 4M420.5 531.5v8.5M418.5 533.8l4 4m0 -4l-4 4M428.5 523.4v10.8M426.5 526.8l4 4m0 -4l-4 4M431.7 519.7v12.7M429.7 524.1l4 4m0 -4l-4 4M434.9 524.5v11.6M432.9 528.3l4 4m0 -4l-4 4M441.3 528.3v9.3M439.3 531l4 4m0 -4l-4 4M444.5 520.7v13.4M442.5 525.4l4 4m0 -4l-4 4M449.3 522.2v13.6M447.3 527l4 4m0 -4l-4 4M452.5 523.9v13.4M450.5 528.6l4 4m0 -4l-4 4M455.7 524v10.5M453.7 527.3l4 4m0 -4l-4 4M462.1 519.8v8.4M460.1 521.9l4 4m0 -4l-4 4M463.7 522.9v11.9M461.7 526.9l4 4m0 -4l-4 4M466.9 522.4v13M464.9 527l4 4m0 -4l-4 4M468.5 525.4v11.1M466.5 529l4 4m0 -4l-4 4M474.9 522.2v11.1M472.9 525.8l4 4m0 -4l-4 4M476.5 521.5v13.7M474.5 526.3l4 4m0 -4l-4 4M478.1 517.7v12.7M476.1 522.1l4 4m0 -4l-4 4M479.7 514.4v10.7M477.7 517.8l4 4m0 -4l-4 4M481.3 517v8.8M479.3 519.4l4 4m0 -4l-4 4M482.9 517.8v11.1M480.9 521.3l4 4m0 -4l-4 4M487.7 517.3v10.2M485.7 520.4l4 4m0 -4l-4 4M489.3 516.4v8.8M487.3 518.8l4 4m0 -4l-4 4M492.5 514.9v13.8M490.5 519.8l4 4m0 -4l-4 4M494.1 520.9v9.5M492.1 523.7l4 4m0 -4l-4 4M495.7 518.1v13.3M493.7 522.8l4 4m0 -4l-4 4M497.3 522v9.6M495.3 524.7l4 4m0 -4l-4 4M498.9 519.1v12.2M496.9 523.2l4 4m0 -4l-4 4M500.5 516.6v13.3M498.5 521.3l4 4m0 -4l-4 4M503.7 522.6v11.1M501.7 526.1l4 4m0 -4l-4 4M505.3 519.3v9.7M503.3 522.1l4 4m0 -4l-4 4M508.5 520.6v10.4M506.5 523.8l4 4m0 -4l-4 4M510.1 518.2v11.4M508.1 521.8l4 4m0 -4l-4 4M514.9 520.5v12.3M512.9 524.7l4 4m0 -4l-4 4M518.1 520.7v13.4M516.1 525.5l4 4m0 -4l-4 4M519.7 516v9.1M517.7 518.5l4 4m0 -4l-4 4M562.9 522.3v9.6M560.9 525.1l4 4m0 -4l-4 4M566.1 529v11.3M564.1 532.7l4 4m0 -4l-4 4M567.7 525.5v10M565.7 528.5l4 4m0 -4l-4 4M569.3 528.3v12.7M567.3 532.6l4 4m0 -4l-4 4M570.9 527.8v10.4M568.9 531l4 4m0 -4l-4 4M578.9 524.1v12.1M576.9 528.2l4 4m0 -4l-4 4M580.5 525.2v13.3M578.5 529.9l4 4m0 -4l-4 4M585.3 528.6v8.7M583.3 530.9l4 4m0 -4l-4 4M586.9 527.1v12.4M584.9 531.4l4 4m0 -4l-4 4M601.3 534v8.8M599.3 536.4l4 4m0 -4l-4 4M607.7 525.6v8.1M605.7 527.7l4 4m0 -4l-4 4M610.9 526.4v8.1M608.9 528.5l4 4m0 -4l-4 4M612.5 528.3v8.2M610.5 530.4l4 4m0 -4l-4 4M614.1 526.4v12.1M612.1 530.4l4 4m0 -4l-4 4M617.3 529.3v11.9M615.3 533.2l4 4m0 -4l-4 4M618.9 522.2v10.7M616.9 525.6l4 4m0 -4l-4 4M620.5 526.3v12.5M618.5 530.5l4 4m0 -4l-4 4M622.1 523.9v11.8M620.1 527.9l4 4m0 -4l-4 4M623.7 522.8v8.7M621.7 525.1l4 4m0 -4l-4 4M86 498v14M84 503l4 4m0 -4l-4 4M431 500v50M429 523l4 4m0 -4l-4 4M387 537.4v16M385 543.4l4 4m0 -4l-4 4M388 549.8v12M386 553.8l4 4m0 -4l-4 4M611.4 548v12M609.4 552l4 4m0 -4l-4 4M612.5 546v10M610.5 549l4 4m0 -4l-4 4M618.6 527v8M616.6 529l4 4m0 -4l-4 4M621 534v8M619 536l4 4m0 -4l-4 4M623.8 538.3v8M621.8 540.3l4 4m0 -4l-4 4" stroke="#9A78B8" stroke-width="0.8" fill="none" opacity="0.8"/>
</g>
<rect x="54.5" y="18.4" width="574" height="93.1" fill="none" stroke="#222" stroke-width="1.1"/>
<rect x="54.5" y="111.5" width="574" height="93.5" fill="none" stroke="#222" stroke-width="1.1"/>
<rect x="54.5" y="205" width="574" height="93.2" fill="none" stroke="#222" stroke-width="1.1"/>
<rect x="54.5" y="298.2" width="574" height="93.4" fill="none" stroke="#222" stroke-width="1.1"/>
<rect x="54.5" y="391.6" width="574" height="93.3" fill="none" stroke="#222" stroke-width="1.1"/>
<rect x="54.5" y="484.9" width="574" height="93.5" fill="none" stroke="#222" stroke-width="1.1"/>
<line x1="54.5" y1="111.5" x2="628.5" y2="111.5" stroke="#404040" stroke-width="1.7"/>
<line x1="54.5" y1="205" x2="628.5" y2="205" stroke="#404040" stroke-width="1.7"/>
<line x1="54.5" y1="298.2" x2="628.5" y2="298.2" stroke="#404040" stroke-width="1.7"/>
<line x1="54.5" y1="391.6" x2="628.5" y2="391.6" stroke="#404040" stroke-width="1.7"/>
<line x1="54.5" y1="484.9" x2="628.5" y2="484.9" stroke="#404040" stroke-width="1.7"/>
<text x="45.8" y="21.4" font-size="8.6" text-anchor="end">4</text>
<text x="45.8" y="40.8" font-size="8.6" text-anchor="end">2</text>
<text x="45.8" y="60.2" font-size="8.6" text-anchor="end">0</text>
<text x="45.8" y="79.6" font-size="8.6" text-anchor="end">−2</text>
<text x="45.8" y="99" font-size="8.6" text-anchor="end">−4</text>
<text x="45.8" y="136.7" font-size="8.6" text-anchor="end">10</text>
<text x="45.8" y="161.2" font-size="8.6" text-anchor="end">0</text>
<text x="45.8" y="185.7" font-size="8.6" text-anchor="end">−10</text>
<text x="45.8" y="214.5" font-size="8.6" text-anchor="end">10</text>
<text x="45.8" y="234.5" font-size="8.6" text-anchor="end">5</text>
<text x="45.8" y="254.5" font-size="8.6" text-anchor="end">0</text>
<text x="45.8" y="274.5" font-size="8.6" text-anchor="end">−5</text>
<text x="45.8" y="294.5" font-size="8.6" text-anchor="end">−10</text>
<text x="45.8" y="308.1" font-size="8.6" text-anchor="end">2</text>
<text x="45.8" y="328.1" font-size="8.6" text-anchor="end">1</text>
<text x="45.8" y="348.1" font-size="8.6" text-anchor="end">0</text>
<text x="45.8" y="368.1" font-size="8.6" text-anchor="end">−1</text>
<text x="45.8" y="388.1" font-size="8.6" text-anchor="end">−2</text>
<text x="45.8" y="395.8" font-size="8.6" text-anchor="end">10</text>
<text x="45.8" y="418.5" font-size="8.6" text-anchor="end">5</text>
<text x="45.8" y="441.2" font-size="8.6" text-anchor="end">0</text>
<text x="45.8" y="463.9" font-size="8.6" text-anchor="end">−5</text>
<text x="45.8" y="486.6" font-size="8.6" text-anchor="end">−10</text>
<text x="45.8" y="506.2" font-size="8.6" text-anchor="end">1</text>
<text x="45.8" y="532.2" font-size="8.6" text-anchor="end">0</text>
<text x="45.8" y="558.2" font-size="8.6" text-anchor="end">−1</text>
<text x="54.5" y="593.9" font-size="10" text-anchor="middle">2004</text>
<text x="123" y="593.9" font-size="10" text-anchor="middle">2006</text>
<text x="191.5" y="593.9" font-size="10" text-anchor="middle">2008</text>
<text x="260.1" y="593.9" font-size="10" text-anchor="middle">2010</text>
<text x="328.6" y="593.9" font-size="10" text-anchor="middle">2012</text>
<text x="397.1" y="593.9" font-size="10" text-anchor="middle">2014</text>
<text x="465.6" y="593.9" font-size="10" text-anchor="middle">2016</text>
<text x="534.1" y="593.9" font-size="10" text-anchor="middle">2018</text>
<text x="602.7" y="593.9" font-size="10" text-anchor="middle">2020</text>
<path d="M51.9 110.5h2.6M51.9 105.7h2.6M51.9 100.8h2.6M49.3 96h5.2M51.9 91.2h2.6M51.9 86.3h2.6M51.9 81.5h2.6M49.3 76.6h5.2M51.9 71.8h2.6M51.9 66.9h2.6M51.9 62.1h2.6M49.3 57.2h5.2M51.9 52.4h2.6M51.9 47.5h2.6M51.9 42.7h2.6M49.3 37.8h5.2M51.9 33h2.6M51.9 28.1h2.6M51.9 23.3h2.6M49.3 18.4h5.2M51.9 202.3h2.6M51.9 197.4h2.6M51.9 192.5h2.6M51.9 187.6h2.6M49.3 182.7h5.2M51.9 177.8h2.6M51.9 172.9h2.6M51.9 168h2.6M51.9 163.1h2.6M49.3 158.2h5.2M51.9 153.3h2.6M51.9 148.4h2.6M51.9 143.5h2.6M51.9 138.6h2.6M49.3 133.7h5.2M51.9 128.8h2.6M51.9 123.9h2.6M51.9 119h2.6M51.9 114.1h2.6M51.9 295.5h2.6M49.3 291.5h5.2M51.9 287.5h2.6M51.9 283.5h2.6M51.9 279.5h2.6M51.9 275.5h2.6M49.3 271.5h5.2M51.9 267.5h2.6M51.9 263.5h2.6M51.9 259.5h2.6M51.9 255.5h2.6M49.3 251.5h5.2M51.9 247.5h2.6M51.9 243.5h2.6M51.9 239.5h2.6M51.9 235.5h2.6M49.3 231.5h5.2M51.9 227.5h2.6M51.9 223.5h2.6M51.9 219.5h2.6M51.9 215.5h2.6M49.3 211.5h5.2M51.9 207.5h2.6M51.9 389.1h2.6M49.3 385.1h5.2M51.9 381.1h2.6M51.9 377.1h2.6M51.9 373.1h2.6M51.9 369.1h2.6M49.3 365.1h5.2M51.9 361.1h2.6M51.9 357.1h2.6M51.9 353.1h2.6M51.9 349.1h2.6M49.3 345.1h5.2M51.9 341.1h2.6M51.9 337.1h2.6M51.9 333.1h2.6M51.9 329.1h2.6M49.3 325.1h5.2M51.9 321.1h2.6M51.9 317.1h2.6M51.9 313.1h2.6M51.9 309.1h2.6M49.3 305.1h5.2M51.9 301.1h2.6M49.3 483.6h5.2M51.9 479.1h2.6M51.9 474.5h2.6M51.9 470h2.6M51.9 465.4h2.6M49.3 460.9h5.2M51.9 456.4h2.6M51.9 451.8h2.6M51.9 447.3h2.6M51.9 442.7h2.6M49.3 438.2h5.2M51.9 433.7h2.6M51.9 429.1h2.6M51.9 424.6h2.6M51.9 420h2.6M49.3 415.5h5.2M51.9 411h2.6M51.9 406.4h2.6M51.9 401.9h2.6M51.9 397.3h2.6M49.3 392.8h5.2M51.9 576h2.6M51.9 570.8h2.6M51.9 565.6h2.6M51.9 560.4h2.6M49.3 555.2h5.2M51.9 550h2.6M51.9 544.8h2.6M51.9 539.6h2.6M51.9 534.4h2.6M49.3 529.2h5.2M51.9 524h2.6M51.9 518.8h2.6M51.9 513.6h2.6M51.9 508.4h2.6M49.3 503.2h5.2M51.9 498h2.6M51.9 492.8h2.6M51.9 487.6h2.6M54.5 578.4v5.2M71.6 578.4v2M88.8 578.4v2M105.9 578.4v2M123 578.4v5.2M140.1 578.4v2M157.3 578.4v2M174.4 578.4v2M191.5 578.4v5.2M208.7 578.4v2M225.8 578.4v2M242.9 578.4v2M260.1 578.4v5.2M277.2 578.4v2M294.3 578.4v2M311.4 578.4v2M328.6 578.4v5.2M345.7 578.4v2M362.8 578.4v2M380 578.4v2M397.1 578.4v5.2M414.2 578.4v2M431.4 578.4v2M448.5 578.4v2M465.6 578.4v5.2M482.8 578.4v2M499.9 578.4v2M517 578.4v2M534.1 578.4v5.2M551.3 578.4v2M568.4 578.4v2M585.5 578.4v2M602.7 578.4v5.2M619.8 578.4v2" stroke="#333" stroke-width="0.8" fill="none"/>
<text x="54.3" y="12.8" font-size="17">B1937+21</text>
<text x="170.8" y="11.9" font-size="10" text-anchor="middle">ASP/GASP</text>
<text x="297.4" y="11.9" font-size="10" text-anchor="middle">ASP/GUPPI</text>
<text x="477.1" y="11.9" font-size="10" text-anchor="middle">PUPPI/GUPPI</text>
<text x="341.5" y="606.8" font-size="12" text-anchor="middle">Year</text>
<text transform="translate(17.5 65.5) rotate(-90)" font-size="10.6" text-anchor="middle">NB &amp; WB DMX</text>
<text transform="translate(30 65.8) rotate(-90)" font-size="10.4"><tspan x="-32.3" y="0">[</tspan><tspan x="-28.7" y="0">10</tspan><tspan x="-17.6" y="-4.4" font-size="8">−3</tspan><tspan x="-5.8" y="0">pc</tspan><tspan x="6.4" y="0">cm</tspan><tspan x="19.8" y="-4.4" font-size="8">−3</tspan><tspan x="28.6" y="0">]</tspan></text>
<text transform="translate(14.6 158.4) rotate(-90)" font-size="10.6" text-anchor="middle">All NB TOA</text>
<text transform="translate(24.9 158.4) rotate(-90)" font-size="10.6" text-anchor="middle">Residual [<tspan font-style="italic">μ<tspan dx="0.8">s</tspan></tspan>]</text>
<text transform="translate(14.8 251.2) rotate(-90)" font-size="10.6" text-anchor="middle">Avg. NB TOA</text>
<text transform="translate(25.1 251.2) rotate(-90)" font-size="10.6" text-anchor="middle">Residual [<tspan font-style="italic">μ<tspan dx="0.8">s</tspan></tspan>]</text>
<text transform="translate(8.8 344.6) rotate(-90)" font-size="10.6" text-anchor="middle">Whitened Avg.</text>
<text transform="translate(19.3 344.6) rotate(-90)" font-size="10.6" text-anchor="middle">NB TOA</text>
<text transform="translate(29.7 344.6) rotate(-90)" font-size="10.6" text-anchor="middle">Residual [<tspan font-style="italic">μ<tspan dx="0.8">s</tspan></tspan>]</text>
<text transform="translate(14.9 438.3) rotate(-90)" font-size="10.6" text-anchor="middle">All WB TOA</text>
<text transform="translate(25 438.3) rotate(-90)" font-size="10.6" text-anchor="middle">Residual [<tspan font-style="italic">μ<tspan dx="0.8">s</tspan></tspan>]</text>
<text transform="translate(18.7 531.8) rotate(-90)" font-size="10.6" text-anchor="middle">All Whitened WB</text>
<text transform="translate(28.7 531.8) rotate(-90)" font-size="10.6" text-anchor="middle">TOA Residual [<tspan font-style="italic">μ<tspan dx="0.8">s</tspan></tspan>]</text>
<rect x="557.4" y="22.6" width="67" height="26.6" rx="2" fill="#fff" fill-opacity="0.8" stroke="#d6d6d6" stroke-width="0.8"/>
<path d="M569.5 24.8v8.5" stroke="#111" stroke-width="1"/><circle cx="569.5" cy="29.3" r="1.2" fill="#000"/>
<path d="M569.6 36.7v8.4M567.8 39l3.6 3.6m0 -3.6l-3.6 3.6" stroke="#999" stroke-width="0.8" fill="none"/>
<text x="585.3" y="32.3" font-size="8.4">NB DMX</text>
<text x="585.6" y="44.3" font-size="8.4">WB DMX</text>
<rect x="59.1" y="561.4" width="427.2" height="12.9" rx="2" fill="#fff" fill-opacity="0.8" stroke="#d6d6d6" stroke-width="0.8"/>
<path d="M69.8 563.3v9.2M68.2 566.3l3.2 3.2m0 -3.2l-3.2 3.2" stroke="#6BA9E2" stroke-width="0.8" fill="none" opacity="0.85"/>
<text x="78.3" y="570.9" font-size="8.5">ASP L</text>
<path d="M109.6 563.3v9.2M108 566.3l3.2 3.2m0 -3.2l-3.2 3.2" stroke="#6BA9E2" stroke-width="0.8" fill="none" opacity="0.85"/>
<text x="118.4" y="570.9" font-size="8.5">PUPPI L</text>
<path d="M158.3 563.3v9.2M156.7 566.3l3.2 3.2m0 -3.2l-3.2 3.2" stroke="#407BD5" stroke-width="0.8" fill="none" opacity="0.85"/>
<text x="166.9" y="570.9" font-size="8.5">GASP L</text>
<path d="M204.5 563.3v9.2M202.9 566.3l3.2 3.2m0 -3.2l-3.2 3.2" stroke="#407BD5" stroke-width="0.8" fill="none" opacity="0.85"/>
<text x="213.6" y="570.9" font-size="8.5">GUPPI L</text>
<path d="M254 563.3v9.2M252.4 566.3l3.2 3.2m0 -3.2l-3.2 3.2" stroke="#61C853" stroke-width="0.8" fill="none" opacity="0.85"/>
<text x="262.9" y="570.9" font-size="8.5">GASP 820 MHz</text>
<path d="M328.3 563.3v9.2M326.7 566.3l3.2 3.2m0 -3.2l-3.2 3.2" stroke="#61C853" stroke-width="0.8" fill="none" opacity="0.85"/>
<text x="337" y="570.9" font-size="8.5">GUPPI 820 MHz</text>
<path d="M405.2 563.3v9.2M403.6 566.3l3.2 3.2m0 -3.2l-3.2 3.2" stroke="#9A78B8" stroke-width="0.8" fill="none" opacity="0.85"/>
<text x="413.3" y="570.9" font-size="8.5">ASP S</text>
<path d="M444.3 563.3v9.2M442.7 566.3l3.2 3.2m0 -3.2l-3.2 3.2" stroke="#9A78B8" stroke-width="0.8" fill="none" opacity="0.85"/>
<text x="453.3" y="570.9" font-size="8.5">PUPPI S</text>
</svg>
</body></html>
